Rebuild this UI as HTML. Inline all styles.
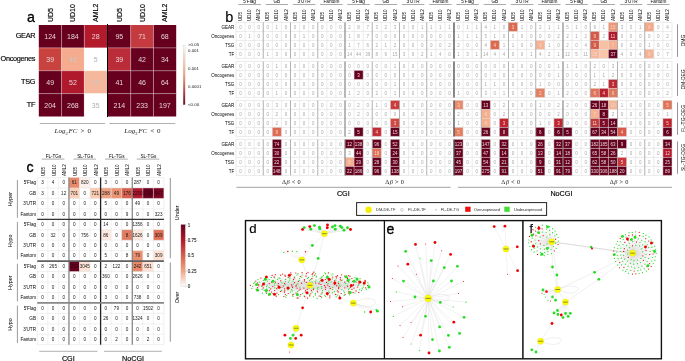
<!DOCTYPE html>
<html><head><meta charset="utf-8"><style>
html,body{margin:0;padding:0;background:#fff;}
svg{display:block;will-change:transform;}
</style></head><body>
<svg width="685" height="361" viewBox="0 0 685 361" font-family='"Liberation Sans", sans-serif'>
<rect width="685" height="361" fill="#fff"/>
<rect x="38.80" y="25.00" width="22.75" height="22.88" fill="#67001f"/>
<rect x="61.55" y="25.00" width="22.75" height="22.88" fill="#67001f"/>
<rect x="84.30" y="25.00" width="22.75" height="22.88" fill="#b31b2d"/>
<rect x="107.95" y="25.00" width="22.75" height="22.88" fill="#67001f"/>
<rect x="130.70" y="25.00" width="22.75" height="22.88" fill="#c43a3e"/>
<rect x="153.45" y="25.00" width="22.75" height="22.88" fill="#67001f"/>
<rect x="38.80" y="47.88" width="22.75" height="22.88" fill="#c8433f"/>
<rect x="61.55" y="47.88" width="22.75" height="22.88" fill="#f5ac8e"/>
<rect x="84.30" y="47.88" width="22.75" height="22.88" fill="#ffffff"/>
<rect x="107.95" y="47.88" width="22.75" height="22.88" fill="#ba2c37"/>
<rect x="130.70" y="47.88" width="22.75" height="22.88" fill="#67001f"/>
<rect x="153.45" y="47.88" width="22.75" height="22.88" fill="#67001f"/>
<rect x="38.80" y="70.75" width="22.75" height="22.88" fill="#67001f"/>
<rect x="61.55" y="70.75" width="22.75" height="22.88" fill="#b0192c"/>
<rect x="84.30" y="70.75" width="22.75" height="22.88" fill="#f6b89c"/>
<rect x="107.95" y="70.75" width="22.75" height="22.88" fill="#67001f"/>
<rect x="130.70" y="70.75" width="22.75" height="22.88" fill="#67001f"/>
<rect x="153.45" y="70.75" width="22.75" height="22.88" fill="#67001f"/>
<rect x="38.80" y="93.62" width="22.75" height="22.88" fill="#67001f"/>
<rect x="61.55" y="93.62" width="22.75" height="22.88" fill="#67001f"/>
<rect x="84.30" y="93.62" width="22.75" height="22.88" fill="#ffffff"/>
<rect x="107.95" y="93.62" width="22.75" height="22.88" fill="#67001f"/>
<rect x="130.70" y="93.62" width="22.75" height="22.88" fill="#67001f"/>
<rect x="153.45" y="93.62" width="22.75" height="22.88" fill="#67001f"/>
<text x="50.17" y="38.94" font-size="7.0" fill="#e6d2d6" text-anchor="middle">124</text>
<text x="72.92" y="38.94" font-size="7.0" fill="#e6d2d6" text-anchor="middle">184</text>
<text x="95.67" y="38.94" font-size="7.0" fill="#e6d2d6" text-anchor="middle">28</text>
<text x="119.33" y="38.94" font-size="7.0" fill="#e6d2d6" text-anchor="middle">95</text>
<text x="142.08" y="38.94" font-size="7.0" fill="#e6d2d6" text-anchor="middle">71</text>
<text x="164.83" y="38.94" font-size="7.0" fill="#e6d2d6" text-anchor="middle">68</text>
<text x="50.17" y="61.81" font-size="7.0" fill="#e6d2d6" text-anchor="middle">39</text>
<text x="72.92" y="61.81" font-size="7.0" fill="#c9c9c9" text-anchor="middle">42</text>
<text x="95.67" y="61.81" font-size="7.0" fill="#b0b0b0" text-anchor="middle">5</text>
<text x="119.33" y="61.81" font-size="7.0" fill="#e6d2d6" text-anchor="middle">39</text>
<text x="142.08" y="61.81" font-size="7.0" fill="#e6d2d6" text-anchor="middle">42</text>
<text x="164.83" y="61.81" font-size="7.0" fill="#e6d2d6" text-anchor="middle">34</text>
<text x="50.17" y="84.69" font-size="7.0" fill="#e6d2d6" text-anchor="middle">49</text>
<text x="72.92" y="84.69" font-size="7.0" fill="#e6d2d6" text-anchor="middle">52</text>
<text x="95.67" y="84.69" font-size="7.0" fill="#c9c9c9" text-anchor="middle">10</text>
<text x="119.33" y="84.69" font-size="7.0" fill="#e6d2d6" text-anchor="middle">41</text>
<text x="142.08" y="84.69" font-size="7.0" fill="#e6d2d6" text-anchor="middle">46</text>
<text x="164.83" y="84.69" font-size="7.0" fill="#e6d2d6" text-anchor="middle">64</text>
<text x="50.17" y="107.56" font-size="7.0" fill="#e6d2d6" text-anchor="middle">204</text>
<text x="72.92" y="107.56" font-size="7.0" fill="#e6d2d6" text-anchor="middle">268</text>
<text x="95.67" y="107.56" font-size="7.0" fill="#b0b0b0" text-anchor="middle">35</text>
<text x="119.33" y="107.56" font-size="7.0" fill="#e6d2d6" text-anchor="middle">214</text>
<text x="142.08" y="107.56" font-size="7.0" fill="#e6d2d6" text-anchor="middle">233</text>
<text x="164.83" y="107.56" font-size="7.0" fill="#e6d2d6" text-anchor="middle">197</text>
<line x1="61.55" y1="25.00" x2="61.55" y2="116.50" stroke="rgba(255,255,255,0.45)" stroke-width="0.7"/>
<line x1="84.30" y1="25.00" x2="84.30" y2="116.50" stroke="rgba(255,255,255,0.45)" stroke-width="0.7"/>
<line x1="130.70" y1="25.00" x2="130.70" y2="116.50" stroke="rgba(255,255,255,0.45)" stroke-width="0.7"/>
<line x1="153.45" y1="25.00" x2="153.45" y2="116.50" stroke="rgba(255,255,255,0.45)" stroke-width="0.7"/>
<line x1="38.80" y1="47.88" x2="176.20" y2="47.88" stroke="rgba(255,255,255,0.45)" stroke-width="0.7"/>
<line x1="38.80" y1="70.75" x2="176.20" y2="70.75" stroke="rgba(255,255,255,0.45)" stroke-width="0.7"/>
<line x1="38.80" y1="93.62" x2="176.20" y2="93.62" stroke="rgba(255,255,255,0.45)" stroke-width="0.7"/>
<line x1="107.50" y1="24.00" x2="107.50" y2="117.10" stroke="#000" stroke-width="1.0"/>
<text x="35.20" y="38.34" font-size="7.3" text-anchor="end" stroke="#000" stroke-width="0.15" letter-spacing="-0.3">GEAR</text>
<text x="35.20" y="61.21" font-size="7.3" text-anchor="end" stroke="#000" stroke-width="0.15" letter-spacing="-0.3">Oncogenes</text>
<text x="35.20" y="84.09" font-size="7.3" text-anchor="end" stroke="#000" stroke-width="0.15" letter-spacing="-0.3">TSG</text>
<text x="35.20" y="106.96" font-size="7.3" text-anchor="end" stroke="#000" stroke-width="0.15" letter-spacing="-0.3">TF</text>
<text x="52.67" y="22.00" font-size="7" transform="rotate(-90 52.67 22.00)" stroke="#000" stroke-width="0.15">UD5</text>
<text x="75.42" y="22.00" font-size="7" transform="rotate(-90 75.42 22.00)" stroke="#000" stroke-width="0.15">UD10</text>
<text x="98.17" y="22.00" font-size="7" transform="rotate(-90 98.17 22.00)" stroke="#000" stroke-width="0.15">AML2</text>
<text x="121.83" y="22.00" font-size="7" transform="rotate(-90 121.83 22.00)" stroke="#000" stroke-width="0.15">UD5</text>
<text x="144.58" y="22.00" font-size="7" transform="rotate(-90 144.58 22.00)" stroke="#000" stroke-width="0.15">UD10</text>
<text x="167.33" y="22.00" font-size="7" transform="rotate(-90 167.33 22.00)" stroke="#000" stroke-width="0.15">AML2</text>
<text x="27.00" y="21.70" font-size="14.2" stroke="#000" stroke-width="0.3">a</text>
<defs><linearGradient id="ga" x1="0" y1="0" x2="0" y2="1"><stop offset="0" stop-color="#ffffff"/><stop offset="0.08" stop-color="#fbefe8"/><stop offset="0.3" stop-color="#f5c9b0"/><stop offset="0.5" stop-color="#eba585"/><stop offset="0.7" stop-color="#cc5a55"/><stop offset="0.85" stop-color="#a02838"/><stop offset="1" stop-color="#67001f"/></linearGradient><linearGradient id="gc" x1="0" y1="0" x2="0" y2="1"><stop offset="0" stop-color="#67001f"/><stop offset="0.25" stop-color="#b2182b"/><stop offset="0.5" stop-color="#d6604d"/><stop offset="0.75" stop-color="#f4a582"/><stop offset="1" stop-color="#ffffff"/></linearGradient><radialGradient id="gell" cx="0.5" cy="0.5" r="0.5"><stop offset="0" stop-color="#999999" stop-opacity="1"/><stop offset="0.5" stop-color="#bbbbbb" stop-opacity="0.75"/><stop offset="1" stop-color="#e0e0e0" stop-opacity="0"/></radialGradient></defs>
<rect x="183.10" y="45.20" width="2.00" height="59.60" fill="url(#ga)" stroke="#bbbbbb" stroke-width="0.3"/>
<text x="188.00" y="46.00" font-size="4.4" fill="#222">&gt;0.05</text>
<text x="188.00" y="52.00" font-size="4.4" fill="#222">0.001</text>
<text x="188.00" y="70.30" font-size="4.4" fill="#222">0.001</text>
<text x="188.00" y="88.00" font-size="4.4" fill="#222">0.0001</text>
<text x="188.00" y="105.50" font-size="4.4" fill="#222">&lt;0.00</text>
<line x1="39.80" y1="123.50" x2="105.20" y2="123.50" stroke="#b0b0b0" stroke-width="1"/>
<line x1="109.40" y1="123.50" x2="175.30" y2="123.50" stroke="#b0b0b0" stroke-width="1"/>
<text y="133.2" font-size="7.0" fill="#222" font-family='"Liberation Serif", serif'><tspan x="54.6" font-style="italic">Log</tspan><tspan font-size="4.6" dy="1.5">2</tspan><tspan x="68.5" dy="-1.5" font-style="italic">FC</tspan><tspan x="80.6">&gt;</tspan><tspan x="87.4">0</tspan></text>
<text y="133.2" font-size="7.0" fill="#222" font-family='"Liberation Serif", serif'><tspan x="124.3" font-style="italic">Log</tspan><tspan font-size="4.6" dy="1.5">2</tspan><tspan x="138.2" dy="-1.5" font-style="italic">FC</tspan><tspan x="150.3">&lt;</tspan><tspan x="157.1">0</tspan></text>
<rect x="508.49" y="22.40" width="9.08" height="9.00" fill="#dd6a50"/>
<rect x="608.40" y="22.40" width="9.08" height="9.00" fill="#ef9677"/>
<rect x="644.74" y="22.40" width="9.08" height="9.00" fill="#f4a98a"/>
<rect x="590.24" y="31.40" width="9.08" height="9.00" fill="#d45a48"/>
<rect x="608.40" y="31.40" width="9.08" height="9.00" fill="#b2182b"/>
<rect x="490.32" y="40.40" width="9.08" height="9.00" fill="#dd6a50"/>
<rect x="535.74" y="40.40" width="9.08" height="9.00" fill="#f5b393"/>
<rect x="590.24" y="40.40" width="9.08" height="9.00" fill="#d45a48"/>
<rect x="599.32" y="40.40" width="9.08" height="9.00" fill="#f9c0a2"/>
<rect x="608.40" y="40.40" width="9.08" height="9.00" fill="#f6b090"/>
<rect x="590.24" y="49.40" width="9.08" height="9.00" fill="#f8b89a"/>
<rect x="599.32" y="49.40" width="9.08" height="9.00" fill="#fbc6aa"/>
<rect x="608.40" y="49.40" width="9.08" height="9.00" fill="#67001f"/>
<rect x="644.74" y="49.40" width="9.08" height="9.00" fill="#f6b495"/>
<line x1="236.00" y1="22.40" x2="671.98" y2="22.40" stroke="#d6d6d6" stroke-width="0.5"/>
<line x1="236.00" y1="31.40" x2="671.98" y2="31.40" stroke="#d6d6d6" stroke-width="0.5"/>
<line x1="236.00" y1="40.40" x2="671.98" y2="40.40" stroke="#d6d6d6" stroke-width="0.5"/>
<line x1="236.00" y1="49.40" x2="671.98" y2="49.40" stroke="#d6d6d6" stroke-width="0.5"/>
<line x1="236.00" y1="58.40" x2="671.98" y2="58.40" stroke="#d6d6d6" stroke-width="0.5"/>
<line x1="236.00" y1="22.40" x2="236.00" y2="58.40" stroke="#d6d6d6" stroke-width="0.5"/>
<line x1="245.08" y1="22.40" x2="245.08" y2="58.40" stroke="#d6d6d6" stroke-width="0.5"/>
<line x1="254.17" y1="22.40" x2="254.17" y2="58.40" stroke="#d6d6d6" stroke-width="0.5"/>
<line x1="263.25" y1="22.40" x2="263.25" y2="58.40" stroke="#a8a8a8" stroke-width="0.9"/>
<line x1="272.33" y1="22.40" x2="272.33" y2="58.40" stroke="#d6d6d6" stroke-width="0.5"/>
<line x1="281.42" y1="22.40" x2="281.42" y2="58.40" stroke="#d6d6d6" stroke-width="0.5"/>
<line x1="290.50" y1="22.40" x2="290.50" y2="58.40" stroke="#a8a8a8" stroke-width="0.9"/>
<line x1="299.58" y1="22.40" x2="299.58" y2="58.40" stroke="#d6d6d6" stroke-width="0.5"/>
<line x1="308.66" y1="22.40" x2="308.66" y2="58.40" stroke="#d6d6d6" stroke-width="0.5"/>
<line x1="317.75" y1="22.40" x2="317.75" y2="58.40" stroke="#a8a8a8" stroke-width="0.9"/>
<line x1="326.83" y1="22.40" x2="326.83" y2="58.40" stroke="#d6d6d6" stroke-width="0.5"/>
<line x1="335.91" y1="22.40" x2="335.91" y2="58.40" stroke="#d6d6d6" stroke-width="0.5"/>
<line x1="345.00" y1="22.40" x2="345.00" y2="58.40" stroke="#888888" stroke-width="1.2"/>
<line x1="354.08" y1="22.40" x2="354.08" y2="58.40" stroke="#d6d6d6" stroke-width="0.5"/>
<line x1="363.16" y1="22.40" x2="363.16" y2="58.40" stroke="#d6d6d6" stroke-width="0.5"/>
<line x1="372.25" y1="22.40" x2="372.25" y2="58.40" stroke="#a8a8a8" stroke-width="0.9"/>
<line x1="381.33" y1="22.40" x2="381.33" y2="58.40" stroke="#d6d6d6" stroke-width="0.5"/>
<line x1="390.41" y1="22.40" x2="390.41" y2="58.40" stroke="#d6d6d6" stroke-width="0.5"/>
<line x1="399.49" y1="22.40" x2="399.49" y2="58.40" stroke="#a8a8a8" stroke-width="0.9"/>
<line x1="408.58" y1="22.40" x2="408.58" y2="58.40" stroke="#d6d6d6" stroke-width="0.5"/>
<line x1="417.66" y1="22.40" x2="417.66" y2="58.40" stroke="#d6d6d6" stroke-width="0.5"/>
<line x1="426.74" y1="22.40" x2="426.74" y2="58.40" stroke="#a8a8a8" stroke-width="0.9"/>
<line x1="435.83" y1="22.40" x2="435.83" y2="58.40" stroke="#d6d6d6" stroke-width="0.5"/>
<line x1="444.91" y1="22.40" x2="444.91" y2="58.40" stroke="#d6d6d6" stroke-width="0.5"/>
<line x1="453.99" y1="22.40" x2="453.99" y2="58.40" stroke="#555555" stroke-width="1.4"/>
<line x1="463.08" y1="22.40" x2="463.08" y2="58.40" stroke="#d6d6d6" stroke-width="0.5"/>
<line x1="472.16" y1="22.40" x2="472.16" y2="58.40" stroke="#d6d6d6" stroke-width="0.5"/>
<line x1="481.24" y1="22.40" x2="481.24" y2="58.40" stroke="#a8a8a8" stroke-width="0.9"/>
<line x1="490.32" y1="22.40" x2="490.32" y2="58.40" stroke="#d6d6d6" stroke-width="0.5"/>
<line x1="499.41" y1="22.40" x2="499.41" y2="58.40" stroke="#d6d6d6" stroke-width="0.5"/>
<line x1="508.49" y1="22.40" x2="508.49" y2="58.40" stroke="#a8a8a8" stroke-width="0.9"/>
<line x1="517.57" y1="22.40" x2="517.57" y2="58.40" stroke="#d6d6d6" stroke-width="0.5"/>
<line x1="526.66" y1="22.40" x2="526.66" y2="58.40" stroke="#d6d6d6" stroke-width="0.5"/>
<line x1="535.74" y1="22.40" x2="535.74" y2="58.40" stroke="#a8a8a8" stroke-width="0.9"/>
<line x1="544.82" y1="22.40" x2="544.82" y2="58.40" stroke="#d6d6d6" stroke-width="0.5"/>
<line x1="553.90" y1="22.40" x2="553.90" y2="58.40" stroke="#d6d6d6" stroke-width="0.5"/>
<line x1="562.99" y1="22.40" x2="562.99" y2="58.40" stroke="#888888" stroke-width="1.2"/>
<line x1="572.07" y1="22.40" x2="572.07" y2="58.40" stroke="#d6d6d6" stroke-width="0.5"/>
<line x1="581.15" y1="22.40" x2="581.15" y2="58.40" stroke="#d6d6d6" stroke-width="0.5"/>
<line x1="590.24" y1="22.40" x2="590.24" y2="58.40" stroke="#a8a8a8" stroke-width="0.9"/>
<line x1="599.32" y1="22.40" x2="599.32" y2="58.40" stroke="#d6d6d6" stroke-width="0.5"/>
<line x1="608.40" y1="22.40" x2="608.40" y2="58.40" stroke="#d6d6d6" stroke-width="0.5"/>
<line x1="617.49" y1="22.40" x2="617.49" y2="58.40" stroke="#a8a8a8" stroke-width="0.9"/>
<line x1="626.57" y1="22.40" x2="626.57" y2="58.40" stroke="#d6d6d6" stroke-width="0.5"/>
<line x1="635.65" y1="22.40" x2="635.65" y2="58.40" stroke="#d6d6d6" stroke-width="0.5"/>
<line x1="644.74" y1="22.40" x2="644.74" y2="58.40" stroke="#a8a8a8" stroke-width="0.9"/>
<line x1="653.82" y1="22.40" x2="653.82" y2="58.40" stroke="#d6d6d6" stroke-width="0.5"/>
<line x1="662.90" y1="22.40" x2="662.90" y2="58.40" stroke="#d6d6d6" stroke-width="0.5"/>
<line x1="671.98" y1="22.40" x2="671.98" y2="58.40" stroke="#d6d6d6" stroke-width="0.5"/>
<text x="240.54" y="28.50" font-size="4.5" fill="#a8a8a8" text-anchor="middle">0</text>
<text x="249.62" y="28.50" font-size="4.5" fill="#a8a8a8" text-anchor="middle">0</text>
<text x="258.71" y="28.50" font-size="4.5" fill="#a8a8a8" text-anchor="middle">0</text>
<text x="267.79" y="28.50" font-size="4.5" fill="#a8a8a8" text-anchor="middle">0</text>
<text x="276.87" y="28.50" font-size="4.5" fill="#a8a8a8" text-anchor="middle">1</text>
<text x="285.96" y="28.50" font-size="4.5" fill="#a8a8a8" text-anchor="middle">0</text>
<text x="295.04" y="28.50" font-size="4.5" fill="#a8a8a8" text-anchor="middle">0</text>
<text x="304.12" y="28.50" font-size="4.5" fill="#a8a8a8" text-anchor="middle">0</text>
<text x="313.21" y="28.50" font-size="4.5" fill="#a8a8a8" text-anchor="middle">0</text>
<text x="322.29" y="28.50" font-size="4.5" fill="#a8a8a8" text-anchor="middle">0</text>
<text x="331.37" y="28.50" font-size="4.5" fill="#a8a8a8" text-anchor="middle">0</text>
<text x="340.45" y="28.50" font-size="4.5" fill="#a8a8a8" text-anchor="middle">0</text>
<text x="349.54" y="28.50" font-size="4.5" fill="#a8a8a8" text-anchor="middle">2</text>
<text x="358.62" y="28.50" font-size="4.5" fill="#a8a8a8" text-anchor="middle">8</text>
<text x="367.70" y="28.50" font-size="4.5" fill="#a8a8a8" text-anchor="middle">7</text>
<text x="376.79" y="28.50" font-size="4.5" fill="#a8a8a8" text-anchor="middle">3</text>
<text x="385.87" y="28.50" font-size="4.5" fill="#a8a8a8" text-anchor="middle">2</text>
<text x="394.95" y="28.50" font-size="4.5" fill="#a8a8a8" text-anchor="middle">3</text>
<text x="404.04" y="28.50" font-size="4.5" fill="#a8a8a8" text-anchor="middle">0</text>
<text x="413.12" y="28.50" font-size="4.5" fill="#a8a8a8" text-anchor="middle">0</text>
<text x="422.20" y="28.50" font-size="4.5" fill="#a8a8a8" text-anchor="middle">1</text>
<text x="431.28" y="28.50" font-size="4.5" fill="#a8a8a8" text-anchor="middle">1</text>
<text x="440.37" y="28.50" font-size="4.5" fill="#a8a8a8" text-anchor="middle">1</text>
<text x="449.45" y="28.50" font-size="4.5" fill="#a8a8a8" text-anchor="middle">1</text>
<text x="458.53" y="28.50" font-size="4.5" fill="#a8a8a8" text-anchor="middle">0</text>
<text x="467.62" y="28.50" font-size="4.5" fill="#a8a8a8" text-anchor="middle">1</text>
<text x="476.70" y="28.50" font-size="4.5" fill="#a8a8a8" text-anchor="middle">1</text>
<text x="485.78" y="28.50" font-size="4.5" fill="#a8a8a8" text-anchor="middle">4</text>
<text x="494.87" y="28.50" font-size="4.5" fill="#a8a8a8" text-anchor="middle">1</text>
<text x="503.95" y="28.50" font-size="4.5" fill="#a8a8a8" text-anchor="middle">0</text>
<text x="513.03" y="28.50" font-size="4.5" fill="#f0d8cc" text-anchor="middle">3</text>
<text x="522.11" y="28.50" font-size="4.5" fill="#a8a8a8" text-anchor="middle">1</text>
<text x="531.20" y="28.50" font-size="4.5" fill="#a8a8a8" text-anchor="middle">0</text>
<text x="540.28" y="28.50" font-size="4.5" fill="#a8a8a8" text-anchor="middle">2</text>
<text x="549.36" y="28.50" font-size="4.5" fill="#a8a8a8" text-anchor="middle">1</text>
<text x="558.45" y="28.50" font-size="4.5" fill="#a8a8a8" text-anchor="middle">1</text>
<text x="567.53" y="28.50" font-size="4.5" fill="#a8a8a8" text-anchor="middle">5</text>
<text x="576.61" y="28.50" font-size="4.5" fill="#a8a8a8" text-anchor="middle">1</text>
<text x="585.70" y="28.50" font-size="4.5" fill="#a8a8a8" text-anchor="middle">0</text>
<text x="594.78" y="28.50" font-size="4.5" fill="#a8a8a8" text-anchor="middle">9</text>
<text x="603.86" y="28.50" font-size="4.5" fill="#a8a8a8" text-anchor="middle">1</text>
<text x="612.94" y="28.50" font-size="4.5" fill="#f0d8cc" text-anchor="middle">15</text>
<text x="622.03" y="28.50" font-size="4.5" fill="#a8a8a8" text-anchor="middle">3</text>
<text x="631.11" y="28.50" font-size="4.5" fill="#a8a8a8" text-anchor="middle">0</text>
<text x="640.19" y="28.50" font-size="4.5" fill="#a8a8a8" text-anchor="middle">1</text>
<text x="649.28" y="28.50" font-size="4.5" fill="#f0d8cc" text-anchor="middle">4</text>
<text x="658.36" y="28.50" font-size="4.5" fill="#a8a8a8" text-anchor="middle">0</text>
<text x="667.44" y="28.50" font-size="4.5" fill="#a8a8a8" text-anchor="middle">4</text>
<text x="240.54" y="37.50" font-size="4.5" fill="#a8a8a8" text-anchor="middle">0</text>
<text x="249.62" y="37.50" font-size="4.5" fill="#a8a8a8" text-anchor="middle">1</text>
<text x="258.71" y="37.50" font-size="4.5" fill="#a8a8a8" text-anchor="middle">0</text>
<text x="267.79" y="37.50" font-size="4.5" fill="#a8a8a8" text-anchor="middle">0</text>
<text x="276.87" y="37.50" font-size="4.5" fill="#a8a8a8" text-anchor="middle">0</text>
<text x="285.96" y="37.50" font-size="4.5" fill="#a8a8a8" text-anchor="middle">0</text>
<text x="295.04" y="37.50" font-size="4.5" fill="#a8a8a8" text-anchor="middle">0</text>
<text x="304.12" y="37.50" font-size="4.5" fill="#a8a8a8" text-anchor="middle">1</text>
<text x="313.21" y="37.50" font-size="4.5" fill="#a8a8a8" text-anchor="middle">0</text>
<text x="322.29" y="37.50" font-size="4.5" fill="#a8a8a8" text-anchor="middle">0</text>
<text x="331.37" y="37.50" font-size="4.5" fill="#a8a8a8" text-anchor="middle">0</text>
<text x="340.45" y="37.50" font-size="4.5" fill="#a8a8a8" text-anchor="middle">0</text>
<text x="349.54" y="37.50" font-size="4.5" fill="#a8a8a8" text-anchor="middle">1</text>
<text x="358.62" y="37.50" font-size="4.5" fill="#a8a8a8" text-anchor="middle">8</text>
<text x="367.70" y="37.50" font-size="4.5" fill="#a8a8a8" text-anchor="middle">7</text>
<text x="376.79" y="37.50" font-size="4.5" fill="#a8a8a8" text-anchor="middle">0</text>
<text x="385.87" y="37.50" font-size="4.5" fill="#a8a8a8" text-anchor="middle">0</text>
<text x="394.95" y="37.50" font-size="4.5" fill="#a8a8a8" text-anchor="middle">0</text>
<text x="404.04" y="37.50" font-size="4.5" fill="#a8a8a8" text-anchor="middle">0</text>
<text x="413.12" y="37.50" font-size="4.5" fill="#a8a8a8" text-anchor="middle">0</text>
<text x="422.20" y="37.50" font-size="4.5" fill="#a8a8a8" text-anchor="middle">0</text>
<text x="431.28" y="37.50" font-size="4.5" fill="#a8a8a8" text-anchor="middle">0</text>
<text x="440.37" y="37.50" font-size="4.5" fill="#a8a8a8" text-anchor="middle">0</text>
<text x="449.45" y="37.50" font-size="4.5" fill="#a8a8a8" text-anchor="middle">0</text>
<text x="458.53" y="37.50" font-size="4.5" fill="#a8a8a8" text-anchor="middle">1</text>
<text x="467.62" y="37.50" font-size="4.5" fill="#a8a8a8" text-anchor="middle">1</text>
<text x="476.70" y="37.50" font-size="4.5" fill="#a8a8a8" text-anchor="middle">1</text>
<text x="485.78" y="37.50" font-size="4.5" fill="#a8a8a8" text-anchor="middle">5</text>
<text x="494.87" y="37.50" font-size="4.5" fill="#a8a8a8" text-anchor="middle">1</text>
<text x="503.95" y="37.50" font-size="4.5" fill="#a8a8a8" text-anchor="middle">0</text>
<text x="513.03" y="37.50" font-size="4.5" fill="#a8a8a8" text-anchor="middle">0</text>
<text x="522.11" y="37.50" font-size="4.5" fill="#a8a8a8" text-anchor="middle">0</text>
<text x="531.20" y="37.50" font-size="4.5" fill="#a8a8a8" text-anchor="middle">0</text>
<text x="540.28" y="37.50" font-size="4.5" fill="#a8a8a8" text-anchor="middle">0</text>
<text x="549.36" y="37.50" font-size="4.5" fill="#a8a8a8" text-anchor="middle">0</text>
<text x="558.45" y="37.50" font-size="4.5" fill="#a8a8a8" text-anchor="middle">2</text>
<text x="567.53" y="37.50" font-size="4.5" fill="#a8a8a8" text-anchor="middle">2</text>
<text x="576.61" y="37.50" font-size="4.5" fill="#a8a8a8" text-anchor="middle">1</text>
<text x="585.70" y="37.50" font-size="4.5" fill="#a8a8a8" text-anchor="middle">2</text>
<text x="594.78" y="37.50" font-size="4.5" fill="#f0d8cc" text-anchor="middle">9</text>
<text x="603.86" y="37.50" font-size="4.5" fill="#a8a8a8" text-anchor="middle">2</text>
<text x="612.94" y="37.50" font-size="4.5" fill="#e8d8da" text-anchor="middle">11</text>
<text x="622.03" y="37.50" font-size="4.5" fill="#a8a8a8" text-anchor="middle">0</text>
<text x="631.11" y="37.50" font-size="4.5" fill="#a8a8a8" text-anchor="middle">0</text>
<text x="640.19" y="37.50" font-size="4.5" fill="#a8a8a8" text-anchor="middle">0</text>
<text x="649.28" y="37.50" font-size="4.5" fill="#a8a8a8" text-anchor="middle">0</text>
<text x="658.36" y="37.50" font-size="4.5" fill="#a8a8a8" text-anchor="middle">0</text>
<text x="667.44" y="37.50" font-size="4.5" fill="#a8a8a8" text-anchor="middle">2</text>
<text x="240.54" y="46.50" font-size="4.5" fill="#a8a8a8" text-anchor="middle">0</text>
<text x="249.62" y="46.50" font-size="4.5" fill="#a8a8a8" text-anchor="middle">0</text>
<text x="258.71" y="46.50" font-size="4.5" fill="#a8a8a8" text-anchor="middle">0</text>
<text x="267.79" y="46.50" font-size="4.5" fill="#a8a8a8" text-anchor="middle">0</text>
<text x="276.87" y="46.50" font-size="4.5" fill="#a8a8a8" text-anchor="middle">0</text>
<text x="285.96" y="46.50" font-size="4.5" fill="#a8a8a8" text-anchor="middle">0</text>
<text x="295.04" y="46.50" font-size="4.5" fill="#a8a8a8" text-anchor="middle">0</text>
<text x="304.12" y="46.50" font-size="4.5" fill="#a8a8a8" text-anchor="middle">0</text>
<text x="313.21" y="46.50" font-size="4.5" fill="#a8a8a8" text-anchor="middle">0</text>
<text x="322.29" y="46.50" font-size="4.5" fill="#a8a8a8" text-anchor="middle">0</text>
<text x="331.37" y="46.50" font-size="4.5" fill="#a8a8a8" text-anchor="middle">0</text>
<text x="340.45" y="46.50" font-size="4.5" fill="#a8a8a8" text-anchor="middle">0</text>
<text x="349.54" y="46.50" font-size="4.5" fill="#a8a8a8" text-anchor="middle">1</text>
<text x="358.62" y="46.50" font-size="4.5" fill="#a8a8a8" text-anchor="middle">7</text>
<text x="367.70" y="46.50" font-size="4.5" fill="#a8a8a8" text-anchor="middle">6</text>
<text x="376.79" y="46.50" font-size="4.5" fill="#a8a8a8" text-anchor="middle">2</text>
<text x="385.87" y="46.50" font-size="4.5" fill="#a8a8a8" text-anchor="middle">1</text>
<text x="394.95" y="46.50" font-size="4.5" fill="#a8a8a8" text-anchor="middle">2</text>
<text x="404.04" y="46.50" font-size="4.5" fill="#a8a8a8" text-anchor="middle">0</text>
<text x="413.12" y="46.50" font-size="4.5" fill="#a8a8a8" text-anchor="middle">0</text>
<text x="422.20" y="46.50" font-size="4.5" fill="#a8a8a8" text-anchor="middle">0</text>
<text x="431.28" y="46.50" font-size="4.5" fill="#a8a8a8" text-anchor="middle">0</text>
<text x="440.37" y="46.50" font-size="4.5" fill="#a8a8a8" text-anchor="middle">0</text>
<text x="449.45" y="46.50" font-size="4.5" fill="#a8a8a8" text-anchor="middle">2</text>
<text x="458.53" y="46.50" font-size="4.5" fill="#a8a8a8" text-anchor="middle">2</text>
<text x="467.62" y="46.50" font-size="4.5" fill="#a8a8a8" text-anchor="middle">0</text>
<text x="476.70" y="46.50" font-size="4.5" fill="#a8a8a8" text-anchor="middle">0</text>
<text x="485.78" y="46.50" font-size="4.5" fill="#a8a8a8" text-anchor="middle">4</text>
<text x="494.87" y="46.50" font-size="4.5" fill="#f0d8cc" text-anchor="middle">4</text>
<text x="503.95" y="46.50" font-size="4.5" fill="#a8a8a8" text-anchor="middle">1</text>
<text x="513.03" y="46.50" font-size="4.5" fill="#a8a8a8" text-anchor="middle">1</text>
<text x="522.11" y="46.50" font-size="4.5" fill="#a8a8a8" text-anchor="middle">0</text>
<text x="531.20" y="46.50" font-size="4.5" fill="#a8a8a8" text-anchor="middle">0</text>
<text x="540.28" y="46.50" font-size="4.5" fill="#f0d8cc" text-anchor="middle">3</text>
<text x="549.36" y="46.50" font-size="4.5" fill="#a8a8a8" text-anchor="middle">1</text>
<text x="558.45" y="46.50" font-size="4.5" fill="#a8a8a8" text-anchor="middle">0</text>
<text x="567.53" y="46.50" font-size="4.5" fill="#a8a8a8" text-anchor="middle">2</text>
<text x="576.61" y="46.50" font-size="4.5" fill="#a8a8a8" text-anchor="middle">0</text>
<text x="585.70" y="46.50" font-size="4.5" fill="#a8a8a8" text-anchor="middle">4</text>
<text x="594.78" y="46.50" font-size="4.5" fill="#f0d8cc" text-anchor="middle">9</text>
<text x="603.86" y="46.50" font-size="4.5" fill="#e9c6b8" text-anchor="middle">3</text>
<text x="612.94" y="46.50" font-size="4.5" fill="#f0d8cc" text-anchor="middle">7</text>
<text x="622.03" y="46.50" font-size="4.5" fill="#a8a8a8" text-anchor="middle">0</text>
<text x="631.11" y="46.50" font-size="4.5" fill="#a8a8a8" text-anchor="middle">0</text>
<text x="640.19" y="46.50" font-size="4.5" fill="#a8a8a8" text-anchor="middle">0</text>
<text x="649.28" y="46.50" font-size="4.5" fill="#a8a8a8" text-anchor="middle">1</text>
<text x="658.36" y="46.50" font-size="4.5" fill="#a8a8a8" text-anchor="middle">0</text>
<text x="667.44" y="46.50" font-size="4.5" fill="#a8a8a8" text-anchor="middle">0</text>
<text x="240.54" y="55.50" font-size="4.5" fill="#a8a8a8" text-anchor="middle">0</text>
<text x="249.62" y="55.50" font-size="4.5" fill="#a8a8a8" text-anchor="middle">0</text>
<text x="258.71" y="55.50" font-size="4.5" fill="#a8a8a8" text-anchor="middle">0</text>
<text x="267.79" y="55.50" font-size="4.5" fill="#a8a8a8" text-anchor="middle">1</text>
<text x="276.87" y="55.50" font-size="4.5" fill="#a8a8a8" text-anchor="middle">3</text>
<text x="285.96" y="55.50" font-size="4.5" fill="#a8a8a8" text-anchor="middle">0</text>
<text x="295.04" y="55.50" font-size="4.5" fill="#a8a8a8" text-anchor="middle">0</text>
<text x="304.12" y="55.50" font-size="4.5" fill="#a8a8a8" text-anchor="middle">0</text>
<text x="313.21" y="55.50" font-size="4.5" fill="#a8a8a8" text-anchor="middle">0</text>
<text x="322.29" y="55.50" font-size="4.5" fill="#a8a8a8" text-anchor="middle">0</text>
<text x="331.37" y="55.50" font-size="4.5" fill="#a8a8a8" text-anchor="middle">0</text>
<text x="340.45" y="55.50" font-size="4.5" fill="#a8a8a8" text-anchor="middle">0</text>
<text x="349.54" y="55.50" font-size="4.5" fill="#a8a8a8" text-anchor="middle">14</text>
<text x="358.62" y="55.50" font-size="4.5" fill="#a8a8a8" text-anchor="middle">44</text>
<text x="367.70" y="55.50" font-size="4.5" fill="#a8a8a8" text-anchor="middle">39</text>
<text x="376.79" y="55.50" font-size="4.5" fill="#a8a8a8" text-anchor="middle">8</text>
<text x="385.87" y="55.50" font-size="4.5" fill="#a8a8a8" text-anchor="middle">9</text>
<text x="394.95" y="55.50" font-size="4.5" fill="#a8a8a8" text-anchor="middle">15</text>
<text x="404.04" y="55.50" font-size="4.5" fill="#a8a8a8" text-anchor="middle">3</text>
<text x="413.12" y="55.50" font-size="4.5" fill="#a8a8a8" text-anchor="middle">0</text>
<text x="422.20" y="55.50" font-size="4.5" fill="#a8a8a8" text-anchor="middle">2</text>
<text x="431.28" y="55.50" font-size="4.5" fill="#a8a8a8" text-anchor="middle">1</text>
<text x="440.37" y="55.50" font-size="4.5" fill="#a8a8a8" text-anchor="middle">4</text>
<text x="449.45" y="55.50" font-size="4.5" fill="#a8a8a8" text-anchor="middle">0</text>
<text x="458.53" y="55.50" font-size="4.5" fill="#a8a8a8" text-anchor="middle">1</text>
<text x="467.62" y="55.50" font-size="4.5" fill="#a8a8a8" text-anchor="middle">3</text>
<text x="476.70" y="55.50" font-size="4.5" fill="#a8a8a8" text-anchor="middle">1</text>
<text x="485.78" y="55.50" font-size="4.5" fill="#a8a8a8" text-anchor="middle">14</text>
<text x="494.87" y="55.50" font-size="4.5" fill="#a8a8a8" text-anchor="middle">4</text>
<text x="503.95" y="55.50" font-size="4.5" fill="#a8a8a8" text-anchor="middle">4</text>
<text x="513.03" y="55.50" font-size="4.5" fill="#a8a8a8" text-anchor="middle">0</text>
<text x="522.11" y="55.50" font-size="4.5" fill="#a8a8a8" text-anchor="middle">0</text>
<text x="531.20" y="55.50" font-size="4.5" fill="#a8a8a8" text-anchor="middle">1</text>
<text x="540.28" y="55.50" font-size="4.5" fill="#a8a8a8" text-anchor="middle">4</text>
<text x="549.36" y="55.50" font-size="4.5" fill="#a8a8a8" text-anchor="middle">2</text>
<text x="558.45" y="55.50" font-size="4.5" fill="#a8a8a8" text-anchor="middle">1</text>
<text x="567.53" y="55.50" font-size="4.5" fill="#a8a8a8" text-anchor="middle">12</text>
<text x="576.61" y="55.50" font-size="4.5" fill="#a8a8a8" text-anchor="middle">5</text>
<text x="585.70" y="55.50" font-size="4.5" fill="#a8a8a8" text-anchor="middle">11</text>
<text x="594.78" y="55.50" font-size="4.5" fill="#f0d8cc" text-anchor="middle">25</text>
<text x="603.86" y="55.50" font-size="4.5" fill="#e9c6b8" text-anchor="middle">8</text>
<text x="612.94" y="55.50" font-size="4.5" fill="#e8d8da" text-anchor="middle">37</text>
<text x="622.03" y="55.50" font-size="4.5" fill="#a8a8a8" text-anchor="middle">4</text>
<text x="631.11" y="55.50" font-size="4.5" fill="#a8a8a8" text-anchor="middle">0</text>
<text x="640.19" y="55.50" font-size="4.5" fill="#a8a8a8" text-anchor="middle">4</text>
<text x="649.28" y="55.50" font-size="4.5" fill="#f0d8cc" text-anchor="middle">6</text>
<text x="658.36" y="55.50" font-size="4.5" fill="#a8a8a8" text-anchor="middle">0</text>
<text x="667.44" y="55.50" font-size="4.5" fill="#a8a8a8" text-anchor="middle">7</text>
<text x="234.20" y="28.50" font-size="4.5" text-anchor="end">GEAR</text>
<text x="234.20" y="37.50" font-size="4.5" text-anchor="end">Oncogenes</text>
<text x="234.20" y="46.50" font-size="4.5" text-anchor="end">TSG</text>
<text x="234.20" y="55.50" font-size="4.5" text-anchor="end">TF</text>
<rect x="354.08" y="70.40" width="9.08" height="9.00" fill="#67001f"/>
<rect x="608.40" y="79.40" width="9.08" height="9.00" fill="#bb2a33"/>
<rect x="535.74" y="88.40" width="9.08" height="9.00" fill="#e58062"/>
<rect x="590.24" y="88.40" width="9.08" height="9.00" fill="#df7459"/>
<rect x="599.32" y="88.40" width="9.08" height="9.00" fill="#b8202f"/>
<rect x="608.40" y="88.40" width="9.08" height="9.00" fill="#e07a5e"/>
<line x1="236.00" y1="61.40" x2="671.98" y2="61.40" stroke="#d6d6d6" stroke-width="0.5"/>
<line x1="236.00" y1="70.40" x2="671.98" y2="70.40" stroke="#d6d6d6" stroke-width="0.5"/>
<line x1="236.00" y1="79.40" x2="671.98" y2="79.40" stroke="#d6d6d6" stroke-width="0.5"/>
<line x1="236.00" y1="88.40" x2="671.98" y2="88.40" stroke="#d6d6d6" stroke-width="0.5"/>
<line x1="236.00" y1="97.40" x2="671.98" y2="97.40" stroke="#d6d6d6" stroke-width="0.5"/>
<line x1="236.00" y1="61.40" x2="236.00" y2="97.40" stroke="#d6d6d6" stroke-width="0.5"/>
<line x1="245.08" y1="61.40" x2="245.08" y2="97.40" stroke="#d6d6d6" stroke-width="0.5"/>
<line x1="254.17" y1="61.40" x2="254.17" y2="97.40" stroke="#d6d6d6" stroke-width="0.5"/>
<line x1="263.25" y1="61.40" x2="263.25" y2="97.40" stroke="#a8a8a8" stroke-width="0.9"/>
<line x1="272.33" y1="61.40" x2="272.33" y2="97.40" stroke="#d6d6d6" stroke-width="0.5"/>
<line x1="281.42" y1="61.40" x2="281.42" y2="97.40" stroke="#d6d6d6" stroke-width="0.5"/>
<line x1="290.50" y1="61.40" x2="290.50" y2="97.40" stroke="#a8a8a8" stroke-width="0.9"/>
<line x1="299.58" y1="61.40" x2="299.58" y2="97.40" stroke="#d6d6d6" stroke-width="0.5"/>
<line x1="308.66" y1="61.40" x2="308.66" y2="97.40" stroke="#d6d6d6" stroke-width="0.5"/>
<line x1="317.75" y1="61.40" x2="317.75" y2="97.40" stroke="#a8a8a8" stroke-width="0.9"/>
<line x1="326.83" y1="61.40" x2="326.83" y2="97.40" stroke="#d6d6d6" stroke-width="0.5"/>
<line x1="335.91" y1="61.40" x2="335.91" y2="97.40" stroke="#d6d6d6" stroke-width="0.5"/>
<line x1="345.00" y1="61.40" x2="345.00" y2="97.40" stroke="#888888" stroke-width="1.2"/>
<line x1="354.08" y1="61.40" x2="354.08" y2="97.40" stroke="#d6d6d6" stroke-width="0.5"/>
<line x1="363.16" y1="61.40" x2="363.16" y2="97.40" stroke="#d6d6d6" stroke-width="0.5"/>
<line x1="372.25" y1="61.40" x2="372.25" y2="97.40" stroke="#a8a8a8" stroke-width="0.9"/>
<line x1="381.33" y1="61.40" x2="381.33" y2="97.40" stroke="#d6d6d6" stroke-width="0.5"/>
<line x1="390.41" y1="61.40" x2="390.41" y2="97.40" stroke="#d6d6d6" stroke-width="0.5"/>
<line x1="399.49" y1="61.40" x2="399.49" y2="97.40" stroke="#a8a8a8" stroke-width="0.9"/>
<line x1="408.58" y1="61.40" x2="408.58" y2="97.40" stroke="#d6d6d6" stroke-width="0.5"/>
<line x1="417.66" y1="61.40" x2="417.66" y2="97.40" stroke="#d6d6d6" stroke-width="0.5"/>
<line x1="426.74" y1="61.40" x2="426.74" y2="97.40" stroke="#a8a8a8" stroke-width="0.9"/>
<line x1="435.83" y1="61.40" x2="435.83" y2="97.40" stroke="#d6d6d6" stroke-width="0.5"/>
<line x1="444.91" y1="61.40" x2="444.91" y2="97.40" stroke="#d6d6d6" stroke-width="0.5"/>
<line x1="453.99" y1="61.40" x2="453.99" y2="97.40" stroke="#555555" stroke-width="1.4"/>
<line x1="463.08" y1="61.40" x2="463.08" y2="97.40" stroke="#d6d6d6" stroke-width="0.5"/>
<line x1="472.16" y1="61.40" x2="472.16" y2="97.40" stroke="#d6d6d6" stroke-width="0.5"/>
<line x1="481.24" y1="61.40" x2="481.24" y2="97.40" stroke="#a8a8a8" stroke-width="0.9"/>
<line x1="490.32" y1="61.40" x2="490.32" y2="97.40" stroke="#d6d6d6" stroke-width="0.5"/>
<line x1="499.41" y1="61.40" x2="499.41" y2="97.40" stroke="#d6d6d6" stroke-width="0.5"/>
<line x1="508.49" y1="61.40" x2="508.49" y2="97.40" stroke="#a8a8a8" stroke-width="0.9"/>
<line x1="517.57" y1="61.40" x2="517.57" y2="97.40" stroke="#d6d6d6" stroke-width="0.5"/>
<line x1="526.66" y1="61.40" x2="526.66" y2="97.40" stroke="#d6d6d6" stroke-width="0.5"/>
<line x1="535.74" y1="61.40" x2="535.74" y2="97.40" stroke="#a8a8a8" stroke-width="0.9"/>
<line x1="544.82" y1="61.40" x2="544.82" y2="97.40" stroke="#d6d6d6" stroke-width="0.5"/>
<line x1="553.90" y1="61.40" x2="553.90" y2="97.40" stroke="#d6d6d6" stroke-width="0.5"/>
<line x1="562.99" y1="61.40" x2="562.99" y2="97.40" stroke="#888888" stroke-width="1.2"/>
<line x1="572.07" y1="61.40" x2="572.07" y2="97.40" stroke="#d6d6d6" stroke-width="0.5"/>
<line x1="581.15" y1="61.40" x2="581.15" y2="97.40" stroke="#d6d6d6" stroke-width="0.5"/>
<line x1="590.24" y1="61.40" x2="590.24" y2="97.40" stroke="#a8a8a8" stroke-width="0.9"/>
<line x1="599.32" y1="61.40" x2="599.32" y2="97.40" stroke="#d6d6d6" stroke-width="0.5"/>
<line x1="608.40" y1="61.40" x2="608.40" y2="97.40" stroke="#d6d6d6" stroke-width="0.5"/>
<line x1="617.49" y1="61.40" x2="617.49" y2="97.40" stroke="#a8a8a8" stroke-width="0.9"/>
<line x1="626.57" y1="61.40" x2="626.57" y2="97.40" stroke="#d6d6d6" stroke-width="0.5"/>
<line x1="635.65" y1="61.40" x2="635.65" y2="97.40" stroke="#d6d6d6" stroke-width="0.5"/>
<line x1="644.74" y1="61.40" x2="644.74" y2="97.40" stroke="#a8a8a8" stroke-width="0.9"/>
<line x1="653.82" y1="61.40" x2="653.82" y2="97.40" stroke="#d6d6d6" stroke-width="0.5"/>
<line x1="662.90" y1="61.40" x2="662.90" y2="97.40" stroke="#d6d6d6" stroke-width="0.5"/>
<line x1="671.98" y1="61.40" x2="671.98" y2="97.40" stroke="#d6d6d6" stroke-width="0.5"/>
<text x="240.54" y="67.50" font-size="4.5" fill="#a8a8a8" text-anchor="middle">0</text>
<text x="249.62" y="67.50" font-size="4.5" fill="#a8a8a8" text-anchor="middle">0</text>
<text x="258.71" y="67.50" font-size="4.5" fill="#a8a8a8" text-anchor="middle">0</text>
<text x="267.79" y="67.50" font-size="4.5" fill="#a8a8a8" text-anchor="middle">0</text>
<text x="276.87" y="67.50" font-size="4.5" fill="#a8a8a8" text-anchor="middle">1</text>
<text x="285.96" y="67.50" font-size="4.5" fill="#a8a8a8" text-anchor="middle">0</text>
<text x="295.04" y="67.50" font-size="4.5" fill="#a8a8a8" text-anchor="middle">0</text>
<text x="304.12" y="67.50" font-size="4.5" fill="#a8a8a8" text-anchor="middle">0</text>
<text x="313.21" y="67.50" font-size="4.5" fill="#a8a8a8" text-anchor="middle">0</text>
<text x="322.29" y="67.50" font-size="4.5" fill="#a8a8a8" text-anchor="middle">0</text>
<text x="331.37" y="67.50" font-size="4.5" fill="#a8a8a8" text-anchor="middle">0</text>
<text x="340.45" y="67.50" font-size="4.5" fill="#a8a8a8" text-anchor="middle">0</text>
<text x="349.54" y="67.50" font-size="4.5" fill="#a8a8a8" text-anchor="middle">0</text>
<text x="358.62" y="67.50" font-size="4.5" fill="#a8a8a8" text-anchor="middle">0</text>
<text x="367.70" y="67.50" font-size="4.5" fill="#a8a8a8" text-anchor="middle">0</text>
<text x="376.79" y="67.50" font-size="4.5" fill="#a8a8a8" text-anchor="middle">0</text>
<text x="385.87" y="67.50" font-size="4.5" fill="#a8a8a8" text-anchor="middle">0</text>
<text x="394.95" y="67.50" font-size="4.5" fill="#a8a8a8" text-anchor="middle">1</text>
<text x="404.04" y="67.50" font-size="4.5" fill="#a8a8a8" text-anchor="middle">0</text>
<text x="413.12" y="67.50" font-size="4.5" fill="#a8a8a8" text-anchor="middle">0</text>
<text x="422.20" y="67.50" font-size="4.5" fill="#a8a8a8" text-anchor="middle">0</text>
<text x="431.28" y="67.50" font-size="4.5" fill="#a8a8a8" text-anchor="middle">0</text>
<text x="440.37" y="67.50" font-size="4.5" fill="#a8a8a8" text-anchor="middle">0</text>
<text x="449.45" y="67.50" font-size="4.5" fill="#a8a8a8" text-anchor="middle">0</text>
<text x="458.53" y="67.50" font-size="4.5" fill="#a8a8a8" text-anchor="middle">0</text>
<text x="467.62" y="67.50" font-size="4.5" fill="#a8a8a8" text-anchor="middle">0</text>
<text x="476.70" y="67.50" font-size="4.5" fill="#a8a8a8" text-anchor="middle">0</text>
<text x="485.78" y="67.50" font-size="4.5" fill="#a8a8a8" text-anchor="middle">0</text>
<text x="494.87" y="67.50" font-size="4.5" fill="#a8a8a8" text-anchor="middle">0</text>
<text x="503.95" y="67.50" font-size="4.5" fill="#a8a8a8" text-anchor="middle">0</text>
<text x="513.03" y="67.50" font-size="4.5" fill="#a8a8a8" text-anchor="middle">0</text>
<text x="522.11" y="67.50" font-size="4.5" fill="#a8a8a8" text-anchor="middle">0</text>
<text x="531.20" y="67.50" font-size="4.5" fill="#a8a8a8" text-anchor="middle">0</text>
<text x="540.28" y="67.50" font-size="4.5" fill="#a8a8a8" text-anchor="middle">0</text>
<text x="549.36" y="67.50" font-size="4.5" fill="#a8a8a8" text-anchor="middle">0</text>
<text x="558.45" y="67.50" font-size="4.5" fill="#a8a8a8" text-anchor="middle">1</text>
<text x="567.53" y="67.50" font-size="4.5" fill="#a8a8a8" text-anchor="middle">1</text>
<text x="576.61" y="67.50" font-size="4.5" fill="#a8a8a8" text-anchor="middle">1</text>
<text x="585.70" y="67.50" font-size="4.5" fill="#a8a8a8" text-anchor="middle">0</text>
<text x="594.78" y="67.50" font-size="4.5" fill="#a8a8a8" text-anchor="middle">2</text>
<text x="603.86" y="67.50" font-size="4.5" fill="#a8a8a8" text-anchor="middle">0</text>
<text x="612.94" y="67.50" font-size="4.5" fill="#a8a8a8" text-anchor="middle">3</text>
<text x="622.03" y="67.50" font-size="4.5" fill="#a8a8a8" text-anchor="middle">1</text>
<text x="631.11" y="67.50" font-size="4.5" fill="#a8a8a8" text-anchor="middle">0</text>
<text x="640.19" y="67.50" font-size="4.5" fill="#a8a8a8" text-anchor="middle">0</text>
<text x="649.28" y="67.50" font-size="4.5" fill="#a8a8a8" text-anchor="middle">0</text>
<text x="658.36" y="67.50" font-size="4.5" fill="#a8a8a8" text-anchor="middle">0</text>
<text x="667.44" y="67.50" font-size="4.5" fill="#a8a8a8" text-anchor="middle">1</text>
<text x="240.54" y="76.50" font-size="4.5" fill="#a8a8a8" text-anchor="middle">0</text>
<text x="249.62" y="76.50" font-size="4.5" fill="#a8a8a8" text-anchor="middle">0</text>
<text x="258.71" y="76.50" font-size="4.5" fill="#a8a8a8" text-anchor="middle">0</text>
<text x="267.79" y="76.50" font-size="4.5" fill="#a8a8a8" text-anchor="middle">0</text>
<text x="276.87" y="76.50" font-size="4.5" fill="#a8a8a8" text-anchor="middle">0</text>
<text x="285.96" y="76.50" font-size="4.5" fill="#a8a8a8" text-anchor="middle">0</text>
<text x="295.04" y="76.50" font-size="4.5" fill="#a8a8a8" text-anchor="middle">0</text>
<text x="304.12" y="76.50" font-size="4.5" fill="#a8a8a8" text-anchor="middle">0</text>
<text x="313.21" y="76.50" font-size="4.5" fill="#a8a8a8" text-anchor="middle">0</text>
<text x="322.29" y="76.50" font-size="4.5" fill="#a8a8a8" text-anchor="middle">0</text>
<text x="331.37" y="76.50" font-size="4.5" fill="#a8a8a8" text-anchor="middle">0</text>
<text x="340.45" y="76.50" font-size="4.5" fill="#a8a8a8" text-anchor="middle">0</text>
<text x="349.54" y="76.50" font-size="4.5" fill="#a8a8a8" text-anchor="middle">0</text>
<text x="358.62" y="76.50" font-size="4.5" fill="#e8d8da" text-anchor="middle">3</text>
<text x="367.70" y="76.50" font-size="4.5" fill="#a8a8a8" text-anchor="middle">0</text>
<text x="376.79" y="76.50" font-size="4.5" fill="#a8a8a8" text-anchor="middle">0</text>
<text x="385.87" y="76.50" font-size="4.5" fill="#a8a8a8" text-anchor="middle">0</text>
<text x="394.95" y="76.50" font-size="4.5" fill="#a8a8a8" text-anchor="middle">0</text>
<text x="404.04" y="76.50" font-size="4.5" fill="#a8a8a8" text-anchor="middle">0</text>
<text x="413.12" y="76.50" font-size="4.5" fill="#a8a8a8" text-anchor="middle">0</text>
<text x="422.20" y="76.50" font-size="4.5" fill="#a8a8a8" text-anchor="middle">0</text>
<text x="431.28" y="76.50" font-size="4.5" fill="#a8a8a8" text-anchor="middle">0</text>
<text x="440.37" y="76.50" font-size="4.5" fill="#a8a8a8" text-anchor="middle">0</text>
<text x="449.45" y="76.50" font-size="4.5" fill="#a8a8a8" text-anchor="middle">0</text>
<text x="458.53" y="76.50" font-size="4.5" fill="#a8a8a8" text-anchor="middle">0</text>
<text x="467.62" y="76.50" font-size="4.5" fill="#a8a8a8" text-anchor="middle">0</text>
<text x="476.70" y="76.50" font-size="4.5" fill="#a8a8a8" text-anchor="middle">0</text>
<text x="485.78" y="76.50" font-size="4.5" fill="#a8a8a8" text-anchor="middle">0</text>
<text x="494.87" y="76.50" font-size="4.5" fill="#a8a8a8" text-anchor="middle">0</text>
<text x="503.95" y="76.50" font-size="4.5" fill="#a8a8a8" text-anchor="middle">0</text>
<text x="513.03" y="76.50" font-size="4.5" fill="#a8a8a8" text-anchor="middle">0</text>
<text x="522.11" y="76.50" font-size="4.5" fill="#a8a8a8" text-anchor="middle">0</text>
<text x="531.20" y="76.50" font-size="4.5" fill="#a8a8a8" text-anchor="middle">0</text>
<text x="540.28" y="76.50" font-size="4.5" fill="#a8a8a8" text-anchor="middle">0</text>
<text x="549.36" y="76.50" font-size="4.5" fill="#a8a8a8" text-anchor="middle">0</text>
<text x="558.45" y="76.50" font-size="4.5" fill="#a8a8a8" text-anchor="middle">1</text>
<text x="567.53" y="76.50" font-size="4.5" fill="#a8a8a8" text-anchor="middle">0</text>
<text x="576.61" y="76.50" font-size="4.5" fill="#a8a8a8" text-anchor="middle">0</text>
<text x="585.70" y="76.50" font-size="4.5" fill="#a8a8a8" text-anchor="middle">0</text>
<text x="594.78" y="76.50" font-size="4.5" fill="#a8a8a8" text-anchor="middle">1</text>
<text x="603.86" y="76.50" font-size="4.5" fill="#a8a8a8" text-anchor="middle">1</text>
<text x="612.94" y="76.50" font-size="4.5" fill="#a8a8a8" text-anchor="middle">2</text>
<text x="622.03" y="76.50" font-size="4.5" fill="#a8a8a8" text-anchor="middle">0</text>
<text x="631.11" y="76.50" font-size="4.5" fill="#a8a8a8" text-anchor="middle">0</text>
<text x="640.19" y="76.50" font-size="4.5" fill="#a8a8a8" text-anchor="middle">0</text>
<text x="649.28" y="76.50" font-size="4.5" fill="#a8a8a8" text-anchor="middle">0</text>
<text x="658.36" y="76.50" font-size="4.5" fill="#a8a8a8" text-anchor="middle">0</text>
<text x="667.44" y="76.50" font-size="4.5" fill="#a8a8a8" text-anchor="middle">0</text>
<text x="240.54" y="85.50" font-size="4.5" fill="#a8a8a8" text-anchor="middle">0</text>
<text x="249.62" y="85.50" font-size="4.5" fill="#a8a8a8" text-anchor="middle">0</text>
<text x="258.71" y="85.50" font-size="4.5" fill="#a8a8a8" text-anchor="middle">0</text>
<text x="267.79" y="85.50" font-size="4.5" fill="#a8a8a8" text-anchor="middle">0</text>
<text x="276.87" y="85.50" font-size="4.5" fill="#a8a8a8" text-anchor="middle">0</text>
<text x="285.96" y="85.50" font-size="4.5" fill="#a8a8a8" text-anchor="middle">0</text>
<text x="295.04" y="85.50" font-size="4.5" fill="#a8a8a8" text-anchor="middle">0</text>
<text x="304.12" y="85.50" font-size="4.5" fill="#a8a8a8" text-anchor="middle">0</text>
<text x="313.21" y="85.50" font-size="4.5" fill="#a8a8a8" text-anchor="middle">0</text>
<text x="322.29" y="85.50" font-size="4.5" fill="#a8a8a8" text-anchor="middle">0</text>
<text x="331.37" y="85.50" font-size="4.5" fill="#a8a8a8" text-anchor="middle">0</text>
<text x="340.45" y="85.50" font-size="4.5" fill="#a8a8a8" text-anchor="middle">0</text>
<text x="349.54" y="85.50" font-size="4.5" fill="#a8a8a8" text-anchor="middle">0</text>
<text x="358.62" y="85.50" font-size="4.5" fill="#a8a8a8" text-anchor="middle">0</text>
<text x="367.70" y="85.50" font-size="4.5" fill="#a8a8a8" text-anchor="middle">0</text>
<text x="376.79" y="85.50" font-size="4.5" fill="#a8a8a8" text-anchor="middle">0</text>
<text x="385.87" y="85.50" font-size="4.5" fill="#a8a8a8" text-anchor="middle">0</text>
<text x="394.95" y="85.50" font-size="4.5" fill="#a8a8a8" text-anchor="middle">1</text>
<text x="404.04" y="85.50" font-size="4.5" fill="#a8a8a8" text-anchor="middle">0</text>
<text x="413.12" y="85.50" font-size="4.5" fill="#a8a8a8" text-anchor="middle">0</text>
<text x="422.20" y="85.50" font-size="4.5" fill="#a8a8a8" text-anchor="middle">0</text>
<text x="431.28" y="85.50" font-size="4.5" fill="#a8a8a8" text-anchor="middle">0</text>
<text x="440.37" y="85.50" font-size="4.5" fill="#a8a8a8" text-anchor="middle">0</text>
<text x="449.45" y="85.50" font-size="4.5" fill="#a8a8a8" text-anchor="middle">0</text>
<text x="458.53" y="85.50" font-size="4.5" fill="#a8a8a8" text-anchor="middle">0</text>
<text x="467.62" y="85.50" font-size="4.5" fill="#a8a8a8" text-anchor="middle">0</text>
<text x="476.70" y="85.50" font-size="4.5" fill="#a8a8a8" text-anchor="middle">0</text>
<text x="485.78" y="85.50" font-size="4.5" fill="#a8a8a8" text-anchor="middle">1</text>
<text x="494.87" y="85.50" font-size="4.5" fill="#a8a8a8" text-anchor="middle">1</text>
<text x="503.95" y="85.50" font-size="4.5" fill="#a8a8a8" text-anchor="middle">0</text>
<text x="513.03" y="85.50" font-size="4.5" fill="#a8a8a8" text-anchor="middle">0</text>
<text x="522.11" y="85.50" font-size="4.5" fill="#a8a8a8" text-anchor="middle">0</text>
<text x="531.20" y="85.50" font-size="4.5" fill="#a8a8a8" text-anchor="middle">0</text>
<text x="540.28" y="85.50" font-size="4.5" fill="#a8a8a8" text-anchor="middle">1</text>
<text x="549.36" y="85.50" font-size="4.5" fill="#a8a8a8" text-anchor="middle">0</text>
<text x="558.45" y="85.50" font-size="4.5" fill="#a8a8a8" text-anchor="middle">0</text>
<text x="567.53" y="85.50" font-size="4.5" fill="#a8a8a8" text-anchor="middle">0</text>
<text x="576.61" y="85.50" font-size="4.5" fill="#a8a8a8" text-anchor="middle">0</text>
<text x="585.70" y="85.50" font-size="4.5" fill="#a8a8a8" text-anchor="middle">0</text>
<text x="594.78" y="85.50" font-size="4.5" fill="#a8a8a8" text-anchor="middle">2</text>
<text x="603.86" y="85.50" font-size="4.5" fill="#a8a8a8" text-anchor="middle">1</text>
<text x="612.94" y="85.50" font-size="4.5" fill="#e8d8da" text-anchor="middle">3</text>
<text x="622.03" y="85.50" font-size="4.5" fill="#a8a8a8" text-anchor="middle">0</text>
<text x="631.11" y="85.50" font-size="4.5" fill="#a8a8a8" text-anchor="middle">0</text>
<text x="640.19" y="85.50" font-size="4.5" fill="#a8a8a8" text-anchor="middle">0</text>
<text x="649.28" y="85.50" font-size="4.5" fill="#a8a8a8" text-anchor="middle">0</text>
<text x="658.36" y="85.50" font-size="4.5" fill="#a8a8a8" text-anchor="middle">0</text>
<text x="667.44" y="85.50" font-size="4.5" fill="#a8a8a8" text-anchor="middle">0</text>
<text x="240.54" y="94.50" font-size="4.5" fill="#a8a8a8" text-anchor="middle">0</text>
<text x="249.62" y="94.50" font-size="4.5" fill="#a8a8a8" text-anchor="middle">0</text>
<text x="258.71" y="94.50" font-size="4.5" fill="#a8a8a8" text-anchor="middle">0</text>
<text x="267.79" y="94.50" font-size="4.5" fill="#a8a8a8" text-anchor="middle">0</text>
<text x="276.87" y="94.50" font-size="4.5" fill="#a8a8a8" text-anchor="middle">1</text>
<text x="285.96" y="94.50" font-size="4.5" fill="#a8a8a8" text-anchor="middle">0</text>
<text x="295.04" y="94.50" font-size="4.5" fill="#a8a8a8" text-anchor="middle">0</text>
<text x="304.12" y="94.50" font-size="4.5" fill="#a8a8a8" text-anchor="middle">0</text>
<text x="313.21" y="94.50" font-size="4.5" fill="#a8a8a8" text-anchor="middle">0</text>
<text x="322.29" y="94.50" font-size="4.5" fill="#a8a8a8" text-anchor="middle">0</text>
<text x="331.37" y="94.50" font-size="4.5" fill="#a8a8a8" text-anchor="middle">0</text>
<text x="340.45" y="94.50" font-size="4.5" fill="#a8a8a8" text-anchor="middle">0</text>
<text x="349.54" y="94.50" font-size="4.5" fill="#a8a8a8" text-anchor="middle">1</text>
<text x="358.62" y="94.50" font-size="4.5" fill="#a8a8a8" text-anchor="middle">2</text>
<text x="367.70" y="94.50" font-size="4.5" fill="#a8a8a8" text-anchor="middle">0</text>
<text x="376.79" y="94.50" font-size="4.5" fill="#a8a8a8" text-anchor="middle">2</text>
<text x="385.87" y="94.50" font-size="4.5" fill="#a8a8a8" text-anchor="middle">0</text>
<text x="394.95" y="94.50" font-size="4.5" fill="#a8a8a8" text-anchor="middle">1</text>
<text x="404.04" y="94.50" font-size="4.5" fill="#a8a8a8" text-anchor="middle">0</text>
<text x="413.12" y="94.50" font-size="4.5" fill="#a8a8a8" text-anchor="middle">0</text>
<text x="422.20" y="94.50" font-size="4.5" fill="#a8a8a8" text-anchor="middle">0</text>
<text x="431.28" y="94.50" font-size="4.5" fill="#a8a8a8" text-anchor="middle">0</text>
<text x="440.37" y="94.50" font-size="4.5" fill="#a8a8a8" text-anchor="middle">0</text>
<text x="449.45" y="94.50" font-size="4.5" fill="#a8a8a8" text-anchor="middle">0</text>
<text x="458.53" y="94.50" font-size="4.5" fill="#a8a8a8" text-anchor="middle">1</text>
<text x="467.62" y="94.50" font-size="4.5" fill="#a8a8a8" text-anchor="middle">0</text>
<text x="476.70" y="94.50" font-size="4.5" fill="#a8a8a8" text-anchor="middle">0</text>
<text x="485.78" y="94.50" font-size="4.5" fill="#a8a8a8" text-anchor="middle">3</text>
<text x="494.87" y="94.50" font-size="4.5" fill="#a8a8a8" text-anchor="middle">0</text>
<text x="503.95" y="94.50" font-size="4.5" fill="#a8a8a8" text-anchor="middle">1</text>
<text x="513.03" y="94.50" font-size="4.5" fill="#a8a8a8" text-anchor="middle">0</text>
<text x="522.11" y="94.50" font-size="4.5" fill="#a8a8a8" text-anchor="middle">0</text>
<text x="531.20" y="94.50" font-size="4.5" fill="#a8a8a8" text-anchor="middle">0</text>
<text x="540.28" y="94.50" font-size="4.5" fill="#f0d8cc" text-anchor="middle">2</text>
<text x="549.36" y="94.50" font-size="4.5" fill="#a8a8a8" text-anchor="middle">0</text>
<text x="558.45" y="94.50" font-size="4.5" fill="#a8a8a8" text-anchor="middle">1</text>
<text x="567.53" y="94.50" font-size="4.5" fill="#a8a8a8" text-anchor="middle">2</text>
<text x="576.61" y="94.50" font-size="4.5" fill="#a8a8a8" text-anchor="middle">0</text>
<text x="585.70" y="94.50" font-size="4.5" fill="#a8a8a8" text-anchor="middle">0</text>
<text x="594.78" y="94.50" font-size="4.5" fill="#f0d8cc" text-anchor="middle">6</text>
<text x="603.86" y="94.50" font-size="4.5" fill="#e8d8da" text-anchor="middle">4</text>
<text x="612.94" y="94.50" font-size="4.5" fill="#f0d8cc" text-anchor="middle">6</text>
<text x="622.03" y="94.50" font-size="4.5" fill="#a8a8a8" text-anchor="middle">1</text>
<text x="631.11" y="94.50" font-size="4.5" fill="#a8a8a8" text-anchor="middle">0</text>
<text x="640.19" y="94.50" font-size="4.5" fill="#a8a8a8" text-anchor="middle">0</text>
<text x="649.28" y="94.50" font-size="4.5" fill="#a8a8a8" text-anchor="middle">0</text>
<text x="658.36" y="94.50" font-size="4.5" fill="#a8a8a8" text-anchor="middle">0</text>
<text x="667.44" y="94.50" font-size="4.5" fill="#a8a8a8" text-anchor="middle">2</text>
<text x="234.20" y="67.50" font-size="4.5" text-anchor="end">GEAR</text>
<text x="234.20" y="76.50" font-size="4.5" text-anchor="end">Oncogenes</text>
<text x="234.20" y="85.50" font-size="4.5" text-anchor="end">TSG</text>
<text x="234.20" y="94.50" font-size="4.5" text-anchor="end">TF</text>
<rect x="390.41" y="100.40" width="9.08" height="9.00" fill="#cc3a3a"/>
<rect x="453.99" y="100.40" width="9.08" height="9.00" fill="#e88a6c"/>
<rect x="481.24" y="100.40" width="9.08" height="9.00" fill="#67001f"/>
<rect x="590.24" y="100.40" width="9.08" height="9.00" fill="#67001f"/>
<rect x="599.32" y="100.40" width="9.08" height="9.00" fill="#67001f"/>
<rect x="608.40" y="100.40" width="9.08" height="9.00" fill="#f6b597"/>
<rect x="662.90" y="100.40" width="9.08" height="9.00" fill="#df7358"/>
<rect x="481.24" y="109.40" width="9.08" height="9.00" fill="#f5ae8e"/>
<rect x="590.24" y="109.40" width="9.08" height="9.00" fill="#f5b190"/>
<rect x="599.32" y="109.40" width="9.08" height="9.00" fill="#67001f"/>
<rect x="390.41" y="118.40" width="9.08" height="9.00" fill="#d24840"/>
<rect x="481.24" y="118.40" width="9.08" height="9.00" fill="#f5ae8e"/>
<rect x="499.41" y="118.40" width="9.08" height="9.00" fill="#c0242f"/>
<rect x="553.90" y="118.40" width="9.08" height="9.00" fill="#c0242f"/>
<rect x="590.24" y="118.40" width="9.08" height="9.00" fill="#c53a3a"/>
<rect x="599.32" y="118.40" width="9.08" height="9.00" fill="#7c0a26"/>
<rect x="608.40" y="118.40" width="9.08" height="9.00" fill="#67001f"/>
<rect x="662.90" y="118.40" width="9.08" height="9.00" fill="#c0242f"/>
<rect x="272.33" y="127.40" width="9.08" height="9.00" fill="#de6a52"/>
<rect x="354.08" y="127.40" width="9.08" height="9.00" fill="#67001f"/>
<rect x="372.25" y="127.40" width="9.08" height="9.00" fill="#c52a35"/>
<rect x="390.41" y="127.40" width="9.08" height="9.00" fill="#67001f"/>
<rect x="453.99" y="127.40" width="9.08" height="9.00" fill="#e47e60"/>
<rect x="481.24" y="127.40" width="9.08" height="9.00" fill="#67001f"/>
<rect x="499.41" y="127.40" width="9.08" height="9.00" fill="#7a0a25"/>
<rect x="535.74" y="127.40" width="9.08" height="9.00" fill="#67001f"/>
<rect x="553.90" y="127.40" width="9.08" height="9.00" fill="#67001f"/>
<rect x="562.99" y="127.40" width="9.08" height="9.00" fill="#67001f"/>
<rect x="590.24" y="127.40" width="9.08" height="9.00" fill="#67001f"/>
<rect x="599.32" y="127.40" width="9.08" height="9.00" fill="#67001f"/>
<rect x="608.40" y="127.40" width="9.08" height="9.00" fill="#67001f"/>
<rect x="617.49" y="127.40" width="9.08" height="9.00" fill="#d9594a"/>
<rect x="662.90" y="127.40" width="9.08" height="9.00" fill="#67001f"/>
<line x1="236.00" y1="100.40" x2="671.98" y2="100.40" stroke="#d6d6d6" stroke-width="0.5"/>
<line x1="236.00" y1="109.40" x2="671.98" y2="109.40" stroke="#d6d6d6" stroke-width="0.5"/>
<line x1="236.00" y1="118.40" x2="671.98" y2="118.40" stroke="#d6d6d6" stroke-width="0.5"/>
<line x1="236.00" y1="127.40" x2="671.98" y2="127.40" stroke="#d6d6d6" stroke-width="0.5"/>
<line x1="236.00" y1="136.40" x2="671.98" y2="136.40" stroke="#d6d6d6" stroke-width="0.5"/>
<line x1="236.00" y1="100.40" x2="236.00" y2="136.40" stroke="#d6d6d6" stroke-width="0.5"/>
<line x1="245.08" y1="100.40" x2="245.08" y2="136.40" stroke="#d6d6d6" stroke-width="0.5"/>
<line x1="254.17" y1="100.40" x2="254.17" y2="136.40" stroke="#d6d6d6" stroke-width="0.5"/>
<line x1="263.25" y1="100.40" x2="263.25" y2="136.40" stroke="#a8a8a8" stroke-width="0.9"/>
<line x1="272.33" y1="100.40" x2="272.33" y2="136.40" stroke="#d6d6d6" stroke-width="0.5"/>
<line x1="281.42" y1="100.40" x2="281.42" y2="136.40" stroke="#d6d6d6" stroke-width="0.5"/>
<line x1="290.50" y1="100.40" x2="290.50" y2="136.40" stroke="#a8a8a8" stroke-width="0.9"/>
<line x1="299.58" y1="100.40" x2="299.58" y2="136.40" stroke="#d6d6d6" stroke-width="0.5"/>
<line x1="308.66" y1="100.40" x2="308.66" y2="136.40" stroke="#d6d6d6" stroke-width="0.5"/>
<line x1="317.75" y1="100.40" x2="317.75" y2="136.40" stroke="#a8a8a8" stroke-width="0.9"/>
<line x1="326.83" y1="100.40" x2="326.83" y2="136.40" stroke="#d6d6d6" stroke-width="0.5"/>
<line x1="335.91" y1="100.40" x2="335.91" y2="136.40" stroke="#d6d6d6" stroke-width="0.5"/>
<line x1="345.00" y1="100.40" x2="345.00" y2="136.40" stroke="#888888" stroke-width="1.2"/>
<line x1="354.08" y1="100.40" x2="354.08" y2="136.40" stroke="#d6d6d6" stroke-width="0.5"/>
<line x1="363.16" y1="100.40" x2="363.16" y2="136.40" stroke="#d6d6d6" stroke-width="0.5"/>
<line x1="372.25" y1="100.40" x2="372.25" y2="136.40" stroke="#a8a8a8" stroke-width="0.9"/>
<line x1="381.33" y1="100.40" x2="381.33" y2="136.40" stroke="#d6d6d6" stroke-width="0.5"/>
<line x1="390.41" y1="100.40" x2="390.41" y2="136.40" stroke="#d6d6d6" stroke-width="0.5"/>
<line x1="399.49" y1="100.40" x2="399.49" y2="136.40" stroke="#a8a8a8" stroke-width="0.9"/>
<line x1="408.58" y1="100.40" x2="408.58" y2="136.40" stroke="#d6d6d6" stroke-width="0.5"/>
<line x1="417.66" y1="100.40" x2="417.66" y2="136.40" stroke="#d6d6d6" stroke-width="0.5"/>
<line x1="426.74" y1="100.40" x2="426.74" y2="136.40" stroke="#a8a8a8" stroke-width="0.9"/>
<line x1="435.83" y1="100.40" x2="435.83" y2="136.40" stroke="#d6d6d6" stroke-width="0.5"/>
<line x1="444.91" y1="100.40" x2="444.91" y2="136.40" stroke="#d6d6d6" stroke-width="0.5"/>
<line x1="453.99" y1="100.40" x2="453.99" y2="136.40" stroke="#555555" stroke-width="1.4"/>
<line x1="463.08" y1="100.40" x2="463.08" y2="136.40" stroke="#d6d6d6" stroke-width="0.5"/>
<line x1="472.16" y1="100.40" x2="472.16" y2="136.40" stroke="#d6d6d6" stroke-width="0.5"/>
<line x1="481.24" y1="100.40" x2="481.24" y2="136.40" stroke="#a8a8a8" stroke-width="0.9"/>
<line x1="490.32" y1="100.40" x2="490.32" y2="136.40" stroke="#d6d6d6" stroke-width="0.5"/>
<line x1="499.41" y1="100.40" x2="499.41" y2="136.40" stroke="#d6d6d6" stroke-width="0.5"/>
<line x1="508.49" y1="100.40" x2="508.49" y2="136.40" stroke="#a8a8a8" stroke-width="0.9"/>
<line x1="517.57" y1="100.40" x2="517.57" y2="136.40" stroke="#d6d6d6" stroke-width="0.5"/>
<line x1="526.66" y1="100.40" x2="526.66" y2="136.40" stroke="#d6d6d6" stroke-width="0.5"/>
<line x1="535.74" y1="100.40" x2="535.74" y2="136.40" stroke="#a8a8a8" stroke-width="0.9"/>
<line x1="544.82" y1="100.40" x2="544.82" y2="136.40" stroke="#d6d6d6" stroke-width="0.5"/>
<line x1="553.90" y1="100.40" x2="553.90" y2="136.40" stroke="#d6d6d6" stroke-width="0.5"/>
<line x1="562.99" y1="100.40" x2="562.99" y2="136.40" stroke="#888888" stroke-width="1.2"/>
<line x1="572.07" y1="100.40" x2="572.07" y2="136.40" stroke="#d6d6d6" stroke-width="0.5"/>
<line x1="581.15" y1="100.40" x2="581.15" y2="136.40" stroke="#d6d6d6" stroke-width="0.5"/>
<line x1="590.24" y1="100.40" x2="590.24" y2="136.40" stroke="#a8a8a8" stroke-width="0.9"/>
<line x1="599.32" y1="100.40" x2="599.32" y2="136.40" stroke="#d6d6d6" stroke-width="0.5"/>
<line x1="608.40" y1="100.40" x2="608.40" y2="136.40" stroke="#d6d6d6" stroke-width="0.5"/>
<line x1="617.49" y1="100.40" x2="617.49" y2="136.40" stroke="#a8a8a8" stroke-width="0.9"/>
<line x1="626.57" y1="100.40" x2="626.57" y2="136.40" stroke="#d6d6d6" stroke-width="0.5"/>
<line x1="635.65" y1="100.40" x2="635.65" y2="136.40" stroke="#d6d6d6" stroke-width="0.5"/>
<line x1="644.74" y1="100.40" x2="644.74" y2="136.40" stroke="#a8a8a8" stroke-width="0.9"/>
<line x1="653.82" y1="100.40" x2="653.82" y2="136.40" stroke="#d6d6d6" stroke-width="0.5"/>
<line x1="662.90" y1="100.40" x2="662.90" y2="136.40" stroke="#d6d6d6" stroke-width="0.5"/>
<line x1="671.98" y1="100.40" x2="671.98" y2="136.40" stroke="#d6d6d6" stroke-width="0.5"/>
<text x="240.54" y="106.50" font-size="4.5" fill="#a8a8a8" text-anchor="middle">0</text>
<text x="249.62" y="106.50" font-size="4.5" fill="#a8a8a8" text-anchor="middle">0</text>
<text x="258.71" y="106.50" font-size="4.5" fill="#a8a8a8" text-anchor="middle">0</text>
<text x="267.79" y="106.50" font-size="4.5" fill="#a8a8a8" text-anchor="middle">0</text>
<text x="276.87" y="106.50" font-size="4.5" fill="#a8a8a8" text-anchor="middle">3</text>
<text x="285.96" y="106.50" font-size="4.5" fill="#a8a8a8" text-anchor="middle">0</text>
<text x="295.04" y="106.50" font-size="4.5" fill="#a8a8a8" text-anchor="middle">0</text>
<text x="304.12" y="106.50" font-size="4.5" fill="#a8a8a8" text-anchor="middle">0</text>
<text x="313.21" y="106.50" font-size="4.5" fill="#a8a8a8" text-anchor="middle">0</text>
<text x="322.29" y="106.50" font-size="4.5" fill="#a8a8a8" text-anchor="middle">0</text>
<text x="331.37" y="106.50" font-size="4.5" fill="#a8a8a8" text-anchor="middle">0</text>
<text x="340.45" y="106.50" font-size="4.5" fill="#a8a8a8" text-anchor="middle">0</text>
<text x="349.54" y="106.50" font-size="4.5" fill="#a8a8a8" text-anchor="middle">0</text>
<text x="358.62" y="106.50" font-size="4.5" fill="#a8a8a8" text-anchor="middle">2</text>
<text x="367.70" y="106.50" font-size="4.5" fill="#a8a8a8" text-anchor="middle">0</text>
<text x="376.79" y="106.50" font-size="4.5" fill="#a8a8a8" text-anchor="middle">1</text>
<text x="385.87" y="106.50" font-size="4.5" fill="#a8a8a8" text-anchor="middle">0</text>
<text x="394.95" y="106.50" font-size="4.5" fill="#e8d8da" text-anchor="middle">4</text>
<text x="404.04" y="106.50" font-size="4.5" fill="#a8a8a8" text-anchor="middle">0</text>
<text x="413.12" y="106.50" font-size="4.5" fill="#a8a8a8" text-anchor="middle">0</text>
<text x="422.20" y="106.50" font-size="4.5" fill="#a8a8a8" text-anchor="middle">0</text>
<text x="431.28" y="106.50" font-size="4.5" fill="#a8a8a8" text-anchor="middle">0</text>
<text x="440.37" y="106.50" font-size="4.5" fill="#a8a8a8" text-anchor="middle">0</text>
<text x="449.45" y="106.50" font-size="4.5" fill="#a8a8a8" text-anchor="middle">0</text>
<text x="458.53" y="106.50" font-size="4.5" fill="#f0d8cc" text-anchor="middle">3</text>
<text x="467.62" y="106.50" font-size="4.5" fill="#a8a8a8" text-anchor="middle">0</text>
<text x="476.70" y="106.50" font-size="4.5" fill="#a8a8a8" text-anchor="middle">0</text>
<text x="485.78" y="106.50" font-size="4.5" fill="#e8d8da" text-anchor="middle">13</text>
<text x="494.87" y="106.50" font-size="4.5" fill="#a8a8a8" text-anchor="middle">0</text>
<text x="503.95" y="106.50" font-size="4.5" fill="#a8a8a8" text-anchor="middle">2</text>
<text x="513.03" y="106.50" font-size="4.5" fill="#a8a8a8" text-anchor="middle">0</text>
<text x="522.11" y="106.50" font-size="4.5" fill="#a8a8a8" text-anchor="middle">0</text>
<text x="531.20" y="106.50" font-size="4.5" fill="#a8a8a8" text-anchor="middle">0</text>
<text x="540.28" y="106.50" font-size="4.5" fill="#a8a8a8" text-anchor="middle">1</text>
<text x="549.36" y="106.50" font-size="4.5" fill="#a8a8a8" text-anchor="middle">0</text>
<text x="558.45" y="106.50" font-size="4.5" fill="#a8a8a8" text-anchor="middle">2</text>
<text x="567.53" y="106.50" font-size="4.5" fill="#a8a8a8" text-anchor="middle">2</text>
<text x="576.61" y="106.50" font-size="4.5" fill="#a8a8a8" text-anchor="middle">0</text>
<text x="585.70" y="106.50" font-size="4.5" fill="#a8a8a8" text-anchor="middle">0</text>
<text x="594.78" y="106.50" font-size="4.5" fill="#e8d8da" text-anchor="middle">26</text>
<text x="603.86" y="106.50" font-size="4.5" fill="#e8d8da" text-anchor="middle">18</text>
<text x="612.94" y="106.50" font-size="4.5" fill="#f0d8cc" text-anchor="middle">10</text>
<text x="622.03" y="106.50" font-size="4.5" fill="#a8a8a8" text-anchor="middle">1</text>
<text x="631.11" y="106.50" font-size="4.5" fill="#a8a8a8" text-anchor="middle">0</text>
<text x="640.19" y="106.50" font-size="4.5" fill="#a8a8a8" text-anchor="middle">0</text>
<text x="649.28" y="106.50" font-size="4.5" fill="#a8a8a8" text-anchor="middle">0</text>
<text x="658.36" y="106.50" font-size="4.5" fill="#a8a8a8" text-anchor="middle">0</text>
<text x="667.44" y="106.50" font-size="4.5" fill="#f0d8cc" text-anchor="middle">5</text>
<text x="240.54" y="115.50" font-size="4.5" fill="#a8a8a8" text-anchor="middle">0</text>
<text x="249.62" y="115.50" font-size="4.5" fill="#a8a8a8" text-anchor="middle">0</text>
<text x="258.71" y="115.50" font-size="4.5" fill="#a8a8a8" text-anchor="middle">0</text>
<text x="267.79" y="115.50" font-size="4.5" fill="#a8a8a8" text-anchor="middle">0</text>
<text x="276.87" y="115.50" font-size="4.5" fill="#a8a8a8" text-anchor="middle">2</text>
<text x="285.96" y="115.50" font-size="4.5" fill="#a8a8a8" text-anchor="middle">0</text>
<text x="295.04" y="115.50" font-size="4.5" fill="#a8a8a8" text-anchor="middle">0</text>
<text x="304.12" y="115.50" font-size="4.5" fill="#a8a8a8" text-anchor="middle">0</text>
<text x="313.21" y="115.50" font-size="4.5" fill="#a8a8a8" text-anchor="middle">0</text>
<text x="322.29" y="115.50" font-size="4.5" fill="#a8a8a8" text-anchor="middle">0</text>
<text x="331.37" y="115.50" font-size="4.5" fill="#a8a8a8" text-anchor="middle">0</text>
<text x="340.45" y="115.50" font-size="4.5" fill="#a8a8a8" text-anchor="middle">0</text>
<text x="349.54" y="115.50" font-size="4.5" fill="#a8a8a8" text-anchor="middle">0</text>
<text x="358.62" y="115.50" font-size="4.5" fill="#a8a8a8" text-anchor="middle">2</text>
<text x="367.70" y="115.50" font-size="4.5" fill="#a8a8a8" text-anchor="middle">0</text>
<text x="376.79" y="115.50" font-size="4.5" fill="#a8a8a8" text-anchor="middle">0</text>
<text x="385.87" y="115.50" font-size="4.5" fill="#a8a8a8" text-anchor="middle">0</text>
<text x="394.95" y="115.50" font-size="4.5" fill="#a8a8a8" text-anchor="middle">0</text>
<text x="404.04" y="115.50" font-size="4.5" fill="#a8a8a8" text-anchor="middle">0</text>
<text x="413.12" y="115.50" font-size="4.5" fill="#a8a8a8" text-anchor="middle">0</text>
<text x="422.20" y="115.50" font-size="4.5" fill="#a8a8a8" text-anchor="middle">0</text>
<text x="431.28" y="115.50" font-size="4.5" fill="#a8a8a8" text-anchor="middle">0</text>
<text x="440.37" y="115.50" font-size="4.5" fill="#a8a8a8" text-anchor="middle">0</text>
<text x="449.45" y="115.50" font-size="4.5" fill="#a8a8a8" text-anchor="middle">0</text>
<text x="458.53" y="115.50" font-size="4.5" fill="#a8a8a8" text-anchor="middle">2</text>
<text x="467.62" y="115.50" font-size="4.5" fill="#a8a8a8" text-anchor="middle">0</text>
<text x="476.70" y="115.50" font-size="4.5" fill="#a8a8a8" text-anchor="middle">0</text>
<text x="485.78" y="115.50" font-size="4.5" fill="#f0d8cc" text-anchor="middle">4</text>
<text x="494.87" y="115.50" font-size="4.5" fill="#a8a8a8" text-anchor="middle">0</text>
<text x="503.95" y="115.50" font-size="4.5" fill="#a8a8a8" text-anchor="middle">2</text>
<text x="513.03" y="115.50" font-size="4.5" fill="#a8a8a8" text-anchor="middle">0</text>
<text x="522.11" y="115.50" font-size="4.5" fill="#a8a8a8" text-anchor="middle">0</text>
<text x="531.20" y="115.50" font-size="4.5" fill="#a8a8a8" text-anchor="middle">0</text>
<text x="540.28" y="115.50" font-size="4.5" fill="#a8a8a8" text-anchor="middle">0</text>
<text x="549.36" y="115.50" font-size="4.5" fill="#a8a8a8" text-anchor="middle">0</text>
<text x="558.45" y="115.50" font-size="4.5" fill="#a8a8a8" text-anchor="middle">2</text>
<text x="567.53" y="115.50" font-size="4.5" fill="#a8a8a8" text-anchor="middle">0</text>
<text x="576.61" y="115.50" font-size="4.5" fill="#a8a8a8" text-anchor="middle">0</text>
<text x="585.70" y="115.50" font-size="4.5" fill="#a8a8a8" text-anchor="middle">0</text>
<text x="594.78" y="115.50" font-size="4.5" fill="#f0d8cc" text-anchor="middle">7</text>
<text x="603.86" y="115.50" font-size="4.5" fill="#e8d8da" text-anchor="middle">8</text>
<text x="612.94" y="115.50" font-size="4.5" fill="#a8a8a8" text-anchor="middle">2</text>
<text x="622.03" y="115.50" font-size="4.5" fill="#a8a8a8" text-anchor="middle">0</text>
<text x="631.11" y="115.50" font-size="4.5" fill="#a8a8a8" text-anchor="middle">0</text>
<text x="640.19" y="115.50" font-size="4.5" fill="#a8a8a8" text-anchor="middle">0</text>
<text x="649.28" y="115.50" font-size="4.5" fill="#a8a8a8" text-anchor="middle">0</text>
<text x="658.36" y="115.50" font-size="4.5" fill="#a8a8a8" text-anchor="middle">0</text>
<text x="667.44" y="115.50" font-size="4.5" fill="#a8a8a8" text-anchor="middle">1</text>
<text x="240.54" y="124.50" font-size="4.5" fill="#a8a8a8" text-anchor="middle">0</text>
<text x="249.62" y="124.50" font-size="4.5" fill="#a8a8a8" text-anchor="middle">0</text>
<text x="258.71" y="124.50" font-size="4.5" fill="#a8a8a8" text-anchor="middle">0</text>
<text x="267.79" y="124.50" font-size="4.5" fill="#a8a8a8" text-anchor="middle">0</text>
<text x="276.87" y="124.50" font-size="4.5" fill="#a8a8a8" text-anchor="middle">2</text>
<text x="285.96" y="124.50" font-size="4.5" fill="#a8a8a8" text-anchor="middle">0</text>
<text x="295.04" y="124.50" font-size="4.5" fill="#a8a8a8" text-anchor="middle">0</text>
<text x="304.12" y="124.50" font-size="4.5" fill="#a8a8a8" text-anchor="middle">0</text>
<text x="313.21" y="124.50" font-size="4.5" fill="#a8a8a8" text-anchor="middle">0</text>
<text x="322.29" y="124.50" font-size="4.5" fill="#a8a8a8" text-anchor="middle">0</text>
<text x="331.37" y="124.50" font-size="4.5" fill="#a8a8a8" text-anchor="middle">0</text>
<text x="340.45" y="124.50" font-size="4.5" fill="#a8a8a8" text-anchor="middle">0</text>
<text x="349.54" y="124.50" font-size="4.5" fill="#a8a8a8" text-anchor="middle">0</text>
<text x="358.62" y="124.50" font-size="4.5" fill="#a8a8a8" text-anchor="middle">0</text>
<text x="367.70" y="124.50" font-size="4.5" fill="#a8a8a8" text-anchor="middle">0</text>
<text x="376.79" y="124.50" font-size="4.5" fill="#a8a8a8" text-anchor="middle">0</text>
<text x="385.87" y="124.50" font-size="4.5" fill="#a8a8a8" text-anchor="middle">0</text>
<text x="394.95" y="124.50" font-size="4.5" fill="#e8d8da" text-anchor="middle">3</text>
<text x="404.04" y="124.50" font-size="4.5" fill="#a8a8a8" text-anchor="middle">0</text>
<text x="413.12" y="124.50" font-size="4.5" fill="#a8a8a8" text-anchor="middle">0</text>
<text x="422.20" y="124.50" font-size="4.5" fill="#a8a8a8" text-anchor="middle">0</text>
<text x="431.28" y="124.50" font-size="4.5" fill="#a8a8a8" text-anchor="middle">0</text>
<text x="440.37" y="124.50" font-size="4.5" fill="#a8a8a8" text-anchor="middle">0</text>
<text x="449.45" y="124.50" font-size="4.5" fill="#a8a8a8" text-anchor="middle">0</text>
<text x="458.53" y="124.50" font-size="4.5" fill="#a8a8a8" text-anchor="middle">1</text>
<text x="467.62" y="124.50" font-size="4.5" fill="#a8a8a8" text-anchor="middle">0</text>
<text x="476.70" y="124.50" font-size="4.5" fill="#a8a8a8" text-anchor="middle">0</text>
<text x="485.78" y="124.50" font-size="4.5" fill="#f0d8cc" text-anchor="middle">4</text>
<text x="494.87" y="124.50" font-size="4.5" fill="#a8a8a8" text-anchor="middle">0</text>
<text x="503.95" y="124.50" font-size="4.5" fill="#e8d8da" text-anchor="middle">3</text>
<text x="513.03" y="124.50" font-size="4.5" fill="#a8a8a8" text-anchor="middle">0</text>
<text x="522.11" y="124.50" font-size="4.5" fill="#a8a8a8" text-anchor="middle">0</text>
<text x="531.20" y="124.50" font-size="4.5" fill="#a8a8a8" text-anchor="middle">0</text>
<text x="540.28" y="124.50" font-size="4.5" fill="#a8a8a8" text-anchor="middle">1</text>
<text x="549.36" y="124.50" font-size="4.5" fill="#a8a8a8" text-anchor="middle">0</text>
<text x="558.45" y="124.50" font-size="4.5" fill="#e8d8da" text-anchor="middle">3</text>
<text x="567.53" y="124.50" font-size="4.5" fill="#a8a8a8" text-anchor="middle">0</text>
<text x="576.61" y="124.50" font-size="4.5" fill="#a8a8a8" text-anchor="middle">0</text>
<text x="585.70" y="124.50" font-size="4.5" fill="#a8a8a8" text-anchor="middle">0</text>
<text x="594.78" y="124.50" font-size="4.5" fill="#e8d8da" text-anchor="middle">11</text>
<text x="603.86" y="124.50" font-size="4.5" fill="#e8d8da" text-anchor="middle">5</text>
<text x="612.94" y="124.50" font-size="4.5" fill="#e8d8da" text-anchor="middle">14</text>
<text x="622.03" y="124.50" font-size="4.5" fill="#a8a8a8" text-anchor="middle">0</text>
<text x="631.11" y="124.50" font-size="4.5" fill="#a8a8a8" text-anchor="middle">0</text>
<text x="640.19" y="124.50" font-size="4.5" fill="#a8a8a8" text-anchor="middle">0</text>
<text x="649.28" y="124.50" font-size="4.5" fill="#a8a8a8" text-anchor="middle">0</text>
<text x="658.36" y="124.50" font-size="4.5" fill="#a8a8a8" text-anchor="middle">0</text>
<text x="667.44" y="124.50" font-size="4.5" fill="#e8d8da" text-anchor="middle">5</text>
<text x="240.54" y="133.50" font-size="4.5" fill="#a8a8a8" text-anchor="middle">0</text>
<text x="249.62" y="133.50" font-size="4.5" fill="#a8a8a8" text-anchor="middle">0</text>
<text x="258.71" y="133.50" font-size="4.5" fill="#a8a8a8" text-anchor="middle">0</text>
<text x="267.79" y="133.50" font-size="4.5" fill="#a8a8a8" text-anchor="middle">0</text>
<text x="276.87" y="133.50" font-size="4.5" fill="#f0d8cc" text-anchor="middle">8</text>
<text x="285.96" y="133.50" font-size="4.5" fill="#a8a8a8" text-anchor="middle">0</text>
<text x="295.04" y="133.50" font-size="4.5" fill="#a8a8a8" text-anchor="middle">0</text>
<text x="304.12" y="133.50" font-size="4.5" fill="#a8a8a8" text-anchor="middle">0</text>
<text x="313.21" y="133.50" font-size="4.5" fill="#a8a8a8" text-anchor="middle">0</text>
<text x="322.29" y="133.50" font-size="4.5" fill="#a8a8a8" text-anchor="middle">0</text>
<text x="331.37" y="133.50" font-size="4.5" fill="#a8a8a8" text-anchor="middle">0</text>
<text x="340.45" y="133.50" font-size="4.5" fill="#a8a8a8" text-anchor="middle">0</text>
<text x="349.54" y="133.50" font-size="4.5" fill="#a8a8a8" text-anchor="middle">2</text>
<text x="358.62" y="133.50" font-size="4.5" fill="#e8d8da" text-anchor="middle">5</text>
<text x="367.70" y="133.50" font-size="4.5" fill="#a8a8a8" text-anchor="middle">0</text>
<text x="376.79" y="133.50" font-size="4.5" fill="#e8d8da" text-anchor="middle">4</text>
<text x="385.87" y="133.50" font-size="4.5" fill="#a8a8a8" text-anchor="middle">0</text>
<text x="394.95" y="133.50" font-size="4.5" fill="#e8d8da" text-anchor="middle">15</text>
<text x="404.04" y="133.50" font-size="4.5" fill="#a8a8a8" text-anchor="middle">0</text>
<text x="413.12" y="133.50" font-size="4.5" fill="#a8a8a8" text-anchor="middle">0</text>
<text x="422.20" y="133.50" font-size="4.5" fill="#a8a8a8" text-anchor="middle">0</text>
<text x="431.28" y="133.50" font-size="4.5" fill="#a8a8a8" text-anchor="middle">0</text>
<text x="440.37" y="133.50" font-size="4.5" fill="#a8a8a8" text-anchor="middle">0</text>
<text x="449.45" y="133.50" font-size="4.5" fill="#a8a8a8" text-anchor="middle">0</text>
<text x="458.53" y="133.50" font-size="4.5" fill="#f0d8cc" text-anchor="middle">5</text>
<text x="467.62" y="133.50" font-size="4.5" fill="#a8a8a8" text-anchor="middle">0</text>
<text x="476.70" y="133.50" font-size="4.5" fill="#a8a8a8" text-anchor="middle">0</text>
<text x="485.78" y="133.50" font-size="4.5" fill="#e8d8da" text-anchor="middle">26</text>
<text x="494.87" y="133.50" font-size="4.5" fill="#a8a8a8" text-anchor="middle">0</text>
<text x="503.95" y="133.50" font-size="4.5" fill="#e8d8da" text-anchor="middle">8</text>
<text x="513.03" y="133.50" font-size="4.5" fill="#a8a8a8" text-anchor="middle">0</text>
<text x="522.11" y="133.50" font-size="4.5" fill="#a8a8a8" text-anchor="middle">0</text>
<text x="531.20" y="133.50" font-size="4.5" fill="#a8a8a8" text-anchor="middle">0</text>
<text x="540.28" y="133.50" font-size="4.5" fill="#e8d8da" text-anchor="middle">6</text>
<text x="549.36" y="133.50" font-size="4.5" fill="#a8a8a8" text-anchor="middle">0</text>
<text x="558.45" y="133.50" font-size="4.5" fill="#e8d8da" text-anchor="middle">6</text>
<text x="567.53" y="133.50" font-size="4.5" fill="#e8d8da" text-anchor="middle">5</text>
<text x="576.61" y="133.50" font-size="4.5" fill="#a8a8a8" text-anchor="middle">0</text>
<text x="585.70" y="133.50" font-size="4.5" fill="#a8a8a8" text-anchor="middle">0</text>
<text x="594.78" y="133.50" font-size="4.5" fill="#e8d8da" text-anchor="middle">67</text>
<text x="603.86" y="133.50" font-size="4.5" fill="#e8d8da" text-anchor="middle">34</text>
<text x="612.94" y="133.50" font-size="4.5" fill="#e8d8da" text-anchor="middle">54</text>
<text x="622.03" y="133.50" font-size="4.5" fill="#f0d8cc" text-anchor="middle">4</text>
<text x="631.11" y="133.50" font-size="4.5" fill="#a8a8a8" text-anchor="middle">0</text>
<text x="640.19" y="133.50" font-size="4.5" fill="#a8a8a8" text-anchor="middle">0</text>
<text x="649.28" y="133.50" font-size="4.5" fill="#a8a8a8" text-anchor="middle">0</text>
<text x="658.36" y="133.50" font-size="4.5" fill="#a8a8a8" text-anchor="middle">0</text>
<text x="667.44" y="133.50" font-size="4.5" fill="#e8d8da" text-anchor="middle">6</text>
<text x="234.20" y="106.50" font-size="4.5" text-anchor="end">GEAR</text>
<text x="234.20" y="115.50" font-size="4.5" text-anchor="end">Oncogenes</text>
<text x="234.20" y="124.50" font-size="4.5" text-anchor="end">TSG</text>
<text x="234.20" y="133.50" font-size="4.5" text-anchor="end">TF</text>
<rect x="272.33" y="139.40" width="9.08" height="9.00" fill="#67001f"/>
<rect x="345.00" y="139.40" width="9.08" height="9.00" fill="#67001f"/>
<rect x="354.08" y="139.40" width="9.08" height="9.00" fill="#67001f"/>
<rect x="372.25" y="139.40" width="9.08" height="9.00" fill="#67001f"/>
<rect x="390.41" y="139.40" width="9.08" height="9.00" fill="#67001f"/>
<rect x="453.99" y="139.40" width="9.08" height="9.00" fill="#67001f"/>
<rect x="481.24" y="139.40" width="9.08" height="9.00" fill="#67001f"/>
<rect x="499.41" y="139.40" width="9.08" height="9.00" fill="#67001f"/>
<rect x="535.74" y="139.40" width="9.08" height="9.00" fill="#67001f"/>
<rect x="553.90" y="139.40" width="9.08" height="9.00" fill="#67001f"/>
<rect x="562.99" y="139.40" width="9.08" height="9.00" fill="#67001f"/>
<rect x="590.24" y="139.40" width="9.08" height="9.00" fill="#67001f"/>
<rect x="599.32" y="139.40" width="9.08" height="9.00" fill="#67001f"/>
<rect x="608.40" y="139.40" width="9.08" height="9.00" fill="#67001f"/>
<rect x="617.49" y="139.40" width="9.08" height="9.00" fill="#67001f"/>
<rect x="662.90" y="139.40" width="9.08" height="9.00" fill="#67001f"/>
<rect x="272.33" y="148.40" width="9.08" height="9.00" fill="#67001f"/>
<rect x="354.08" y="148.40" width="9.08" height="9.00" fill="#67001f"/>
<rect x="372.25" y="148.40" width="9.08" height="9.00" fill="#e07055"/>
<rect x="390.41" y="148.40" width="9.08" height="9.00" fill="#67001f"/>
<rect x="453.99" y="148.40" width="9.08" height="9.00" fill="#67001f"/>
<rect x="481.24" y="148.40" width="9.08" height="9.00" fill="#67001f"/>
<rect x="499.41" y="148.40" width="9.08" height="9.00" fill="#67001f"/>
<rect x="535.74" y="148.40" width="9.08" height="9.00" fill="#67001f"/>
<rect x="553.90" y="148.40" width="9.08" height="9.00" fill="#67001f"/>
<rect x="562.99" y="148.40" width="9.08" height="9.00" fill="#67001f"/>
<rect x="590.24" y="148.40" width="9.08" height="9.00" fill="#67001f"/>
<rect x="599.32" y="148.40" width="9.08" height="9.00" fill="#67001f"/>
<rect x="608.40" y="148.40" width="9.08" height="9.00" fill="#67001f"/>
<rect x="662.90" y="148.40" width="9.08" height="9.00" fill="#b5192c"/>
<rect x="272.33" y="157.40" width="9.08" height="9.00" fill="#67001f"/>
<rect x="345.00" y="157.40" width="9.08" height="9.00" fill="#f5ae8e"/>
<rect x="354.08" y="157.40" width="9.08" height="9.00" fill="#67001f"/>
<rect x="372.25" y="157.40" width="9.08" height="9.00" fill="#67001f"/>
<rect x="390.41" y="157.40" width="9.08" height="9.00" fill="#67001f"/>
<rect x="453.99" y="157.40" width="9.08" height="9.00" fill="#67001f"/>
<rect x="481.24" y="157.40" width="9.08" height="9.00" fill="#67001f"/>
<rect x="499.41" y="157.40" width="9.08" height="9.00" fill="#67001f"/>
<rect x="535.74" y="157.40" width="9.08" height="9.00" fill="#67001f"/>
<rect x="553.90" y="157.40" width="9.08" height="9.00" fill="#67001f"/>
<rect x="562.99" y="157.40" width="9.08" height="9.00" fill="#67001f"/>
<rect x="590.24" y="157.40" width="9.08" height="9.00" fill="#67001f"/>
<rect x="599.32" y="157.40" width="9.08" height="9.00" fill="#67001f"/>
<rect x="608.40" y="157.40" width="9.08" height="9.00" fill="#67001f"/>
<rect x="617.49" y="157.40" width="9.08" height="9.00" fill="#c8363a"/>
<rect x="662.90" y="157.40" width="9.08" height="9.00" fill="#67001f"/>
<rect x="272.33" y="166.40" width="9.08" height="9.00" fill="#67001f"/>
<rect x="345.00" y="166.40" width="9.08" height="9.00" fill="#67001f"/>
<rect x="354.08" y="166.40" width="9.08" height="9.00" fill="#67001f"/>
<rect x="372.25" y="166.40" width="9.08" height="9.00" fill="#67001f"/>
<rect x="390.41" y="166.40" width="9.08" height="9.00" fill="#67001f"/>
<rect x="453.99" y="166.40" width="9.08" height="9.00" fill="#67001f"/>
<rect x="481.24" y="166.40" width="9.08" height="9.00" fill="#67001f"/>
<rect x="499.41" y="166.40" width="9.08" height="9.00" fill="#67001f"/>
<rect x="535.74" y="166.40" width="9.08" height="9.00" fill="#67001f"/>
<rect x="553.90" y="166.40" width="9.08" height="9.00" fill="#67001f"/>
<rect x="562.99" y="166.40" width="9.08" height="9.00" fill="#67001f"/>
<rect x="590.24" y="166.40" width="9.08" height="9.00" fill="#67001f"/>
<rect x="599.32" y="166.40" width="9.08" height="9.00" fill="#67001f"/>
<rect x="608.40" y="166.40" width="9.08" height="9.00" fill="#67001f"/>
<rect x="617.49" y="166.40" width="9.08" height="9.00" fill="#67001f"/>
<rect x="662.90" y="166.40" width="9.08" height="9.00" fill="#67001f"/>
<line x1="236.00" y1="139.40" x2="671.98" y2="139.40" stroke="#d6d6d6" stroke-width="0.5"/>
<line x1="236.00" y1="148.40" x2="671.98" y2="148.40" stroke="#d6d6d6" stroke-width="0.5"/>
<line x1="236.00" y1="157.40" x2="671.98" y2="157.40" stroke="#d6d6d6" stroke-width="0.5"/>
<line x1="236.00" y1="166.40" x2="671.98" y2="166.40" stroke="#d6d6d6" stroke-width="0.5"/>
<line x1="236.00" y1="175.40" x2="671.98" y2="175.40" stroke="#d6d6d6" stroke-width="0.5"/>
<line x1="236.00" y1="139.40" x2="236.00" y2="175.40" stroke="#d6d6d6" stroke-width="0.5"/>
<line x1="245.08" y1="139.40" x2="245.08" y2="175.40" stroke="#d6d6d6" stroke-width="0.5"/>
<line x1="254.17" y1="139.40" x2="254.17" y2="175.40" stroke="#d6d6d6" stroke-width="0.5"/>
<line x1="263.25" y1="139.40" x2="263.25" y2="175.40" stroke="#a8a8a8" stroke-width="0.9"/>
<line x1="272.33" y1="139.40" x2="272.33" y2="175.40" stroke="#d6d6d6" stroke-width="0.5"/>
<line x1="281.42" y1="139.40" x2="281.42" y2="175.40" stroke="#d6d6d6" stroke-width="0.5"/>
<line x1="290.50" y1="139.40" x2="290.50" y2="175.40" stroke="#a8a8a8" stroke-width="0.9"/>
<line x1="299.58" y1="139.40" x2="299.58" y2="175.40" stroke="#d6d6d6" stroke-width="0.5"/>
<line x1="308.66" y1="139.40" x2="308.66" y2="175.40" stroke="#d6d6d6" stroke-width="0.5"/>
<line x1="317.75" y1="139.40" x2="317.75" y2="175.40" stroke="#a8a8a8" stroke-width="0.9"/>
<line x1="326.83" y1="139.40" x2="326.83" y2="175.40" stroke="#d6d6d6" stroke-width="0.5"/>
<line x1="335.91" y1="139.40" x2="335.91" y2="175.40" stroke="#d6d6d6" stroke-width="0.5"/>
<line x1="345.00" y1="139.40" x2="345.00" y2="175.40" stroke="#888888" stroke-width="1.2"/>
<line x1="354.08" y1="139.40" x2="354.08" y2="175.40" stroke="#d6d6d6" stroke-width="0.5"/>
<line x1="363.16" y1="139.40" x2="363.16" y2="175.40" stroke="#d6d6d6" stroke-width="0.5"/>
<line x1="372.25" y1="139.40" x2="372.25" y2="175.40" stroke="#a8a8a8" stroke-width="0.9"/>
<line x1="381.33" y1="139.40" x2="381.33" y2="175.40" stroke="#d6d6d6" stroke-width="0.5"/>
<line x1="390.41" y1="139.40" x2="390.41" y2="175.40" stroke="#d6d6d6" stroke-width="0.5"/>
<line x1="399.49" y1="139.40" x2="399.49" y2="175.40" stroke="#a8a8a8" stroke-width="0.9"/>
<line x1="408.58" y1="139.40" x2="408.58" y2="175.40" stroke="#d6d6d6" stroke-width="0.5"/>
<line x1="417.66" y1="139.40" x2="417.66" y2="175.40" stroke="#d6d6d6" stroke-width="0.5"/>
<line x1="426.74" y1="139.40" x2="426.74" y2="175.40" stroke="#a8a8a8" stroke-width="0.9"/>
<line x1="435.83" y1="139.40" x2="435.83" y2="175.40" stroke="#d6d6d6" stroke-width="0.5"/>
<line x1="444.91" y1="139.40" x2="444.91" y2="175.40" stroke="#d6d6d6" stroke-width="0.5"/>
<line x1="453.99" y1="139.40" x2="453.99" y2="175.40" stroke="#555555" stroke-width="1.4"/>
<line x1="463.08" y1="139.40" x2="463.08" y2="175.40" stroke="#d6d6d6" stroke-width="0.5"/>
<line x1="472.16" y1="139.40" x2="472.16" y2="175.40" stroke="#d6d6d6" stroke-width="0.5"/>
<line x1="481.24" y1="139.40" x2="481.24" y2="175.40" stroke="#a8a8a8" stroke-width="0.9"/>
<line x1="490.32" y1="139.40" x2="490.32" y2="175.40" stroke="#d6d6d6" stroke-width="0.5"/>
<line x1="499.41" y1="139.40" x2="499.41" y2="175.40" stroke="#d6d6d6" stroke-width="0.5"/>
<line x1="508.49" y1="139.40" x2="508.49" y2="175.40" stroke="#a8a8a8" stroke-width="0.9"/>
<line x1="517.57" y1="139.40" x2="517.57" y2="175.40" stroke="#d6d6d6" stroke-width="0.5"/>
<line x1="526.66" y1="139.40" x2="526.66" y2="175.40" stroke="#d6d6d6" stroke-width="0.5"/>
<line x1="535.74" y1="139.40" x2="535.74" y2="175.40" stroke="#a8a8a8" stroke-width="0.9"/>
<line x1="544.82" y1="139.40" x2="544.82" y2="175.40" stroke="#d6d6d6" stroke-width="0.5"/>
<line x1="553.90" y1="139.40" x2="553.90" y2="175.40" stroke="#d6d6d6" stroke-width="0.5"/>
<line x1="562.99" y1="139.40" x2="562.99" y2="175.40" stroke="#888888" stroke-width="1.2"/>
<line x1="572.07" y1="139.40" x2="572.07" y2="175.40" stroke="#d6d6d6" stroke-width="0.5"/>
<line x1="581.15" y1="139.40" x2="581.15" y2="175.40" stroke="#d6d6d6" stroke-width="0.5"/>
<line x1="590.24" y1="139.40" x2="590.24" y2="175.40" stroke="#a8a8a8" stroke-width="0.9"/>
<line x1="599.32" y1="139.40" x2="599.32" y2="175.40" stroke="#d6d6d6" stroke-width="0.5"/>
<line x1="608.40" y1="139.40" x2="608.40" y2="175.40" stroke="#d6d6d6" stroke-width="0.5"/>
<line x1="617.49" y1="139.40" x2="617.49" y2="175.40" stroke="#a8a8a8" stroke-width="0.9"/>
<line x1="626.57" y1="139.40" x2="626.57" y2="175.40" stroke="#d6d6d6" stroke-width="0.5"/>
<line x1="635.65" y1="139.40" x2="635.65" y2="175.40" stroke="#d6d6d6" stroke-width="0.5"/>
<line x1="644.74" y1="139.40" x2="644.74" y2="175.40" stroke="#a8a8a8" stroke-width="0.9"/>
<line x1="653.82" y1="139.40" x2="653.82" y2="175.40" stroke="#d6d6d6" stroke-width="0.5"/>
<line x1="662.90" y1="139.40" x2="662.90" y2="175.40" stroke="#d6d6d6" stroke-width="0.5"/>
<line x1="671.98" y1="139.40" x2="671.98" y2="175.40" stroke="#d6d6d6" stroke-width="0.5"/>
<text x="240.54" y="145.50" font-size="4.5" fill="#a8a8a8" text-anchor="middle">0</text>
<text x="249.62" y="145.50" font-size="4.5" fill="#a8a8a8" text-anchor="middle">0</text>
<text x="258.71" y="145.50" font-size="4.5" fill="#a8a8a8" text-anchor="middle">0</text>
<text x="267.79" y="145.50" font-size="4.5" fill="#a8a8a8" text-anchor="middle">0</text>
<text x="276.87" y="145.50" font-size="4.5" fill="#e8d8da" text-anchor="middle">74</text>
<text x="285.96" y="145.50" font-size="4.5" fill="#a8a8a8" text-anchor="middle">0</text>
<text x="295.04" y="145.50" font-size="4.5" fill="#a8a8a8" text-anchor="middle">0</text>
<text x="304.12" y="145.50" font-size="4.5" fill="#a8a8a8" text-anchor="middle">0</text>
<text x="313.21" y="145.50" font-size="4.5" fill="#a8a8a8" text-anchor="middle">0</text>
<text x="322.29" y="145.50" font-size="4.5" fill="#a8a8a8" text-anchor="middle">0</text>
<text x="331.37" y="145.50" font-size="4.5" fill="#a8a8a8" text-anchor="middle">0</text>
<text x="340.45" y="145.50" font-size="4.5" fill="#a8a8a8" text-anchor="middle">0</text>
<text x="349.54" y="145.50" font-size="4.5" fill="#e8d8da" text-anchor="middle">12</text>
<text x="358.62" y="145.50" font-size="4.5" fill="#e8d8da" text-anchor="middle">138</text>
<text x="367.70" y="145.50" font-size="4.5" fill="#a8a8a8" text-anchor="middle">0</text>
<text x="376.79" y="145.50" font-size="4.5" fill="#e8d8da" text-anchor="middle">96</text>
<text x="385.87" y="145.50" font-size="4.5" fill="#a8a8a8" text-anchor="middle">0</text>
<text x="394.95" y="145.50" font-size="4.5" fill="#e8d8da" text-anchor="middle">52</text>
<text x="404.04" y="145.50" font-size="4.5" fill="#a8a8a8" text-anchor="middle">0</text>
<text x="413.12" y="145.50" font-size="4.5" fill="#a8a8a8" text-anchor="middle">0</text>
<text x="422.20" y="145.50" font-size="4.5" fill="#a8a8a8" text-anchor="middle">0</text>
<text x="431.28" y="145.50" font-size="4.5" fill="#a8a8a8" text-anchor="middle">0</text>
<text x="440.37" y="145.50" font-size="4.5" fill="#a8a8a8" text-anchor="middle">0</text>
<text x="449.45" y="145.50" font-size="4.5" fill="#a8a8a8" text-anchor="middle">0</text>
<text x="458.53" y="145.50" font-size="4.5" fill="#e8d8da" text-anchor="middle">123</text>
<text x="467.62" y="145.50" font-size="4.5" fill="#a8a8a8" text-anchor="middle">0</text>
<text x="476.70" y="145.50" font-size="4.5" fill="#a8a8a8" text-anchor="middle">0</text>
<text x="485.78" y="145.50" font-size="4.5" fill="#e8d8da" text-anchor="middle">147</text>
<text x="494.87" y="145.50" font-size="4.5" fill="#a8a8a8" text-anchor="middle">0</text>
<text x="503.95" y="145.50" font-size="4.5" fill="#e8d8da" text-anchor="middle">32</text>
<text x="513.03" y="145.50" font-size="4.5" fill="#a8a8a8" text-anchor="middle">0</text>
<text x="522.11" y="145.50" font-size="4.5" fill="#a8a8a8" text-anchor="middle">0</text>
<text x="531.20" y="145.50" font-size="4.5" fill="#a8a8a8" text-anchor="middle">0</text>
<text x="540.28" y="145.50" font-size="4.5" fill="#e8d8da" text-anchor="middle">26</text>
<text x="549.36" y="145.50" font-size="4.5" fill="#a8a8a8" text-anchor="middle">0</text>
<text x="558.45" y="145.50" font-size="4.5" fill="#e8d8da" text-anchor="middle">32</text>
<text x="567.53" y="145.50" font-size="4.5" fill="#e8d8da" text-anchor="middle">37</text>
<text x="576.61" y="145.50" font-size="4.5" fill="#a8a8a8" text-anchor="middle">0</text>
<text x="585.70" y="145.50" font-size="4.5" fill="#a8a8a8" text-anchor="middle">0</text>
<text x="594.78" y="145.50" font-size="4.5" fill="#e8d8da" text-anchor="middle">182</text>
<text x="603.86" y="145.50" font-size="4.5" fill="#e8d8da" text-anchor="middle">185</text>
<text x="612.94" y="145.50" font-size="4.5" fill="#e8d8da" text-anchor="middle">63</text>
<text x="622.03" y="145.50" font-size="4.5" fill="#e8d8da" text-anchor="middle">9</text>
<text x="631.11" y="145.50" font-size="4.5" fill="#a8a8a8" text-anchor="middle">0</text>
<text x="640.19" y="145.50" font-size="4.5" fill="#a8a8a8" text-anchor="middle">0</text>
<text x="649.28" y="145.50" font-size="4.5" fill="#a8a8a8" text-anchor="middle">0</text>
<text x="658.36" y="145.50" font-size="4.5" fill="#a8a8a8" text-anchor="middle">0</text>
<text x="667.44" y="145.50" font-size="4.5" fill="#e8d8da" text-anchor="middle">34</text>
<text x="240.54" y="154.50" font-size="4.5" fill="#a8a8a8" text-anchor="middle">0</text>
<text x="249.62" y="154.50" font-size="4.5" fill="#a8a8a8" text-anchor="middle">0</text>
<text x="258.71" y="154.50" font-size="4.5" fill="#a8a8a8" text-anchor="middle">0</text>
<text x="267.79" y="154.50" font-size="4.5" fill="#a8a8a8" text-anchor="middle">0</text>
<text x="276.87" y="154.50" font-size="4.5" fill="#e8d8da" text-anchor="middle">30</text>
<text x="285.96" y="154.50" font-size="4.5" fill="#a8a8a8" text-anchor="middle">0</text>
<text x="295.04" y="154.50" font-size="4.5" fill="#a8a8a8" text-anchor="middle">0</text>
<text x="304.12" y="154.50" font-size="4.5" fill="#a8a8a8" text-anchor="middle">0</text>
<text x="313.21" y="154.50" font-size="4.5" fill="#a8a8a8" text-anchor="middle">0</text>
<text x="322.29" y="154.50" font-size="4.5" fill="#a8a8a8" text-anchor="middle">0</text>
<text x="331.37" y="154.50" font-size="4.5" fill="#a8a8a8" text-anchor="middle">0</text>
<text x="340.45" y="154.50" font-size="4.5" fill="#a8a8a8" text-anchor="middle">0</text>
<text x="349.54" y="154.50" font-size="4.5" fill="#a8a8a8" text-anchor="middle">3</text>
<text x="358.62" y="154.50" font-size="4.5" fill="#e8d8da" text-anchor="middle">44</text>
<text x="367.70" y="154.50" font-size="4.5" fill="#a8a8a8" text-anchor="middle">0</text>
<text x="376.79" y="154.50" font-size="4.5" fill="#f0d8cc" text-anchor="middle">18</text>
<text x="385.87" y="154.50" font-size="4.5" fill="#a8a8a8" text-anchor="middle">0</text>
<text x="394.95" y="154.50" font-size="4.5" fill="#e8d8da" text-anchor="middle">24</text>
<text x="404.04" y="154.50" font-size="4.5" fill="#a8a8a8" text-anchor="middle">0</text>
<text x="413.12" y="154.50" font-size="4.5" fill="#a8a8a8" text-anchor="middle">0</text>
<text x="422.20" y="154.50" font-size="4.5" fill="#a8a8a8" text-anchor="middle">0</text>
<text x="431.28" y="154.50" font-size="4.5" fill="#a8a8a8" text-anchor="middle">0</text>
<text x="440.37" y="154.50" font-size="4.5" fill="#a8a8a8" text-anchor="middle">0</text>
<text x="449.45" y="154.50" font-size="4.5" fill="#a8a8a8" text-anchor="middle">0</text>
<text x="458.53" y="154.50" font-size="4.5" fill="#e8d8da" text-anchor="middle">37</text>
<text x="467.62" y="154.50" font-size="4.5" fill="#a8a8a8" text-anchor="middle">0</text>
<text x="476.70" y="154.50" font-size="4.5" fill="#a8a8a8" text-anchor="middle">0</text>
<text x="485.78" y="154.50" font-size="4.5" fill="#e8d8da" text-anchor="middle">47</text>
<text x="494.87" y="154.50" font-size="4.5" fill="#a8a8a8" text-anchor="middle">0</text>
<text x="503.95" y="154.50" font-size="4.5" fill="#e8d8da" text-anchor="middle">14</text>
<text x="513.03" y="154.50" font-size="4.5" fill="#a8a8a8" text-anchor="middle">0</text>
<text x="522.11" y="154.50" font-size="4.5" fill="#a8a8a8" text-anchor="middle">0</text>
<text x="531.20" y="154.50" font-size="4.5" fill="#a8a8a8" text-anchor="middle">0</text>
<text x="540.28" y="154.50" font-size="4.5" fill="#e8d8da" text-anchor="middle">13</text>
<text x="549.36" y="154.50" font-size="4.5" fill="#a8a8a8" text-anchor="middle">0</text>
<text x="558.45" y="154.50" font-size="4.5" fill="#e8d8da" text-anchor="middle">14</text>
<text x="567.53" y="154.50" font-size="4.5" fill="#e8d8da" text-anchor="middle">18</text>
<text x="576.61" y="154.50" font-size="4.5" fill="#a8a8a8" text-anchor="middle">0</text>
<text x="585.70" y="154.50" font-size="4.5" fill="#a8a8a8" text-anchor="middle">0</text>
<text x="594.78" y="154.50" font-size="4.5" fill="#e8d8da" text-anchor="middle">65</text>
<text x="603.86" y="154.50" font-size="4.5" fill="#e8d8da" text-anchor="middle">58</text>
<text x="612.94" y="154.50" font-size="4.5" fill="#e8d8da" text-anchor="middle">26</text>
<text x="622.03" y="154.50" font-size="4.5" fill="#a8a8a8" text-anchor="middle">2</text>
<text x="631.11" y="154.50" font-size="4.5" fill="#a8a8a8" text-anchor="middle">0</text>
<text x="640.19" y="154.50" font-size="4.5" fill="#a8a8a8" text-anchor="middle">0</text>
<text x="649.28" y="154.50" font-size="4.5" fill="#a8a8a8" text-anchor="middle">0</text>
<text x="658.36" y="154.50" font-size="4.5" fill="#a8a8a8" text-anchor="middle">0</text>
<text x="667.44" y="154.50" font-size="4.5" fill="#e8d8da" text-anchor="middle">12</text>
<text x="240.54" y="163.50" font-size="4.5" fill="#a8a8a8" text-anchor="middle">0</text>
<text x="249.62" y="163.50" font-size="4.5" fill="#a8a8a8" text-anchor="middle">0</text>
<text x="258.71" y="163.50" font-size="4.5" fill="#a8a8a8" text-anchor="middle">0</text>
<text x="267.79" y="163.50" font-size="4.5" fill="#a8a8a8" text-anchor="middle">0</text>
<text x="276.87" y="163.50" font-size="4.5" fill="#e8d8da" text-anchor="middle">22</text>
<text x="285.96" y="163.50" font-size="4.5" fill="#a8a8a8" text-anchor="middle">0</text>
<text x="295.04" y="163.50" font-size="4.5" fill="#a8a8a8" text-anchor="middle">0</text>
<text x="304.12" y="163.50" font-size="4.5" fill="#a8a8a8" text-anchor="middle">0</text>
<text x="313.21" y="163.50" font-size="4.5" fill="#a8a8a8" text-anchor="middle">0</text>
<text x="322.29" y="163.50" font-size="4.5" fill="#a8a8a8" text-anchor="middle">0</text>
<text x="331.37" y="163.50" font-size="4.5" fill="#a8a8a8" text-anchor="middle">0</text>
<text x="340.45" y="163.50" font-size="4.5" fill="#a8a8a8" text-anchor="middle">0</text>
<text x="349.54" y="163.50" font-size="4.5" fill="#f0d8cc" text-anchor="middle">8</text>
<text x="358.62" y="163.50" font-size="4.5" fill="#e8d8da" text-anchor="middle">29</text>
<text x="367.70" y="163.50" font-size="4.5" fill="#a8a8a8" text-anchor="middle">0</text>
<text x="376.79" y="163.50" font-size="4.5" fill="#e8d8da" text-anchor="middle">28</text>
<text x="385.87" y="163.50" font-size="4.5" fill="#a8a8a8" text-anchor="middle">0</text>
<text x="394.95" y="163.50" font-size="4.5" fill="#e8d8da" text-anchor="middle">30</text>
<text x="404.04" y="163.50" font-size="4.5" fill="#a8a8a8" text-anchor="middle">0</text>
<text x="413.12" y="163.50" font-size="4.5" fill="#a8a8a8" text-anchor="middle">0</text>
<text x="422.20" y="163.50" font-size="4.5" fill="#a8a8a8" text-anchor="middle">0</text>
<text x="431.28" y="163.50" font-size="4.5" fill="#a8a8a8" text-anchor="middle">0</text>
<text x="440.37" y="163.50" font-size="4.5" fill="#a8a8a8" text-anchor="middle">0</text>
<text x="449.45" y="163.50" font-size="4.5" fill="#a8a8a8" text-anchor="middle">0</text>
<text x="458.53" y="163.50" font-size="4.5" fill="#e8d8da" text-anchor="middle">45</text>
<text x="467.62" y="163.50" font-size="4.5" fill="#a8a8a8" text-anchor="middle">0</text>
<text x="476.70" y="163.50" font-size="4.5" fill="#a8a8a8" text-anchor="middle">0</text>
<text x="485.78" y="163.50" font-size="4.5" fill="#e8d8da" text-anchor="middle">54</text>
<text x="494.87" y="163.50" font-size="4.5" fill="#a8a8a8" text-anchor="middle">0</text>
<text x="503.95" y="163.50" font-size="4.5" fill="#e8d8da" text-anchor="middle">21</text>
<text x="513.03" y="163.50" font-size="4.5" fill="#a8a8a8" text-anchor="middle">0</text>
<text x="522.11" y="163.50" font-size="4.5" fill="#a8a8a8" text-anchor="middle">0</text>
<text x="531.20" y="163.50" font-size="4.5" fill="#a8a8a8" text-anchor="middle">0</text>
<text x="540.28" y="163.50" font-size="4.5" fill="#e8d8da" text-anchor="middle">9</text>
<text x="549.36" y="163.50" font-size="4.5" fill="#a8a8a8" text-anchor="middle">0</text>
<text x="558.45" y="163.50" font-size="4.5" fill="#e8d8da" text-anchor="middle">31</text>
<text x="567.53" y="163.50" font-size="4.5" fill="#e8d8da" text-anchor="middle">12</text>
<text x="576.61" y="163.50" font-size="4.5" fill="#a8a8a8" text-anchor="middle">0</text>
<text x="585.70" y="163.50" font-size="4.5" fill="#a8a8a8" text-anchor="middle">0</text>
<text x="594.78" y="163.50" font-size="4.5" fill="#e8d8da" text-anchor="middle">62</text>
<text x="603.86" y="163.50" font-size="4.5" fill="#e8d8da" text-anchor="middle">58</text>
<text x="612.94" y="163.50" font-size="4.5" fill="#e8d8da" text-anchor="middle">50</text>
<text x="622.03" y="163.50" font-size="4.5" fill="#e8d8da" text-anchor="middle">5</text>
<text x="631.11" y="163.50" font-size="4.5" fill="#a8a8a8" text-anchor="middle">0</text>
<text x="640.19" y="163.50" font-size="4.5" fill="#a8a8a8" text-anchor="middle">0</text>
<text x="649.28" y="163.50" font-size="4.5" fill="#a8a8a8" text-anchor="middle">0</text>
<text x="658.36" y="163.50" font-size="4.5" fill="#a8a8a8" text-anchor="middle">0</text>
<text x="667.44" y="163.50" font-size="4.5" fill="#e8d8da" text-anchor="middle">25</text>
<text x="240.54" y="172.50" font-size="4.5" fill="#a8a8a8" text-anchor="middle">0</text>
<text x="249.62" y="172.50" font-size="4.5" fill="#a8a8a8" text-anchor="middle">0</text>
<text x="258.71" y="172.50" font-size="4.5" fill="#a8a8a8" text-anchor="middle">0</text>
<text x="267.79" y="172.50" font-size="4.5" fill="#a8a8a8" text-anchor="middle">0</text>
<text x="276.87" y="172.50" font-size="4.5" fill="#e8d8da" text-anchor="middle">148</text>
<text x="285.96" y="172.50" font-size="4.5" fill="#a8a8a8" text-anchor="middle">0</text>
<text x="295.04" y="172.50" font-size="4.5" fill="#a8a8a8" text-anchor="middle">0</text>
<text x="304.12" y="172.50" font-size="4.5" fill="#a8a8a8" text-anchor="middle">0</text>
<text x="313.21" y="172.50" font-size="4.5" fill="#a8a8a8" text-anchor="middle">0</text>
<text x="322.29" y="172.50" font-size="4.5" fill="#a8a8a8" text-anchor="middle">0</text>
<text x="331.37" y="172.50" font-size="4.5" fill="#a8a8a8" text-anchor="middle">0</text>
<text x="340.45" y="172.50" font-size="4.5" fill="#a8a8a8" text-anchor="middle">0</text>
<text x="349.54" y="172.50" font-size="4.5" fill="#e8d8da" text-anchor="middle">22</text>
<text x="358.62" y="172.50" font-size="4.5" fill="#e8d8da" text-anchor="middle">186</text>
<text x="367.70" y="172.50" font-size="4.5" fill="#a8a8a8" text-anchor="middle">0</text>
<text x="376.79" y="172.50" font-size="4.5" fill="#e8d8da" text-anchor="middle">96</text>
<text x="385.87" y="172.50" font-size="4.5" fill="#a8a8a8" text-anchor="middle">0</text>
<text x="394.95" y="172.50" font-size="4.5" fill="#e8d8da" text-anchor="middle">138</text>
<text x="404.04" y="172.50" font-size="4.5" fill="#a8a8a8" text-anchor="middle">0</text>
<text x="413.12" y="172.50" font-size="4.5" fill="#a8a8a8" text-anchor="middle">0</text>
<text x="422.20" y="172.50" font-size="4.5" fill="#a8a8a8" text-anchor="middle">0</text>
<text x="431.28" y="172.50" font-size="4.5" fill="#a8a8a8" text-anchor="middle">0</text>
<text x="440.37" y="172.50" font-size="4.5" fill="#a8a8a8" text-anchor="middle">0</text>
<text x="449.45" y="172.50" font-size="4.5" fill="#a8a8a8" text-anchor="middle">0</text>
<text x="458.53" y="172.50" font-size="4.5" fill="#e8d8da" text-anchor="middle">197</text>
<text x="467.62" y="172.50" font-size="4.5" fill="#a8a8a8" text-anchor="middle">0</text>
<text x="476.70" y="172.50" font-size="4.5" fill="#a8a8a8" text-anchor="middle">0</text>
<text x="485.78" y="172.50" font-size="4.5" fill="#e8d8da" text-anchor="middle">275</text>
<text x="494.87" y="172.50" font-size="4.5" fill="#a8a8a8" text-anchor="middle">0</text>
<text x="503.95" y="172.50" font-size="4.5" fill="#e8d8da" text-anchor="middle">91</text>
<text x="513.03" y="172.50" font-size="4.5" fill="#a8a8a8" text-anchor="middle">0</text>
<text x="522.11" y="172.50" font-size="4.5" fill="#a8a8a8" text-anchor="middle">0</text>
<text x="531.20" y="172.50" font-size="4.5" fill="#a8a8a8" text-anchor="middle">0</text>
<text x="540.28" y="172.50" font-size="4.5" fill="#e8d8da" text-anchor="middle">51</text>
<text x="549.36" y="172.50" font-size="4.5" fill="#a8a8a8" text-anchor="middle">0</text>
<text x="558.45" y="172.50" font-size="4.5" fill="#e8d8da" text-anchor="middle">91</text>
<text x="567.53" y="172.50" font-size="4.5" fill="#e8d8da" text-anchor="middle">79</text>
<text x="576.61" y="172.50" font-size="4.5" fill="#a8a8a8" text-anchor="middle">0</text>
<text x="585.70" y="172.50" font-size="4.5" fill="#a8a8a8" text-anchor="middle">0</text>
<text x="594.78" y="172.50" font-size="4.5" fill="#e8d8da" text-anchor="middle">330</text>
<text x="603.86" y="172.50" font-size="4.5" fill="#e8d8da" text-anchor="middle">306</text>
<text x="612.94" y="172.50" font-size="4.5" fill="#e8d8da" text-anchor="middle">188</text>
<text x="622.03" y="172.50" font-size="4.5" fill="#e8d8da" text-anchor="middle">20</text>
<text x="631.11" y="172.50" font-size="4.5" fill="#a8a8a8" text-anchor="middle">0</text>
<text x="640.19" y="172.50" font-size="4.5" fill="#a8a8a8" text-anchor="middle">0</text>
<text x="649.28" y="172.50" font-size="4.5" fill="#a8a8a8" text-anchor="middle">0</text>
<text x="658.36" y="172.50" font-size="4.5" fill="#a8a8a8" text-anchor="middle">0</text>
<text x="667.44" y="172.50" font-size="4.5" fill="#e8d8da" text-anchor="middle">89</text>
<text x="234.20" y="145.50" font-size="4.5" text-anchor="end">GEAR</text>
<text x="234.20" y="154.50" font-size="4.5" text-anchor="end">Oncogenes</text>
<text x="234.20" y="163.50" font-size="4.5" text-anchor="end">TSG</text>
<text x="234.20" y="172.50" font-size="4.5" text-anchor="end">TF</text>
<text x="242.14" y="21.00" font-size="4.5" transform="rotate(-90 242.14 21.00)">UD5</text>
<text x="251.22" y="21.00" font-size="4.5" transform="rotate(-90 251.22 21.00)">UD10</text>
<text x="260.31" y="21.00" font-size="4.5" transform="rotate(-90 260.31 21.00)">AML2</text>
<text x="269.39" y="21.00" font-size="4.5" transform="rotate(-90 269.39 21.00)">UD5</text>
<text x="278.47" y="21.00" font-size="4.5" transform="rotate(-90 278.47 21.00)">UD10</text>
<text x="287.56" y="21.00" font-size="4.5" transform="rotate(-90 287.56 21.00)">AML2</text>
<text x="296.64" y="21.00" font-size="4.5" transform="rotate(-90 296.64 21.00)">UD5</text>
<text x="305.72" y="21.00" font-size="4.5" transform="rotate(-90 305.72 21.00)">UD10</text>
<text x="314.81" y="21.00" font-size="4.5" transform="rotate(-90 314.81 21.00)">AML2</text>
<text x="323.89" y="21.00" font-size="4.5" transform="rotate(-90 323.89 21.00)">UD5</text>
<text x="332.97" y="21.00" font-size="4.5" transform="rotate(-90 332.97 21.00)">UD10</text>
<text x="342.05" y="21.00" font-size="4.5" transform="rotate(-90 342.05 21.00)">AML2</text>
<text x="351.14" y="21.00" font-size="4.5" transform="rotate(-90 351.14 21.00)">UD5</text>
<text x="360.22" y="21.00" font-size="4.5" transform="rotate(-90 360.22 21.00)">UD10</text>
<text x="369.30" y="21.00" font-size="4.5" transform="rotate(-90 369.30 21.00)">AML2</text>
<text x="378.39" y="21.00" font-size="4.5" transform="rotate(-90 378.39 21.00)">UD5</text>
<text x="387.47" y="21.00" font-size="4.5" transform="rotate(-90 387.47 21.00)">UD10</text>
<text x="396.55" y="21.00" font-size="4.5" transform="rotate(-90 396.55 21.00)">AML2</text>
<text x="405.64" y="21.00" font-size="4.5" transform="rotate(-90 405.64 21.00)">UD5</text>
<text x="414.72" y="21.00" font-size="4.5" transform="rotate(-90 414.72 21.00)">UD10</text>
<text x="423.80" y="21.00" font-size="4.5" transform="rotate(-90 423.80 21.00)">AML2</text>
<text x="432.88" y="21.00" font-size="4.5" transform="rotate(-90 432.88 21.00)">UD5</text>
<text x="441.97" y="21.00" font-size="4.5" transform="rotate(-90 441.97 21.00)">UD10</text>
<text x="451.05" y="21.00" font-size="4.5" transform="rotate(-90 451.05 21.00)">AML2</text>
<text x="460.13" y="21.00" font-size="4.5" transform="rotate(-90 460.13 21.00)">UD5</text>
<text x="469.22" y="21.00" font-size="4.5" transform="rotate(-90 469.22 21.00)">UD10</text>
<text x="478.30" y="21.00" font-size="4.5" transform="rotate(-90 478.30 21.00)">AML2</text>
<text x="487.38" y="21.00" font-size="4.5" transform="rotate(-90 487.38 21.00)">UD5</text>
<text x="496.47" y="21.00" font-size="4.5" transform="rotate(-90 496.47 21.00)">UD10</text>
<text x="505.55" y="21.00" font-size="4.5" transform="rotate(-90 505.55 21.00)">AML2</text>
<text x="514.63" y="21.00" font-size="4.5" transform="rotate(-90 514.63 21.00)">UD5</text>
<text x="523.71" y="21.00" font-size="4.5" transform="rotate(-90 523.71 21.00)">UD10</text>
<text x="532.80" y="21.00" font-size="4.5" transform="rotate(-90 532.80 21.00)">AML2</text>
<text x="541.88" y="21.00" font-size="4.5" transform="rotate(-90 541.88 21.00)">UD5</text>
<text x="550.96" y="21.00" font-size="4.5" transform="rotate(-90 550.96 21.00)">UD10</text>
<text x="560.05" y="21.00" font-size="4.5" transform="rotate(-90 560.05 21.00)">AML2</text>
<text x="569.13" y="21.00" font-size="4.5" transform="rotate(-90 569.13 21.00)">UD5</text>
<text x="578.21" y="21.00" font-size="4.5" transform="rotate(-90 578.21 21.00)">UD10</text>
<text x="587.30" y="21.00" font-size="4.5" transform="rotate(-90 587.30 21.00)">AML2</text>
<text x="596.38" y="21.00" font-size="4.5" transform="rotate(-90 596.38 21.00)">UD5</text>
<text x="605.46" y="21.00" font-size="4.5" transform="rotate(-90 605.46 21.00)">UD10</text>
<text x="614.54" y="21.00" font-size="4.5" transform="rotate(-90 614.54 21.00)">AML2</text>
<text x="623.63" y="21.00" font-size="4.5" transform="rotate(-90 623.63 21.00)">UD5</text>
<text x="632.71" y="21.00" font-size="4.5" transform="rotate(-90 632.71 21.00)">UD10</text>
<text x="641.79" y="21.00" font-size="4.5" transform="rotate(-90 641.79 21.00)">AML2</text>
<text x="650.88" y="21.00" font-size="4.5" transform="rotate(-90 650.88 21.00)">UD5</text>
<text x="659.96" y="21.00" font-size="4.5" transform="rotate(-90 659.96 21.00)">UD10</text>
<text x="669.04" y="21.00" font-size="4.5" transform="rotate(-90 669.04 21.00)">AML2</text>
<text x="249.62" y="3.00" font-size="4.7" text-anchor="middle">5'Flag</text>
<line x1="238.40" y1="4.50" x2="260.85" y2="4.50" stroke="#a0a0a0" stroke-width="0.9"/>
<text x="276.87" y="3.00" font-size="4.7" text-anchor="middle">GB</text>
<line x1="265.65" y1="4.50" x2="288.10" y2="4.50" stroke="#a0a0a0" stroke-width="0.9"/>
<text x="304.12" y="3.00" font-size="4.7" text-anchor="middle">3'UTR</text>
<line x1="292.90" y1="4.50" x2="315.35" y2="4.50" stroke="#a0a0a0" stroke-width="0.9"/>
<text x="331.37" y="3.00" font-size="4.7" text-anchor="middle">Fantom</text>
<line x1="320.15" y1="4.50" x2="342.60" y2="4.50" stroke="#a0a0a0" stroke-width="0.9"/>
<text x="358.62" y="3.00" font-size="4.7" text-anchor="middle">5'Flag</text>
<line x1="347.40" y1="4.50" x2="369.85" y2="4.50" stroke="#a0a0a0" stroke-width="0.9"/>
<text x="385.87" y="3.00" font-size="4.7" text-anchor="middle">GB</text>
<line x1="374.64" y1="4.50" x2="397.09" y2="4.50" stroke="#a0a0a0" stroke-width="0.9"/>
<text x="413.12" y="3.00" font-size="4.7" text-anchor="middle">3'UTR</text>
<line x1="401.89" y1="4.50" x2="424.34" y2="4.50" stroke="#a0a0a0" stroke-width="0.9"/>
<text x="440.37" y="3.00" font-size="4.7" text-anchor="middle">Fantom</text>
<line x1="429.14" y1="4.50" x2="451.59" y2="4.50" stroke="#a0a0a0" stroke-width="0.9"/>
<text x="467.62" y="3.00" font-size="4.7" text-anchor="middle">5'Flag</text>
<line x1="456.39" y1="4.50" x2="478.84" y2="4.50" stroke="#a0a0a0" stroke-width="0.9"/>
<text x="494.87" y="3.00" font-size="4.7" text-anchor="middle">GB</text>
<line x1="483.64" y1="4.50" x2="506.09" y2="4.50" stroke="#a0a0a0" stroke-width="0.9"/>
<text x="522.11" y="3.00" font-size="4.7" text-anchor="middle">3'UTR</text>
<line x1="510.89" y1="4.50" x2="533.34" y2="4.50" stroke="#a0a0a0" stroke-width="0.9"/>
<text x="549.36" y="3.00" font-size="4.7" text-anchor="middle">Fantom</text>
<line x1="538.14" y1="4.50" x2="560.59" y2="4.50" stroke="#a0a0a0" stroke-width="0.9"/>
<text x="576.61" y="3.00" font-size="4.7" text-anchor="middle">5'Flag</text>
<line x1="565.39" y1="4.50" x2="587.84" y2="4.50" stroke="#a0a0a0" stroke-width="0.9"/>
<text x="603.86" y="3.00" font-size="4.7" text-anchor="middle">GB</text>
<line x1="592.64" y1="4.50" x2="615.09" y2="4.50" stroke="#a0a0a0" stroke-width="0.9"/>
<text x="631.11" y="3.00" font-size="4.7" text-anchor="middle">3'UTR</text>
<line x1="619.89" y1="4.50" x2="642.34" y2="4.50" stroke="#a0a0a0" stroke-width="0.9"/>
<text x="658.36" y="3.00" font-size="4.7" text-anchor="middle">Fantom</text>
<line x1="647.13" y1="4.50" x2="669.58" y2="4.50" stroke="#a0a0a0" stroke-width="0.9"/>
<text x="225.20" y="21.50" font-size="14.5" stroke="#000" stroke-width="0.15">b</text>
<line x1="677.50" y1="24.40" x2="677.50" y2="56.90" stroke="#888888" stroke-width="0.9"/>
<text x="684.60" y="40.40" font-size="5.0" text-anchor="middle" transform="rotate(-90 684.60 40.40)">DMG</text>
<line x1="677.50" y1="63.40" x2="677.50" y2="95.90" stroke="#888888" stroke-width="0.9"/>
<text x="684.60" y="79.40" font-size="5.0" text-anchor="middle" transform="rotate(-90 684.60 79.40)">DM-DEG</text>
<line x1="677.50" y1="102.40" x2="677.50" y2="134.90" stroke="#888888" stroke-width="0.9"/>
<text x="684.60" y="118.40" font-size="5.0" text-anchor="middle" transform="rotate(-90 684.60 118.40)">FL-TG-DEG</text>
<line x1="677.50" y1="141.40" x2="677.50" y2="173.90" stroke="#888888" stroke-width="0.9"/>
<text x="684.60" y="157.40" font-size="5.0" text-anchor="middle" transform="rotate(-90 684.60 157.40)">SL-TG-DEG</text>
<text y="184.1" font-size="6.3" fill="#222" font-family='"Liberation Serif", serif'><tspan x="281.9">&#916;</tspan><tspan x="286.5" font-style="italic">&#946;</tspan><tspan x="291.7">&lt;</tspan><tspan x="297.5">0</tspan></text>
<text y="184.1" font-size="6.3" fill="#222" font-family='"Liberation Serif", serif'><tspan x="385.2">&#916;</tspan><tspan x="389.8" font-style="italic">&#946;</tspan><tspan x="395.0">&gt;</tspan><tspan x="400.8">0</tspan></text>
<text y="184.1" font-size="6.3" fill="#222" font-family='"Liberation Serif", serif'><tspan x="501.3">&#916;</tspan><tspan x="505.9" font-style="italic">&#946;</tspan><tspan x="511.1">&lt;</tspan><tspan x="516.9">0</tspan></text>
<text y="184.1" font-size="6.3" fill="#222" font-family='"Liberation Serif", serif'><tspan x="609.7">&#916;</tspan><tspan x="614.3" font-style="italic">&#946;</tspan><tspan x="619.5">&gt;</tspan><tspan x="625.3">0</tspan></text>
<line x1="236.40" y1="187.30" x2="450.50" y2="187.30" stroke="#a0a0a0" stroke-width="1"/>
<line x1="458.00" y1="187.30" x2="672.00" y2="187.30" stroke="#a0a0a0" stroke-width="1"/>
<text x="343.30" y="196.20" font-size="7.2" text-anchor="middle" stroke="#000" stroke-width="0.15">CGI</text>
<text x="561.40" y="196.20" font-size="7.2" text-anchor="middle" stroke="#000" stroke-width="0.15">NoCGI</text>
<rect x="68.95" y="177.50" width="10.55" height="10.45" fill="#e8896a"/>
<rect x="79.50" y="177.50" width="10.55" height="10.45" fill="#fdf0ea"/>
<rect x="68.95" y="187.95" width="10.55" height="10.45" fill="#fbd0b8"/>
<rect x="90.05" y="187.95" width="10.55" height="10.45" fill="#fbcbb2"/>
<rect x="100.60" y="187.95" width="10.55" height="10.45" fill="#f0a182"/>
<rect x="111.15" y="187.95" width="10.55" height="10.45" fill="#eb9474"/>
<rect x="121.70" y="187.95" width="10.55" height="10.45" fill="#d85f4d"/>
<rect x="132.25" y="187.95" width="10.55" height="10.45" fill="#b01a2e"/>
<rect x="142.80" y="187.95" width="10.55" height="10.45" fill="#67001f"/>
<rect x="153.35" y="187.95" width="10.55" height="10.45" fill="#7a0522"/>
<rect x="100.60" y="229.75" width="10.55" height="10.45" fill="#fde9e0"/>
<rect x="121.70" y="229.75" width="10.55" height="10.45" fill="#e07b5f"/>
<rect x="132.25" y="229.75" width="10.55" height="10.45" fill="#fde6dc"/>
<rect x="153.35" y="229.75" width="10.55" height="10.45" fill="#df6f55"/>
<rect x="132.25" y="250.65" width="10.55" height="10.45" fill="#ec8e6e"/>
<rect x="153.35" y="250.65" width="10.55" height="10.45" fill="#fde2d4"/>
<rect x="68.95" y="261.10" width="10.55" height="10.45" fill="#67001f"/>
<rect x="79.50" y="261.10" width="10.55" height="10.45" fill="#fde3d6"/>
<rect x="132.25" y="261.10" width="10.55" height="10.45" fill="#e8896a"/>
<rect x="142.80" y="261.10" width="10.55" height="10.45" fill="#fde0d2"/>
<line x1="37.30" y1="177.50" x2="163.90" y2="177.50" stroke="#e2e2e2" stroke-width="0.5"/>
<line x1="37.30" y1="187.95" x2="163.90" y2="187.95" stroke="#e2e2e2" stroke-width="0.5"/>
<line x1="37.30" y1="198.40" x2="163.90" y2="198.40" stroke="#e2e2e2" stroke-width="0.5"/>
<line x1="37.30" y1="208.85" x2="163.90" y2="208.85" stroke="#e2e2e2" stroke-width="0.5"/>
<line x1="37.30" y1="219.30" x2="163.90" y2="219.30" stroke="#e2e2e2" stroke-width="0.5"/>
<line x1="37.30" y1="229.75" x2="163.90" y2="229.75" stroke="#e2e2e2" stroke-width="0.5"/>
<line x1="37.30" y1="240.20" x2="163.90" y2="240.20" stroke="#e2e2e2" stroke-width="0.5"/>
<line x1="37.30" y1="250.65" x2="163.90" y2="250.65" stroke="#e2e2e2" stroke-width="0.5"/>
<line x1="37.30" y1="261.10" x2="163.90" y2="261.10" stroke="#e2e2e2" stroke-width="0.5"/>
<line x1="37.30" y1="271.55" x2="163.90" y2="271.55" stroke="#e2e2e2" stroke-width="0.5"/>
<line x1="37.30" y1="282.00" x2="163.90" y2="282.00" stroke="#e2e2e2" stroke-width="0.5"/>
<line x1="37.30" y1="292.45" x2="163.90" y2="292.45" stroke="#e2e2e2" stroke-width="0.5"/>
<line x1="37.30" y1="302.90" x2="163.90" y2="302.90" stroke="#e2e2e2" stroke-width="0.5"/>
<line x1="37.30" y1="313.35" x2="163.90" y2="313.35" stroke="#e2e2e2" stroke-width="0.5"/>
<line x1="37.30" y1="323.80" x2="163.90" y2="323.80" stroke="#e2e2e2" stroke-width="0.5"/>
<line x1="37.30" y1="334.25" x2="163.90" y2="334.25" stroke="#e2e2e2" stroke-width="0.5"/>
<line x1="37.30" y1="344.70" x2="163.90" y2="344.70" stroke="#e2e2e2" stroke-width="0.5"/>
<line x1="37.30" y1="177.50" x2="37.30" y2="344.70" stroke="#e2e2e2" stroke-width="0.5"/>
<line x1="47.85" y1="177.50" x2="47.85" y2="344.70" stroke="#e2e2e2" stroke-width="0.5"/>
<line x1="58.40" y1="177.50" x2="58.40" y2="344.70" stroke="#e2e2e2" stroke-width="0.5"/>
<line x1="68.95" y1="177.50" x2="68.95" y2="344.70" stroke="#e2e2e2" stroke-width="0.5"/>
<line x1="79.50" y1="177.50" x2="79.50" y2="344.70" stroke="#e2e2e2" stroke-width="0.5"/>
<line x1="90.05" y1="177.50" x2="90.05" y2="344.70" stroke="#e2e2e2" stroke-width="0.5"/>
<line x1="100.60" y1="177.50" x2="100.60" y2="344.70" stroke="#e2e2e2" stroke-width="0.5"/>
<line x1="111.15" y1="177.50" x2="111.15" y2="344.70" stroke="#e2e2e2" stroke-width="0.5"/>
<line x1="121.70" y1="177.50" x2="121.70" y2="344.70" stroke="#e2e2e2" stroke-width="0.5"/>
<line x1="132.25" y1="177.50" x2="132.25" y2="344.70" stroke="#e2e2e2" stroke-width="0.5"/>
<line x1="142.80" y1="177.50" x2="142.80" y2="344.70" stroke="#e2e2e2" stroke-width="0.5"/>
<line x1="153.35" y1="177.50" x2="153.35" y2="344.70" stroke="#e2e2e2" stroke-width="0.5"/>
<line x1="163.90" y1="177.50" x2="163.90" y2="344.70" stroke="#e2e2e2" stroke-width="0.5"/>
<text x="42.57" y="184.32" font-size="4.6" fill="#1a1a1a" text-anchor="middle">3</text>
<text x="53.12" y="184.32" font-size="4.6" fill="#1a1a1a" text-anchor="middle">4</text>
<text x="63.67" y="184.32" font-size="4.6" fill="#1a1a1a" text-anchor="middle">0</text>
<text x="74.23" y="184.32" font-size="4.6" fill="#1a1a1a" text-anchor="middle">61</text>
<text x="84.78" y="184.32" font-size="4.6" fill="#1a1a1a" text-anchor="middle">820</text>
<text x="95.33" y="184.32" font-size="4.6" fill="#1a1a1a" text-anchor="middle">0</text>
<text x="105.88" y="184.32" font-size="4.6" fill="#1a1a1a" text-anchor="middle">3</text>
<text x="116.43" y="184.32" font-size="4.6" fill="#1a1a1a" text-anchor="middle">0</text>
<text x="126.98" y="184.32" font-size="4.6" fill="#1a1a1a" text-anchor="middle">0</text>
<text x="137.53" y="184.32" font-size="4.6" fill="#1a1a1a" text-anchor="middle">287</text>
<text x="148.08" y="184.32" font-size="4.6" fill="#1a1a1a" text-anchor="middle">0</text>
<text x="158.63" y="184.32" font-size="4.6" fill="#1a1a1a" text-anchor="middle">0</text>
<text x="42.57" y="194.77" font-size="4.6" fill="#1a1a1a" text-anchor="middle">3</text>
<text x="53.12" y="194.77" font-size="4.6" fill="#1a1a1a" text-anchor="middle">0</text>
<text x="63.67" y="194.77" font-size="4.6" fill="#1a1a1a" text-anchor="middle">12</text>
<text x="74.23" y="194.77" font-size="4.6" fill="#1a1a1a" text-anchor="middle">701</text>
<text x="84.78" y="194.77" font-size="4.6" fill="#1a1a1a" text-anchor="middle">0</text>
<text x="95.33" y="194.77" font-size="4.6" fill="#1a1a1a" text-anchor="middle">721</text>
<text x="105.88" y="194.77" font-size="4.6" fill="#1a1a1a" text-anchor="middle">288</text>
<text x="116.43" y="194.77" font-size="4.6" fill="#1a1a1a" text-anchor="middle">49</text>
<text x="126.98" y="194.77" font-size="4.6" fill="#1a1a1a" text-anchor="middle">176</text>
<text x="137.53" y="194.77" font-size="4.6" fill="#330010" text-anchor="middle">2250</text>
<text x="148.08" y="194.77" font-size="4.6" fill="#330010" text-anchor="middle">1790</text>
<text x="158.63" y="194.77" font-size="4.6" fill="#330010" text-anchor="middle">947</text>
<text x="42.57" y="205.22" font-size="4.6" fill="#1a1a1a" text-anchor="middle">0</text>
<text x="53.12" y="205.22" font-size="4.6" fill="#1a1a1a" text-anchor="middle">0</text>
<text x="63.67" y="205.22" font-size="4.6" fill="#1a1a1a" text-anchor="middle">0</text>
<text x="74.23" y="205.22" font-size="4.6" fill="#1a1a1a" text-anchor="middle">0</text>
<text x="84.78" y="205.22" font-size="4.6" fill="#1a1a1a" text-anchor="middle">0</text>
<text x="95.33" y="205.22" font-size="4.6" fill="#1a1a1a" text-anchor="middle">0</text>
<text x="105.88" y="205.22" font-size="4.6" fill="#1a1a1a" text-anchor="middle">5</text>
<text x="116.43" y="205.22" font-size="4.6" fill="#1a1a1a" text-anchor="middle">0</text>
<text x="126.98" y="205.22" font-size="4.6" fill="#1a1a1a" text-anchor="middle">0</text>
<text x="137.53" y="205.22" font-size="4.6" fill="#1a1a1a" text-anchor="middle">49</text>
<text x="148.08" y="205.22" font-size="4.6" fill="#1a1a1a" text-anchor="middle">0</text>
<text x="158.63" y="205.22" font-size="4.6" fill="#1a1a1a" text-anchor="middle">0</text>
<text x="42.57" y="215.67" font-size="4.6" fill="#1a1a1a" text-anchor="middle">0</text>
<text x="53.12" y="215.67" font-size="4.6" fill="#1a1a1a" text-anchor="middle">0</text>
<text x="63.67" y="215.67" font-size="4.6" fill="#1a1a1a" text-anchor="middle">0</text>
<text x="74.23" y="215.67" font-size="4.6" fill="#1a1a1a" text-anchor="middle">0</text>
<text x="84.78" y="215.67" font-size="4.6" fill="#1a1a1a" text-anchor="middle">0</text>
<text x="95.33" y="215.67" font-size="4.6" fill="#1a1a1a" text-anchor="middle">0</text>
<text x="105.88" y="215.67" font-size="4.6" fill="#1a1a1a" text-anchor="middle">0</text>
<text x="116.43" y="215.67" font-size="4.6" fill="#1a1a1a" text-anchor="middle">0</text>
<text x="126.98" y="215.67" font-size="4.6" fill="#1a1a1a" text-anchor="middle">9</text>
<text x="137.53" y="215.67" font-size="4.6" fill="#1a1a1a" text-anchor="middle">0</text>
<text x="148.08" y="215.67" font-size="4.6" fill="#1a1a1a" text-anchor="middle">0</text>
<text x="158.63" y="215.67" font-size="4.6" fill="#1a1a1a" text-anchor="middle">323</text>
<text x="42.57" y="226.12" font-size="4.6" fill="#1a1a1a" text-anchor="middle">0</text>
<text x="53.12" y="226.12" font-size="4.6" fill="#1a1a1a" text-anchor="middle">0</text>
<text x="63.67" y="226.12" font-size="4.6" fill="#1a1a1a" text-anchor="middle">0</text>
<text x="74.23" y="226.12" font-size="4.6" fill="#1a1a1a" text-anchor="middle">0</text>
<text x="84.78" y="226.12" font-size="4.6" fill="#1a1a1a" text-anchor="middle">0</text>
<text x="95.33" y="226.12" font-size="4.6" fill="#1a1a1a" text-anchor="middle">0</text>
<text x="105.88" y="226.12" font-size="4.6" fill="#1a1a1a" text-anchor="middle">14</text>
<text x="116.43" y="226.12" font-size="4.6" fill="#1a1a1a" text-anchor="middle">0</text>
<text x="126.98" y="226.12" font-size="4.6" fill="#1a1a1a" text-anchor="middle">0</text>
<text x="137.53" y="226.12" font-size="4.6" fill="#1a1a1a" text-anchor="middle">1356</text>
<text x="148.08" y="226.12" font-size="4.6" fill="#1a1a1a" text-anchor="middle">0</text>
<text x="158.63" y="226.12" font-size="4.6" fill="#1a1a1a" text-anchor="middle">0</text>
<text x="42.57" y="236.57" font-size="4.6" fill="#1a1a1a" text-anchor="middle">0</text>
<text x="53.12" y="236.57" font-size="4.6" fill="#1a1a1a" text-anchor="middle">32</text>
<text x="63.67" y="236.57" font-size="4.6" fill="#1a1a1a" text-anchor="middle">0</text>
<text x="74.23" y="236.57" font-size="4.6" fill="#1a1a1a" text-anchor="middle">0</text>
<text x="84.78" y="236.57" font-size="4.6" fill="#1a1a1a" text-anchor="middle">756</text>
<text x="95.33" y="236.57" font-size="4.6" fill="#1a1a1a" text-anchor="middle">0</text>
<text x="105.88" y="236.57" font-size="4.6" fill="#1a1a1a" text-anchor="middle">86</text>
<text x="116.43" y="236.57" font-size="4.6" fill="#1a1a1a" text-anchor="middle">0</text>
<text x="126.98" y="236.57" font-size="4.6" fill="#1a1a1a" text-anchor="middle">8</text>
<text x="137.53" y="236.57" font-size="4.6" fill="#1a1a1a" text-anchor="middle">1626</text>
<text x="148.08" y="236.57" font-size="4.6" fill="#1a1a1a" text-anchor="middle">0</text>
<text x="158.63" y="236.57" font-size="4.6" fill="#1a1a1a" text-anchor="middle">309</text>
<text x="42.57" y="247.02" font-size="4.6" fill="#1a1a1a" text-anchor="middle">0</text>
<text x="53.12" y="247.02" font-size="4.6" fill="#1a1a1a" text-anchor="middle">0</text>
<text x="63.67" y="247.02" font-size="4.6" fill="#1a1a1a" text-anchor="middle">0</text>
<text x="74.23" y="247.02" font-size="4.6" fill="#1a1a1a" text-anchor="middle">0</text>
<text x="84.78" y="247.02" font-size="4.6" fill="#1a1a1a" text-anchor="middle">0</text>
<text x="95.33" y="247.02" font-size="4.6" fill="#1a1a1a" text-anchor="middle">0</text>
<text x="105.88" y="247.02" font-size="4.6" fill="#1a1a1a" text-anchor="middle">0</text>
<text x="116.43" y="247.02" font-size="4.6" fill="#1a1a1a" text-anchor="middle">0</text>
<text x="126.98" y="247.02" font-size="4.6" fill="#1a1a1a" text-anchor="middle">0</text>
<text x="137.53" y="247.02" font-size="4.6" fill="#1a1a1a" text-anchor="middle">0</text>
<text x="148.08" y="247.02" font-size="4.6" fill="#1a1a1a" text-anchor="middle">0</text>
<text x="158.63" y="247.02" font-size="4.6" fill="#1a1a1a" text-anchor="middle">0</text>
<text x="42.57" y="257.47" font-size="4.6" fill="#1a1a1a" text-anchor="middle">0</text>
<text x="53.12" y="257.47" font-size="4.6" fill="#1a1a1a" text-anchor="middle">0</text>
<text x="63.67" y="257.47" font-size="4.6" fill="#1a1a1a" text-anchor="middle">0</text>
<text x="74.23" y="257.47" font-size="4.6" fill="#1a1a1a" text-anchor="middle">0</text>
<text x="84.78" y="257.47" font-size="4.6" fill="#1a1a1a" text-anchor="middle">0</text>
<text x="95.33" y="257.47" font-size="4.6" fill="#1a1a1a" text-anchor="middle">0</text>
<text x="105.88" y="257.47" font-size="4.6" fill="#1a1a1a" text-anchor="middle">5</text>
<text x="116.43" y="257.47" font-size="4.6" fill="#1a1a1a" text-anchor="middle">0</text>
<text x="126.98" y="257.47" font-size="4.6" fill="#1a1a1a" text-anchor="middle">8</text>
<text x="137.53" y="257.47" font-size="4.6" fill="#1a1a1a" text-anchor="middle">79</text>
<text x="148.08" y="257.47" font-size="4.6" fill="#1a1a1a" text-anchor="middle">0</text>
<text x="158.63" y="257.47" font-size="4.6" fill="#1a1a1a" text-anchor="middle">309</text>
<text x="42.57" y="267.93" font-size="4.6" fill="#1a1a1a" text-anchor="middle">8</text>
<text x="53.12" y="267.93" font-size="4.6" fill="#1a1a1a" text-anchor="middle">265</text>
<text x="63.67" y="267.93" font-size="4.6" fill="#1a1a1a" text-anchor="middle">0</text>
<text x="74.23" y="267.93" font-size="4.6" fill="#330010" text-anchor="middle">292</text>
<text x="84.78" y="267.93" font-size="4.6" fill="#1a1a1a" text-anchor="middle">3045</text>
<text x="95.33" y="267.93" font-size="4.6" fill="#1a1a1a" text-anchor="middle">0</text>
<text x="105.88" y="267.93" font-size="4.6" fill="#1a1a1a" text-anchor="middle">2</text>
<text x="116.43" y="267.93" font-size="4.6" fill="#1a1a1a" text-anchor="middle">122</text>
<text x="126.98" y="267.93" font-size="4.6" fill="#1a1a1a" text-anchor="middle">0</text>
<text x="137.53" y="267.93" font-size="4.6" fill="#1a1a1a" text-anchor="middle">242</text>
<text x="148.08" y="267.93" font-size="4.6" fill="#1a1a1a" text-anchor="middle">651</text>
<text x="158.63" y="267.93" font-size="4.6" fill="#1a1a1a" text-anchor="middle">0</text>
<text x="42.57" y="278.38" font-size="4.6" fill="#1a1a1a" text-anchor="middle">0</text>
<text x="53.12" y="278.38" font-size="4.6" fill="#1a1a1a" text-anchor="middle">0</text>
<text x="63.67" y="278.38" font-size="4.6" fill="#1a1a1a" text-anchor="middle">0</text>
<text x="74.23" y="278.38" font-size="4.6" fill="#1a1a1a" text-anchor="middle">0</text>
<text x="84.78" y="278.38" font-size="4.6" fill="#1a1a1a" text-anchor="middle">0</text>
<text x="95.33" y="278.38" font-size="4.6" fill="#1a1a1a" text-anchor="middle">0</text>
<text x="105.88" y="278.38" font-size="4.6" fill="#1a1a1a" text-anchor="middle">360</text>
<text x="116.43" y="278.38" font-size="4.6" fill="#1a1a1a" text-anchor="middle">0</text>
<text x="126.98" y="278.38" font-size="4.6" fill="#1a1a1a" text-anchor="middle">0</text>
<text x="137.53" y="278.38" font-size="4.6" fill="#1a1a1a" text-anchor="middle">2626</text>
<text x="148.08" y="278.38" font-size="4.6" fill="#1a1a1a" text-anchor="middle">0</text>
<text x="158.63" y="278.38" font-size="4.6" fill="#1a1a1a" text-anchor="middle">0</text>
<text x="42.57" y="288.83" font-size="4.6" fill="#1a1a1a" text-anchor="middle">0</text>
<text x="53.12" y="288.83" font-size="4.6" fill="#1a1a1a" text-anchor="middle">0</text>
<text x="63.67" y="288.83" font-size="4.6" fill="#1a1a1a" text-anchor="middle">0</text>
<text x="74.23" y="288.83" font-size="4.6" fill="#1a1a1a" text-anchor="middle">0</text>
<text x="84.78" y="288.83" font-size="4.6" fill="#1a1a1a" text-anchor="middle">0</text>
<text x="95.33" y="288.83" font-size="4.6" fill="#1a1a1a" text-anchor="middle">0</text>
<text x="105.88" y="288.83" font-size="4.6" fill="#1a1a1a" text-anchor="middle">0</text>
<text x="116.43" y="288.83" font-size="4.6" fill="#1a1a1a" text-anchor="middle">0</text>
<text x="126.98" y="288.83" font-size="4.6" fill="#1a1a1a" text-anchor="middle">0</text>
<text x="137.53" y="288.83" font-size="4.6" fill="#1a1a1a" text-anchor="middle">0</text>
<text x="148.08" y="288.83" font-size="4.6" fill="#1a1a1a" text-anchor="middle">0</text>
<text x="158.63" y="288.83" font-size="4.6" fill="#1a1a1a" text-anchor="middle">0</text>
<text x="42.57" y="299.28" font-size="4.6" fill="#1a1a1a" text-anchor="middle">0</text>
<text x="53.12" y="299.28" font-size="4.6" fill="#1a1a1a" text-anchor="middle">0</text>
<text x="63.67" y="299.28" font-size="4.6" fill="#1a1a1a" text-anchor="middle">0</text>
<text x="74.23" y="299.28" font-size="4.6" fill="#1a1a1a" text-anchor="middle">0</text>
<text x="84.78" y="299.28" font-size="4.6" fill="#1a1a1a" text-anchor="middle">0</text>
<text x="95.33" y="299.28" font-size="4.6" fill="#1a1a1a" text-anchor="middle">0</text>
<text x="105.88" y="299.28" font-size="4.6" fill="#1a1a1a" text-anchor="middle">3</text>
<text x="116.43" y="299.28" font-size="4.6" fill="#1a1a1a" text-anchor="middle">0</text>
<text x="126.98" y="299.28" font-size="4.6" fill="#1a1a1a" text-anchor="middle">0</text>
<text x="137.53" y="299.28" font-size="4.6" fill="#1a1a1a" text-anchor="middle">738</text>
<text x="148.08" y="299.28" font-size="4.6" fill="#1a1a1a" text-anchor="middle">0</text>
<text x="158.63" y="299.28" font-size="4.6" fill="#1a1a1a" text-anchor="middle">0</text>
<text x="42.57" y="309.73" font-size="4.6" fill="#1a1a1a" text-anchor="middle">0</text>
<text x="53.12" y="309.73" font-size="4.6" fill="#1a1a1a" text-anchor="middle">0</text>
<text x="63.67" y="309.73" font-size="4.6" fill="#1a1a1a" text-anchor="middle">0</text>
<text x="74.23" y="309.73" font-size="4.6" fill="#1a1a1a" text-anchor="middle">0</text>
<text x="84.78" y="309.73" font-size="4.6" fill="#1a1a1a" text-anchor="middle">0</text>
<text x="95.33" y="309.73" font-size="4.6" fill="#1a1a1a" text-anchor="middle">0</text>
<text x="105.88" y="309.73" font-size="4.6" fill="#1a1a1a" text-anchor="middle">0</text>
<text x="116.43" y="309.73" font-size="4.6" fill="#1a1a1a" text-anchor="middle">79</text>
<text x="126.98" y="309.73" font-size="4.6" fill="#1a1a1a" text-anchor="middle">0</text>
<text x="137.53" y="309.73" font-size="4.6" fill="#1a1a1a" text-anchor="middle">0</text>
<text x="148.08" y="309.73" font-size="4.6" fill="#1a1a1a" text-anchor="middle">1502</text>
<text x="158.63" y="309.73" font-size="4.6" fill="#1a1a1a" text-anchor="middle">0</text>
<text x="42.57" y="320.18" font-size="4.6" fill="#1a1a1a" text-anchor="middle">0</text>
<text x="53.12" y="320.18" font-size="4.6" fill="#1a1a1a" text-anchor="middle">0</text>
<text x="63.67" y="320.18" font-size="4.6" fill="#1a1a1a" text-anchor="middle">0</text>
<text x="74.23" y="320.18" font-size="4.6" fill="#1a1a1a" text-anchor="middle">0</text>
<text x="84.78" y="320.18" font-size="4.6" fill="#1a1a1a" text-anchor="middle">0</text>
<text x="95.33" y="320.18" font-size="4.6" fill="#1a1a1a" text-anchor="middle">0</text>
<text x="105.88" y="320.18" font-size="4.6" fill="#1a1a1a" text-anchor="middle">26</text>
<text x="116.43" y="320.18" font-size="4.6" fill="#1a1a1a" text-anchor="middle">0</text>
<text x="126.98" y="320.18" font-size="4.6" fill="#1a1a1a" text-anchor="middle">0</text>
<text x="137.53" y="320.18" font-size="4.6" fill="#1a1a1a" text-anchor="middle">1324</text>
<text x="148.08" y="320.18" font-size="4.6" fill="#1a1a1a" text-anchor="middle">0</text>
<text x="158.63" y="320.18" font-size="4.6" fill="#1a1a1a" text-anchor="middle">0</text>
<text x="42.57" y="330.62" font-size="4.6" fill="#1a1a1a" text-anchor="middle">0</text>
<text x="53.12" y="330.62" font-size="4.6" fill="#1a1a1a" text-anchor="middle">0</text>
<text x="63.67" y="330.62" font-size="4.6" fill="#1a1a1a" text-anchor="middle">0</text>
<text x="74.23" y="330.62" font-size="4.6" fill="#1a1a1a" text-anchor="middle">0</text>
<text x="84.78" y="330.62" font-size="4.6" fill="#1a1a1a" text-anchor="middle">0</text>
<text x="95.33" y="330.62" font-size="4.6" fill="#1a1a1a" text-anchor="middle">0</text>
<text x="105.88" y="330.62" font-size="4.6" fill="#1a1a1a" text-anchor="middle">0</text>
<text x="116.43" y="330.62" font-size="4.6" fill="#1a1a1a" text-anchor="middle">0</text>
<text x="126.98" y="330.62" font-size="4.6" fill="#1a1a1a" text-anchor="middle">0</text>
<text x="137.53" y="330.62" font-size="4.6" fill="#1a1a1a" text-anchor="middle">0</text>
<text x="148.08" y="330.62" font-size="4.6" fill="#1a1a1a" text-anchor="middle">0</text>
<text x="158.63" y="330.62" font-size="4.6" fill="#1a1a1a" text-anchor="middle">0</text>
<text x="42.57" y="341.08" font-size="4.6" fill="#1a1a1a" text-anchor="middle">0</text>
<text x="53.12" y="341.08" font-size="4.6" fill="#1a1a1a" text-anchor="middle">0</text>
<text x="63.67" y="341.08" font-size="4.6" fill="#1a1a1a" text-anchor="middle">0</text>
<text x="74.23" y="341.08" font-size="4.6" fill="#1a1a1a" text-anchor="middle">0</text>
<text x="84.78" y="341.08" font-size="4.6" fill="#1a1a1a" text-anchor="middle">0</text>
<text x="95.33" y="341.08" font-size="4.6" fill="#1a1a1a" text-anchor="middle">0</text>
<text x="105.88" y="341.08" font-size="4.6" fill="#1a1a1a" text-anchor="middle">0</text>
<text x="116.43" y="341.08" font-size="4.6" fill="#1a1a1a" text-anchor="middle">2</text>
<text x="126.98" y="341.08" font-size="4.6" fill="#1a1a1a" text-anchor="middle">0</text>
<text x="137.53" y="341.08" font-size="4.6" fill="#1a1a1a" text-anchor="middle">0</text>
<text x="148.08" y="341.08" font-size="4.6" fill="#1a1a1a" text-anchor="middle">2</text>
<text x="158.63" y="341.08" font-size="4.6" fill="#1a1a1a" text-anchor="middle">0</text>
<line x1="68.95" y1="177.50" x2="68.95" y2="344.70" stroke="#777777" stroke-width="1.1"/>
<line x1="132.25" y1="177.50" x2="132.25" y2="344.70" stroke="#777777" stroke-width="1.1"/>
<line x1="100.60" y1="177.50" x2="100.60" y2="344.70" stroke="#222222" stroke-width="1.3"/>
<line x1="37.30" y1="219.30" x2="163.90" y2="219.30" stroke="#333333" stroke-width="1.3"/>
<line x1="37.30" y1="261.10" x2="163.90" y2="261.10" stroke="#606060" stroke-width="1.6"/>
<line x1="37.30" y1="302.90" x2="163.90" y2="302.90" stroke="#888888" stroke-width="1.6"/>
<text x="36.00" y="184.32" font-size="4.6" text-anchor="end">5'Flag</text>
<text x="36.00" y="194.77" font-size="4.6" text-anchor="end">GB</text>
<text x="36.00" y="205.22" font-size="4.6" text-anchor="end">3'UTR</text>
<text x="36.00" y="215.67" font-size="4.6" text-anchor="end">Fantom</text>
<text x="36.00" y="226.12" font-size="4.6" text-anchor="end">5'Flag</text>
<text x="36.00" y="236.57" font-size="4.6" text-anchor="end">GB</text>
<text x="36.00" y="247.02" font-size="4.6" text-anchor="end">3'UTR</text>
<text x="36.00" y="257.47" font-size="4.6" text-anchor="end">Fantom</text>
<text x="36.00" y="267.93" font-size="4.6" text-anchor="end">5'Flag</text>
<text x="36.00" y="278.38" font-size="4.6" text-anchor="end">GB</text>
<text x="36.00" y="288.83" font-size="4.6" text-anchor="end">3'UTR</text>
<text x="36.00" y="299.28" font-size="4.6" text-anchor="end">Fantom</text>
<text x="36.00" y="309.73" font-size="4.6" text-anchor="end">5'Flag</text>
<text x="36.00" y="320.18" font-size="4.6" text-anchor="end">GB</text>
<text x="36.00" y="330.62" font-size="4.6" text-anchor="end">3'UTR</text>
<text x="36.00" y="341.08" font-size="4.6" text-anchor="end">Fantom</text>
<line x1="17.40" y1="180.10" x2="17.40" y2="217.70" stroke="#909090" stroke-width="0.9"/>
<text x="11.80" y="199.10" font-size="5.4" text-anchor="middle" transform="rotate(-90 11.80 199.10)">Hyper</text>
<line x1="17.40" y1="221.90" x2="17.40" y2="259.50" stroke="#909090" stroke-width="0.9"/>
<text x="11.80" y="240.90" font-size="5.4" text-anchor="middle" transform="rotate(-90 11.80 240.90)">Hypo</text>
<line x1="17.40" y1="263.70" x2="17.40" y2="301.30" stroke="#909090" stroke-width="0.9"/>
<text x="11.80" y="282.70" font-size="5.4" text-anchor="middle" transform="rotate(-90 11.80 282.70)">Hyper</text>
<line x1="17.40" y1="305.50" x2="17.40" y2="343.10" stroke="#909090" stroke-width="0.9"/>
<text x="11.80" y="324.50" font-size="5.4" text-anchor="middle" transform="rotate(-90 11.80 324.50)">Hypo</text>
<text x="44.97" y="176.00" font-size="4.5" transform="rotate(-90 44.97 176.00)">UD5</text>
<text x="55.52" y="176.00" font-size="4.5" transform="rotate(-90 55.52 176.00)">UD10</text>
<text x="66.08" y="176.00" font-size="4.5" transform="rotate(-90 66.08 176.00)">AML2</text>
<text x="76.63" y="176.00" font-size="4.5" transform="rotate(-90 76.63 176.00)">UD5</text>
<text x="87.18" y="176.00" font-size="4.5" transform="rotate(-90 87.18 176.00)">UD10</text>
<text x="97.73" y="176.00" font-size="4.5" transform="rotate(-90 97.73 176.00)">AML2</text>
<text x="108.28" y="176.00" font-size="4.5" transform="rotate(-90 108.28 176.00)">UD5</text>
<text x="118.83" y="176.00" font-size="4.5" transform="rotate(-90 118.83 176.00)">UD10</text>
<text x="129.38" y="176.00" font-size="4.5" transform="rotate(-90 129.38 176.00)">AML2</text>
<text x="139.93" y="176.00" font-size="4.5" transform="rotate(-90 139.93 176.00)">UD5</text>
<text x="150.48" y="176.00" font-size="4.5" transform="rotate(-90 150.48 176.00)">UD10</text>
<text x="161.03" y="176.00" font-size="4.5" transform="rotate(-90 161.03 176.00)">AML2</text>
<text x="53.42" y="157.50" font-size="4.6" text-anchor="middle">FL-TGs</text>
<line x1="41.80" y1="159.10" x2="64.45" y2="159.10" stroke="#a0a0a0" stroke-width="0.9"/>
<text x="85.08" y="157.50" font-size="4.6" text-anchor="middle">SL-TGs</text>
<line x1="73.45" y1="159.10" x2="96.10" y2="159.10" stroke="#a0a0a0" stroke-width="0.9"/>
<text x="116.72" y="157.50" font-size="4.6" text-anchor="middle">FL-TGs</text>
<line x1="105.10" y1="159.10" x2="127.75" y2="159.10" stroke="#a0a0a0" stroke-width="0.9"/>
<text x="148.38" y="157.50" font-size="4.6" text-anchor="middle">SL-TGs</text>
<line x1="136.75" y1="159.10" x2="159.40" y2="159.10" stroke="#a0a0a0" stroke-width="0.9"/>
<text x="26.60" y="171.50" font-size="14.2" stroke="#000" stroke-width="0.35">c</text>
<line x1="170.30" y1="178.00" x2="170.30" y2="258.20" stroke="#888888" stroke-width="0.9"/>
<line x1="170.30" y1="262.50" x2="170.30" y2="341.70" stroke="#888888" stroke-width="0.9"/>
<text x="179.30" y="212.80" font-size="5.4" text-anchor="middle" transform="rotate(-90 179.30 212.80)">Under</text>
<text x="179.30" y="297.50" font-size="5.4" text-anchor="middle" transform="rotate(-90 179.30 297.50)">Over</text>
<rect x="180.90" y="224.50" width="4.40" height="62.20" fill="url(#gc)" stroke="#c0c0c0" stroke-width="0.3"/>
<line x1="185.30" y1="225.00" x2="186.60" y2="225.00" stroke="#777" stroke-width="0.4"/>
<text x="187.80" y="226.50" font-size="4.5" fill="#222" stroke="#222" stroke-width="0.08">1</text>
<line x1="185.30" y1="240.50" x2="186.60" y2="240.50" stroke="#777" stroke-width="0.4"/>
<text x="187.80" y="242.00" font-size="4.5" fill="#222" stroke="#222" stroke-width="0.08">0.75</text>
<line x1="185.30" y1="255.90" x2="186.60" y2="255.90" stroke="#777" stroke-width="0.4"/>
<text x="187.80" y="257.40" font-size="4.5" fill="#222" stroke="#222" stroke-width="0.08">0.5</text>
<line x1="185.30" y1="271.30" x2="186.60" y2="271.30" stroke="#777" stroke-width="0.4"/>
<text x="187.80" y="272.80" font-size="4.5" fill="#222" stroke="#222" stroke-width="0.08">0.25</text>
<line x1="185.30" y1="286.70" x2="186.60" y2="286.70" stroke="#777" stroke-width="0.4"/>
<text x="187.80" y="288.20" font-size="4.5" fill="#222" stroke="#222" stroke-width="0.08">0</text>
<line x1="39.20" y1="351.30" x2="97.50" y2="351.30" stroke="#a8a8a8" stroke-width="0.9"/>
<line x1="104.00" y1="351.30" x2="161.90" y2="351.30" stroke="#a8a8a8" stroke-width="0.9"/>
<text x="68.30" y="361.10" font-size="7.2" text-anchor="middle" stroke="#000" stroke-width="0.15">CGI</text>
<text x="133.00" y="361.10" font-size="7.2" text-anchor="middle" stroke="#000" stroke-width="0.15">NoCGI</text>
<rect x="356.60" y="202.60" width="190.00" height="12.80" fill="#fff" stroke="#222" stroke-width="1.0"/>
<circle cx="368.6" cy="209.8" r="3.20" fill="#f5ee00"/>
<text x="376.00" y="211.20" font-size="4.0" fill="#333">DM-DE-TF</text>
<circle cx="401.9" cy="209.8" r="1.40" fill="#fff" stroke="#888" stroke-width="0.4"/>
<text x="408.00" y="211.20" font-size="4.0" fill="#333">FL-DE-TF</text>
<circle cx="436.0" cy="209.8" r="0.50" fill="#555"/>
<text x="440.70" y="211.20" font-size="4.0" fill="#333">FL-DE-TG</text>
<rect x="465.20" y="206.70" width="5.40" height="5.10" fill="#ee1111"/>
<text x="473.70" y="211.20" font-size="4.1" fill="#333" letter-spacing="-0.22">Over-expressed</text>
<rect x="504.30" y="206.70" width="5.40" height="5.10" fill="#44dd33"/>
<text x="513.90" y="211.20" font-size="4.1" fill="#333" letter-spacing="-0.22">Under-expressed</text>
<line x1="324.40" y1="233.70" x2="302.60" y2="229.40" stroke="#d8d8d8" stroke-width="0.3"/>
<line x1="324.40" y1="233.70" x2="304.20" y2="227.60" stroke="#d8d8d8" stroke-width="0.3"/>
<line x1="324.40" y1="233.70" x2="309.80" y2="226.60" stroke="#d8d8d8" stroke-width="0.3"/>
<line x1="324.40" y1="233.70" x2="310.80" y2="229.20" stroke="#d8d8d8" stroke-width="0.3"/>
<line x1="324.40" y1="233.70" x2="314.40" y2="225.60" stroke="#d8d8d8" stroke-width="0.3"/>
<line x1="324.40" y1="233.70" x2="319.50" y2="227.30" stroke="#d8d8d8" stroke-width="0.3"/>
<line x1="324.40" y1="233.70" x2="319.80" y2="228.90" stroke="#d8d8d8" stroke-width="0.3"/>
<line x1="324.40" y1="233.70" x2="327.50" y2="225.00" stroke="#d8d8d8" stroke-width="0.3"/>
<line x1="324.40" y1="233.70" x2="327.30" y2="227.80" stroke="#d8d8d8" stroke-width="0.3"/>
<line x1="324.40" y1="233.70" x2="332.50" y2="227.00" stroke="#d8d8d8" stroke-width="0.3"/>
<line x1="324.40" y1="233.70" x2="335.00" y2="225.60" stroke="#d8d8d8" stroke-width="0.3"/>
<line x1="324.40" y1="233.70" x2="335.30" y2="229.30" stroke="#d8d8d8" stroke-width="0.3"/>
<line x1="324.40" y1="233.70" x2="340.30" y2="226.20" stroke="#d8d8d8" stroke-width="0.3"/>
<line x1="324.40" y1="233.70" x2="341.90" y2="227.60" stroke="#d8d8d8" stroke-width="0.3"/>
<line x1="324.40" y1="233.70" x2="344.00" y2="230.30" stroke="#d8d8d8" stroke-width="0.3"/>
<line x1="324.40" y1="233.70" x2="347.50" y2="227.80" stroke="#d8d8d8" stroke-width="0.3"/>
<line x1="324.40" y1="233.70" x2="350.50" y2="229.50" stroke="#d8d8d8" stroke-width="0.3"/>
<line x1="324.40" y1="233.70" x2="312.40" y2="245.50" stroke="#d8d8d8" stroke-width="0.4"/>
<line x1="312.40" y1="245.50" x2="301.80" y2="259.90" stroke="#d8d8d8" stroke-width="0.4"/>
<line x1="324.40" y1="233.70" x2="318.20" y2="258.40" stroke="#d8d8d8" stroke-width="0.4"/>
<line x1="318.20" y1="258.40" x2="310.00" y2="285.30" stroke="#d8d8d8" stroke-width="0.4"/>
<line x1="301.80" y1="259.90" x2="310.00" y2="285.30" stroke="#d8d8d8" stroke-width="0.4"/>
<line x1="310.00" y1="285.30" x2="353.30" y2="303.10" stroke="#d8d8d8" stroke-width="0.4"/>
<line x1="310.00" y1="285.30" x2="302.60" y2="307.80" stroke="#d8d8d8" stroke-width="0.4"/>
<line x1="302.60" y1="307.80" x2="296.10" y2="328.20" stroke="#d8d8d8" stroke-width="0.4"/>
<line x1="296.10" y1="328.20" x2="291.00" y2="345.00" stroke="#d8d8d8" stroke-width="0.4"/>
<line x1="301.80" y1="259.90" x2="283.80" y2="252.40" stroke="#d8d8d8" stroke-width="0.3"/>
<line x1="301.80" y1="259.90" x2="287.80" y2="251.50" stroke="#d8d8d8" stroke-width="0.3"/>
<line x1="301.80" y1="259.90" x2="292.30" y2="251.20" stroke="#d8d8d8" stroke-width="0.3"/>
<line x1="301.80" y1="259.90" x2="296.80" y2="251.60" stroke="#d8d8d8" stroke-width="0.3"/>
<line x1="301.80" y1="259.90" x2="305.50" y2="251.80" stroke="#d8d8d8" stroke-width="0.3"/>
<ellipse cx="312.0" cy="285.3" rx="55" ry="5.5" fill="url(#gell)"/>
<line x1="310.0" y1="285.3" x2="295.9" y2="286.2" stroke="#e2e2e2" stroke-width="0.22"/>
<line x1="310.0" y1="285.3" x2="296.5" y2="285.0" stroke="#e2e2e2" stroke-width="0.22"/>
<line x1="310.0" y1="285.3" x2="297.9" y2="283.9" stroke="#e2e2e2" stroke-width="0.22"/>
<line x1="310.0" y1="285.3" x2="301.6" y2="283.2" stroke="#e2e2e2" stroke-width="0.22"/>
<line x1="310.0" y1="285.3" x2="306.3" y2="282.3" stroke="#e2e2e2" stroke-width="0.22"/>
<line x1="310.0" y1="285.3" x2="312.1" y2="282.0" stroke="#e2e2e2" stroke-width="0.22"/>
<line x1="310.0" y1="285.3" x2="315.7" y2="283.0" stroke="#e2e2e2" stroke-width="0.22"/>
<line x1="310.0" y1="285.3" x2="319.0" y2="283.7" stroke="#e2e2e2" stroke-width="0.22"/>
<line x1="310.0" y1="285.3" x2="320.9" y2="284.5" stroke="#e2e2e2" stroke-width="0.22"/>
<line x1="310.0" y1="285.3" x2="324.4" y2="285.6" stroke="#e2e2e2" stroke-width="0.22"/>
<line x1="310.0" y1="285.3" x2="321.6" y2="286.7" stroke="#e2e2e2" stroke-width="0.22"/>
<line x1="310.0" y1="285.3" x2="318.0" y2="287.4" stroke="#e2e2e2" stroke-width="0.22"/>
<line x1="310.0" y1="285.3" x2="313.6" y2="288.4" stroke="#e2e2e2" stroke-width="0.22"/>
<line x1="310.0" y1="285.3" x2="309.1" y2="288.0" stroke="#e2e2e2" stroke-width="0.22"/>
<line x1="310.0" y1="285.3" x2="303.9" y2="288.1" stroke="#e2e2e2" stroke-width="0.22"/>
<line x1="310.0" y1="285.3" x2="299.9" y2="287.0" stroke="#e2e2e2" stroke-width="0.22"/>
<line x1="310.0" y1="285.3" x2="319.7" y2="281.9" stroke="#e2e2e2" stroke-width="0.22"/>
<line x1="310.0" y1="285.3" x2="326.5" y2="282.4" stroke="#e2e2e2" stroke-width="0.22"/>
<line x1="310.0" y1="285.3" x2="328.1" y2="283.6" stroke="#e2e2e2" stroke-width="0.22"/>
<line x1="310.0" y1="285.3" x2="327.7" y2="285.0" stroke="#e2e2e2" stroke-width="0.22"/>
<line x1="310.0" y1="285.3" x2="329.3" y2="286.5" stroke="#e2e2e2" stroke-width="0.22"/>
<line x1="310.0" y1="285.3" x2="325.5" y2="287.2" stroke="#e2e2e2" stroke-width="0.22"/>
<line x1="310.0" y1="285.3" x2="321.7" y2="288.3" stroke="#e2e2e2" stroke-width="0.22"/>
<line x1="310.0" y1="285.3" x2="317.7" y2="288.9" stroke="#e2e2e2" stroke-width="0.22"/>
<line x1="310.0" y1="285.3" x2="313.4" y2="289.6" stroke="#e2e2e2" stroke-width="0.22"/>
<line x1="310.0" y1="285.3" x2="307.2" y2="289.3" stroke="#e2e2e2" stroke-width="0.22"/>
<line x1="310.0" y1="285.3" x2="300.1" y2="289.2" stroke="#e2e2e2" stroke-width="0.22"/>
<line x1="310.0" y1="285.3" x2="297.0" y2="288.1" stroke="#e2e2e2" stroke-width="0.22"/>
<line x1="310.0" y1="285.3" x2="292.5" y2="287.3" stroke="#e2e2e2" stroke-width="0.22"/>
<line x1="310.0" y1="285.3" x2="292.1" y2="286.0" stroke="#e2e2e2" stroke-width="0.22"/>
<line x1="310.0" y1="285.3" x2="291.5" y2="284.8" stroke="#e2e2e2" stroke-width="0.22"/>
<line x1="310.0" y1="285.3" x2="293.3" y2="284.0" stroke="#e2e2e2" stroke-width="0.22"/>
<line x1="310.0" y1="285.3" x2="294.6" y2="282.6" stroke="#e2e2e2" stroke-width="0.22"/>
<line x1="310.0" y1="285.3" x2="298.4" y2="281.5" stroke="#e2e2e2" stroke-width="0.22"/>
<line x1="310.0" y1="285.3" x2="304.4" y2="280.9" stroke="#e2e2e2" stroke-width="0.22"/>
<line x1="310.0" y1="285.3" x2="309.6" y2="280.7" stroke="#e2e2e2" stroke-width="0.22"/>
<line x1="310.0" y1="285.3" x2="315.1" y2="281.5" stroke="#e2e2e2" stroke-width="0.22"/>
<line x1="310.0" y1="285.3" x2="334.7" y2="283.0" stroke="#e2e2e2" stroke-width="0.22"/>
<line x1="310.0" y1="285.3" x2="334.7" y2="284.6" stroke="#e2e2e2" stroke-width="0.22"/>
<line x1="310.0" y1="285.3" x2="336.8" y2="285.7" stroke="#e2e2e2" stroke-width="0.22"/>
<line x1="310.0" y1="285.3" x2="332.7" y2="287.3" stroke="#e2e2e2" stroke-width="0.22"/>
<line x1="310.0" y1="285.3" x2="330.2" y2="288.4" stroke="#e2e2e2" stroke-width="0.22"/>
<line x1="310.0" y1="285.3" x2="325.5" y2="289.3" stroke="#e2e2e2" stroke-width="0.22"/>
<line x1="310.0" y1="285.3" x2="322.4" y2="290.5" stroke="#e2e2e2" stroke-width="0.22"/>
<line x1="310.0" y1="285.3" x2="317.3" y2="291.0" stroke="#e2e2e2" stroke-width="0.22"/>
<line x1="310.0" y1="285.3" x2="311.5" y2="290.7" stroke="#e2e2e2" stroke-width="0.22"/>
<line x1="310.0" y1="285.3" x2="305.6" y2="290.5" stroke="#e2e2e2" stroke-width="0.22"/>
<line x1="310.0" y1="285.3" x2="299.0" y2="290.0" stroke="#e2e2e2" stroke-width="0.22"/>
<line x1="310.0" y1="285.3" x2="291.6" y2="289.7" stroke="#e2e2e2" stroke-width="0.22"/>
<line x1="310.0" y1="285.3" x2="288.9" y2="288.5" stroke="#e2e2e2" stroke-width="0.22"/>
<line x1="310.0" y1="285.3" x2="288.6" y2="287.4" stroke="#e2e2e2" stroke-width="0.22"/>
<line x1="310.0" y1="285.3" x2="283.3" y2="286.0" stroke="#e2e2e2" stroke-width="0.22"/>
<line x1="310.0" y1="285.3" x2="285.1" y2="284.6" stroke="#e2e2e2" stroke-width="0.22"/>
<line x1="310.0" y1="285.3" x2="284.5" y2="283.3" stroke="#e2e2e2" stroke-width="0.22"/>
<line x1="310.0" y1="285.3" x2="288.5" y2="282.1" stroke="#e2e2e2" stroke-width="0.22"/>
<line x1="310.0" y1="285.3" x2="293.0" y2="281.0" stroke="#e2e2e2" stroke-width="0.22"/>
<line x1="310.0" y1="285.3" x2="299.2" y2="280.4" stroke="#e2e2e2" stroke-width="0.22"/>
<line x1="310.0" y1="285.3" x2="304.4" y2="279.6" stroke="#e2e2e2" stroke-width="0.22"/>
<line x1="310.0" y1="285.3" x2="310.5" y2="279.4" stroke="#e2e2e2" stroke-width="0.22"/>
<line x1="310.0" y1="285.3" x2="315.9" y2="280.0" stroke="#e2e2e2" stroke-width="0.22"/>
<line x1="310.0" y1="285.3" x2="321.0" y2="280.6" stroke="#e2e2e2" stroke-width="0.22"/>
<line x1="310.0" y1="285.3" x2="328.3" y2="281.0" stroke="#e2e2e2" stroke-width="0.22"/>
<line x1="310.0" y1="285.3" x2="331.1" y2="281.9" stroke="#e2e2e2" stroke-width="0.22"/>
<line x1="310.0" y1="285.3" x2="282.0" y2="287.5" stroke="#e2e2e2" stroke-width="0.22"/>
<line x1="310.0" y1="285.3" x2="279.2" y2="286.8" stroke="#e2e2e2" stroke-width="0.22"/>
<line x1="310.0" y1="285.3" x2="278.1" y2="285.3" stroke="#e2e2e2" stroke-width="0.22"/>
<line x1="310.0" y1="285.3" x2="278.3" y2="283.5" stroke="#e2e2e2" stroke-width="0.22"/>
<line x1="310.0" y1="285.3" x2="281.8" y2="282.7" stroke="#e2e2e2" stroke-width="0.22"/>
<line x1="310.0" y1="285.3" x2="285.4" y2="281.5" stroke="#e2e2e2" stroke-width="0.22"/>
<line x1="310.0" y1="285.3" x2="289.7" y2="280.1" stroke="#e2e2e2" stroke-width="0.22"/>
<line x1="310.0" y1="285.3" x2="293.6" y2="279.3" stroke="#e2e2e2" stroke-width="0.22"/>
<line x1="310.0" y1="285.3" x2="299.5" y2="278.5" stroke="#e2e2e2" stroke-width="0.22"/>
<line x1="310.0" y1="285.3" x2="307.5" y2="278.5" stroke="#e2e2e2" stroke-width="0.22"/>
<line x1="310.0" y1="285.3" x2="311.9" y2="278.7" stroke="#e2e2e2" stroke-width="0.22"/>
<line x1="310.0" y1="285.3" x2="320.2" y2="278.5" stroke="#e2e2e2" stroke-width="0.22"/>
<line x1="310.0" y1="285.3" x2="325.4" y2="279.5" stroke="#e2e2e2" stroke-width="0.22"/>
<line x1="310.0" y1="285.3" x2="329.2" y2="280.1" stroke="#e2e2e2" stroke-width="0.22"/>
<line x1="310.0" y1="285.3" x2="334.5" y2="280.9" stroke="#e2e2e2" stroke-width="0.22"/>
<line x1="310.0" y1="285.3" x2="338.6" y2="281.9" stroke="#e2e2e2" stroke-width="0.22"/>
<line x1="310.0" y1="285.3" x2="338.5" y2="283.5" stroke="#e2e2e2" stroke-width="0.22"/>
<line x1="310.0" y1="285.3" x2="339.5" y2="285.1" stroke="#e2e2e2" stroke-width="0.22"/>
<line x1="310.0" y1="285.3" x2="340.2" y2="286.2" stroke="#e2e2e2" stroke-width="0.22"/>
<line x1="310.0" y1="285.3" x2="338.7" y2="287.2" stroke="#e2e2e2" stroke-width="0.22"/>
<line x1="310.0" y1="285.3" x2="338.6" y2="288.7" stroke="#e2e2e2" stroke-width="0.22"/>
<line x1="310.0" y1="285.3" x2="332.5" y2="289.5" stroke="#e2e2e2" stroke-width="0.22"/>
<line x1="310.0" y1="285.3" x2="328.7" y2="291.0" stroke="#e2e2e2" stroke-width="0.22"/>
<line x1="310.0" y1="285.3" x2="322.6" y2="292.0" stroke="#e2e2e2" stroke-width="0.22"/>
<line x1="310.0" y1="285.3" x2="317.7" y2="292.0" stroke="#e2e2e2" stroke-width="0.22"/>
<line x1="310.0" y1="285.3" x2="312.1" y2="292.2" stroke="#e2e2e2" stroke-width="0.22"/>
<line x1="310.0" y1="285.3" x2="305.4" y2="292.0" stroke="#e2e2e2" stroke-width="0.22"/>
<line x1="310.0" y1="285.3" x2="297.6" y2="291.7" stroke="#e2e2e2" stroke-width="0.22"/>
<line x1="310.0" y1="285.3" x2="292.2" y2="290.9" stroke="#e2e2e2" stroke-width="0.22"/>
<line x1="310.0" y1="285.3" x2="288.0" y2="289.7" stroke="#e2e2e2" stroke-width="0.22"/>
<line x1="310.0" y1="285.3" x2="284.6" y2="288.8" stroke="#e2e2e2" stroke-width="0.22"/>
<line x1="310.0" y1="285.3" x2="285.6" y2="279.4" stroke="#e2e2e2" stroke-width="0.22"/>
<line x1="310.0" y1="285.3" x2="289.8" y2="278.2" stroke="#e2e2e2" stroke-width="0.22"/>
<line x1="310.0" y1="285.3" x2="294.6" y2="277.8" stroke="#e2e2e2" stroke-width="0.22"/>
<line x1="310.0" y1="285.3" x2="301.7" y2="277.1" stroke="#e2e2e2" stroke-width="0.22"/>
<line x1="310.0" y1="285.3" x2="308.5" y2="277.4" stroke="#e2e2e2" stroke-width="0.22"/>
<line x1="310.0" y1="285.3" x2="316.2" y2="276.9" stroke="#e2e2e2" stroke-width="0.22"/>
<line x1="310.0" y1="285.3" x2="321.5" y2="277.7" stroke="#e2e2e2" stroke-width="0.22"/>
<line x1="310.0" y1="285.3" x2="327.6" y2="278.3" stroke="#e2e2e2" stroke-width="0.22"/>
<line x1="310.0" y1="285.3" x2="332.2" y2="278.8" stroke="#e2e2e2" stroke-width="0.22"/>
<line x1="310.0" y1="285.3" x2="335.8" y2="280.1" stroke="#e2e2e2" stroke-width="0.22"/>
<line x1="310.0" y1="285.3" x2="341.1" y2="280.6" stroke="#e2e2e2" stroke-width="0.22"/>
<line x1="310.0" y1="285.3" x2="344.7" y2="282.1" stroke="#e2e2e2" stroke-width="0.22"/>
<line x1="310.0" y1="285.3" x2="345.7" y2="283.4" stroke="#e2e2e2" stroke-width="0.22"/>
<line x1="310.0" y1="285.3" x2="347.3" y2="285.4" stroke="#e2e2e2" stroke-width="0.22"/>
<line x1="310.0" y1="285.3" x2="347.7" y2="286.6" stroke="#e2e2e2" stroke-width="0.22"/>
<line x1="310.0" y1="285.3" x2="344.9" y2="287.8" stroke="#e2e2e2" stroke-width="0.22"/>
<line x1="310.0" y1="285.3" x2="341.8" y2="289.5" stroke="#e2e2e2" stroke-width="0.22"/>
<line x1="310.0" y1="285.3" x2="337.3" y2="290.8" stroke="#e2e2e2" stroke-width="0.22"/>
<line x1="310.0" y1="285.3" x2="334.5" y2="291.7" stroke="#e2e2e2" stroke-width="0.22"/>
<line x1="310.0" y1="285.3" x2="329.5" y2="292.5" stroke="#e2e2e2" stroke-width="0.22"/>
<line x1="310.0" y1="285.3" x2="322.0" y2="293.0" stroke="#e2e2e2" stroke-width="0.22"/>
<line x1="310.0" y1="285.3" x2="315.5" y2="293.3" stroke="#e2e2e2" stroke-width="0.22"/>
<line x1="310.0" y1="285.3" x2="310.8" y2="293.8" stroke="#e2e2e2" stroke-width="0.22"/>
<line x1="310.0" y1="285.3" x2="302.7" y2="293.5" stroke="#e2e2e2" stroke-width="0.22"/>
<line x1="310.0" y1="285.3" x2="296.0" y2="293.0" stroke="#e2e2e2" stroke-width="0.22"/>
<line x1="310.0" y1="285.3" x2="290.5" y2="292.1" stroke="#e2e2e2" stroke-width="0.22"/>
<line x1="310.0" y1="285.3" x2="284.7" y2="290.9" stroke="#e2e2e2" stroke-width="0.22"/>
<line x1="310.0" y1="285.3" x2="281.8" y2="290.4" stroke="#e2e2e2" stroke-width="0.22"/>
<line x1="310.0" y1="285.3" x2="276.8" y2="288.7" stroke="#e2e2e2" stroke-width="0.22"/>
<line x1="310.0" y1="285.3" x2="274.8" y2="287.9" stroke="#e2e2e2" stroke-width="0.22"/>
<line x1="310.0" y1="285.3" x2="272.8" y2="286.5" stroke="#e2e2e2" stroke-width="0.22"/>
<line x1="310.0" y1="285.3" x2="274.4" y2="285.0" stroke="#e2e2e2" stroke-width="0.22"/>
<line x1="310.0" y1="285.3" x2="274.9" y2="283.5" stroke="#e2e2e2" stroke-width="0.22"/>
<line x1="310.0" y1="285.3" x2="275.4" y2="282.1" stroke="#e2e2e2" stroke-width="0.22"/>
<line x1="310.0" y1="285.3" x2="280.7" y2="280.8" stroke="#e2e2e2" stroke-width="0.22"/>
<line x1="310.0" y1="285.3" x2="269.2" y2="283.6" stroke="#e2e2e2" stroke-width="0.22"/>
<line x1="310.0" y1="285.3" x2="271.7" y2="282.2" stroke="#e2e2e2" stroke-width="0.22"/>
<line x1="310.0" y1="285.3" x2="273.1" y2="280.6" stroke="#e2e2e2" stroke-width="0.22"/>
<line x1="310.0" y1="285.3" x2="277.5" y2="279.3" stroke="#e2e2e2" stroke-width="0.22"/>
<line x1="310.0" y1="285.3" x2="279.9" y2="278.5" stroke="#e2e2e2" stroke-width="0.22"/>
<line x1="310.0" y1="285.3" x2="288.2" y2="277.5" stroke="#e2e2e2" stroke-width="0.22"/>
<line x1="310.0" y1="285.3" x2="294.2" y2="276.9" stroke="#e2e2e2" stroke-width="0.22"/>
<line x1="310.0" y1="285.3" x2="300.3" y2="276.5" stroke="#e2e2e2" stroke-width="0.22"/>
<line x1="310.0" y1="285.3" x2="305.9" y2="276.2" stroke="#e2e2e2" stroke-width="0.22"/>
<line x1="310.0" y1="285.3" x2="312.8" y2="276.1" stroke="#e2e2e2" stroke-width="0.22"/>
<line x1="310.0" y1="285.3" x2="316.4" y2="276.2" stroke="#e2e2e2" stroke-width="0.22"/>
<line x1="310.0" y1="285.3" x2="322.1" y2="276.6" stroke="#e2e2e2" stroke-width="0.22"/>
<line x1="310.0" y1="285.3" x2="332.7" y2="277.0" stroke="#e2e2e2" stroke-width="0.22"/>
<line x1="310.0" y1="285.3" x2="336.4" y2="277.8" stroke="#e2e2e2" stroke-width="0.22"/>
<line x1="310.0" y1="285.3" x2="340.4" y2="279.2" stroke="#e2e2e2" stroke-width="0.22"/>
<line x1="310.0" y1="285.3" x2="342.5" y2="280.0" stroke="#e2e2e2" stroke-width="0.22"/>
<line x1="310.0" y1="285.3" x2="348.3" y2="281.3" stroke="#e2e2e2" stroke-width="0.22"/>
<line x1="310.0" y1="285.3" x2="349.0" y2="282.5" stroke="#e2e2e2" stroke-width="0.22"/>
<line x1="310.0" y1="285.3" x2="353.4" y2="284.6" stroke="#e2e2e2" stroke-width="0.22"/>
<line x1="310.0" y1="285.3" x2="353.6" y2="285.2" stroke="#e2e2e2" stroke-width="0.22"/>
<line x1="310.0" y1="285.3" x2="350.4" y2="287.3" stroke="#e2e2e2" stroke-width="0.22"/>
<line x1="310.0" y1="285.3" x2="349.2" y2="288.5" stroke="#e2e2e2" stroke-width="0.22"/>
<line x1="310.0" y1="285.3" x2="348.4" y2="289.5" stroke="#e2e2e2" stroke-width="0.22"/>
<line x1="310.0" y1="285.3" x2="343.8" y2="290.8" stroke="#e2e2e2" stroke-width="0.22"/>
<line x1="310.0" y1="285.3" x2="338.2" y2="291.9" stroke="#e2e2e2" stroke-width="0.22"/>
<line x1="310.0" y1="285.3" x2="332.5" y2="292.7" stroke="#e2e2e2" stroke-width="0.22"/>
<line x1="310.0" y1="285.3" x2="326.9" y2="294.0" stroke="#e2e2e2" stroke-width="0.22"/>
<line x1="310.0" y1="285.3" x2="321.0" y2="294.2" stroke="#e2e2e2" stroke-width="0.22"/>
<line x1="310.0" y1="285.3" x2="315.4" y2="294.9" stroke="#e2e2e2" stroke-width="0.22"/>
<line x1="310.0" y1="285.3" x2="309.6" y2="294.9" stroke="#e2e2e2" stroke-width="0.22"/>
<line x1="310.0" y1="285.3" x2="300.7" y2="294.6" stroke="#e2e2e2" stroke-width="0.22"/>
<line x1="310.0" y1="285.3" x2="293.6" y2="294.2" stroke="#e2e2e2" stroke-width="0.22"/>
<line x1="310.0" y1="285.3" x2="288.2" y2="293.5" stroke="#e2e2e2" stroke-width="0.22"/>
<line x1="310.0" y1="285.3" x2="284.4" y2="292.2" stroke="#e2e2e2" stroke-width="0.22"/>
<line x1="310.0" y1="285.3" x2="280.7" y2="291.4" stroke="#e2e2e2" stroke-width="0.22"/>
<line x1="310.0" y1="285.3" x2="274.5" y2="290.5" stroke="#e2e2e2" stroke-width="0.22"/>
<line x1="310.0" y1="285.3" x2="270.7" y2="288.9" stroke="#e2e2e2" stroke-width="0.22"/>
<line x1="310.0" y1="285.3" x2="269.2" y2="287.7" stroke="#e2e2e2" stroke-width="0.22"/>
<line x1="310.0" y1="285.3" x2="266.6" y2="286.6" stroke="#e2e2e2" stroke-width="0.22"/>
<line x1="310.0" y1="285.3" x2="267.1" y2="284.8" stroke="#e2e2e2" stroke-width="0.22"/>
<line x1="310.0" y1="285.3" x2="357.7" y2="287.0" stroke="#e2e2e2" stroke-width="0.22"/>
<line x1="310.0" y1="285.3" x2="354.0" y2="288.1" stroke="#e2e2e2" stroke-width="0.22"/>
<line x1="310.0" y1="285.3" x2="352.0" y2="289.4" stroke="#e2e2e2" stroke-width="0.22"/>
<line x1="310.0" y1="285.3" x2="348.9" y2="291.4" stroke="#e2e2e2" stroke-width="0.22"/>
<line x1="310.0" y1="285.3" x2="344.5" y2="292.6" stroke="#e2e2e2" stroke-width="0.22"/>
<line x1="310.0" y1="285.3" x2="341.2" y2="293.5" stroke="#e2e2e2" stroke-width="0.22"/>
<line x1="310.0" y1="285.3" x2="335.7" y2="294.4" stroke="#e2e2e2" stroke-width="0.22"/>
<line x1="310.0" y1="285.3" x2="327.3" y2="294.8" stroke="#e2e2e2" stroke-width="0.22"/>
<line x1="310.0" y1="285.3" x2="324.8" y2="295.3" stroke="#e2e2e2" stroke-width="0.22"/>
<line x1="310.0" y1="285.3" x2="319.1" y2="296.0" stroke="#e2e2e2" stroke-width="0.22"/>
<line x1="310.0" y1="285.3" x2="309.8" y2="295.9" stroke="#e2e2e2" stroke-width="0.22"/>
<line x1="310.0" y1="285.3" x2="304.2" y2="295.9" stroke="#e2e2e2" stroke-width="0.22"/>
<line x1="310.0" y1="285.3" x2="297.4" y2="295.6" stroke="#e2e2e2" stroke-width="0.22"/>
<line x1="310.0" y1="285.3" x2="292.7" y2="294.9" stroke="#e2e2e2" stroke-width="0.22"/>
<line x1="310.0" y1="285.3" x2="285.3" y2="294.5" stroke="#e2e2e2" stroke-width="0.22"/>
<line x1="310.0" y1="285.3" x2="276.9" y2="293.1" stroke="#e2e2e2" stroke-width="0.22"/>
<line x1="310.0" y1="285.3" x2="271.4" y2="292.0" stroke="#e2e2e2" stroke-width="0.22"/>
<line x1="310.0" y1="285.3" x2="269.3" y2="290.6" stroke="#e2e2e2" stroke-width="0.22"/>
<line x1="310.0" y1="285.3" x2="266.8" y2="289.1" stroke="#e2e2e2" stroke-width="0.22"/>
<line x1="310.0" y1="285.3" x2="263.2" y2="287.9" stroke="#e2e2e2" stroke-width="0.22"/>
<line x1="310.0" y1="285.3" x2="261.7" y2="286.3" stroke="#e2e2e2" stroke-width="0.22"/>
<line x1="310.0" y1="285.3" x2="262.2" y2="285.7" stroke="#e2e2e2" stroke-width="0.22"/>
<line x1="310.0" y1="285.3" x2="264.5" y2="284.1" stroke="#e2e2e2" stroke-width="0.22"/>
<line x1="310.0" y1="285.3" x2="264.3" y2="282.7" stroke="#e2e2e2" stroke-width="0.22"/>
<line x1="310.0" y1="285.3" x2="267.6" y2="281.1" stroke="#e2e2e2" stroke-width="0.22"/>
<line x1="310.0" y1="285.3" x2="269.1" y2="279.6" stroke="#e2e2e2" stroke-width="0.22"/>
<line x1="310.0" y1="285.3" x2="274.6" y2="277.8" stroke="#e2e2e2" stroke-width="0.22"/>
<line x1="310.0" y1="285.3" x2="279.0" y2="277.8" stroke="#e2e2e2" stroke-width="0.22"/>
<line x1="310.0" y1="285.3" x2="285.3" y2="276.2" stroke="#e2e2e2" stroke-width="0.22"/>
<line x1="310.0" y1="285.3" x2="289.1" y2="275.7" stroke="#e2e2e2" stroke-width="0.22"/>
<line x1="310.0" y1="285.3" x2="297.0" y2="275.1" stroke="#e2e2e2" stroke-width="0.22"/>
<line x1="310.0" y1="285.3" x2="302.0" y2="275.1" stroke="#e2e2e2" stroke-width="0.22"/>
<line x1="310.0" y1="285.3" x2="312.1" y2="274.5" stroke="#e2e2e2" stroke-width="0.22"/>
<line x1="310.0" y1="285.3" x2="314.6" y2="275.0" stroke="#e2e2e2" stroke-width="0.22"/>
<line x1="310.0" y1="285.3" x2="323.5" y2="275.6" stroke="#e2e2e2" stroke-width="0.22"/>
<line x1="310.0" y1="285.3" x2="327.3" y2="275.9" stroke="#e2e2e2" stroke-width="0.22"/>
<line x1="310.0" y1="285.3" x2="336.1" y2="276.4" stroke="#e2e2e2" stroke-width="0.22"/>
<line x1="310.0" y1="285.3" x2="340.3" y2="277.5" stroke="#e2e2e2" stroke-width="0.22"/>
<line x1="310.0" y1="285.3" x2="347.5" y2="278.4" stroke="#e2e2e2" stroke-width="0.22"/>
<line x1="310.0" y1="285.3" x2="349.8" y2="279.2" stroke="#e2e2e2" stroke-width="0.22"/>
<line x1="310.0" y1="285.3" x2="352.7" y2="281.3" stroke="#e2e2e2" stroke-width="0.22"/>
<line x1="310.0" y1="285.3" x2="356.2" y2="282.0" stroke="#e2e2e2" stroke-width="0.22"/>
<line x1="310.0" y1="285.3" x2="358.8" y2="283.9" stroke="#e2e2e2" stroke-width="0.22"/>
<line x1="310.0" y1="285.3" x2="358.3" y2="285.4" stroke="#e2e2e2" stroke-width="0.22"/>
<line x1="310.0" y1="285.3" x2="264.2" y2="290.4" stroke="#e2e2e2" stroke-width="0.22"/>
<line x1="310.0" y1="285.3" x2="262.1" y2="289.4" stroke="#e2e2e2" stroke-width="0.22"/>
<line x1="310.0" y1="285.3" x2="257.6" y2="287.7" stroke="#e2e2e2" stroke-width="0.22"/>
<line x1="310.0" y1="285.3" x2="258.8" y2="285.8" stroke="#e2e2e2" stroke-width="0.22"/>
<line x1="310.0" y1="285.3" x2="258.8" y2="284.5" stroke="#e2e2e2" stroke-width="0.22"/>
<line x1="310.0" y1="285.3" x2="257.7" y2="282.8" stroke="#e2e2e2" stroke-width="0.22"/>
<line x1="310.0" y1="285.3" x2="259.7" y2="282.1" stroke="#e2e2e2" stroke-width="0.22"/>
<line x1="310.0" y1="285.3" x2="263.3" y2="280.6" stroke="#e2e2e2" stroke-width="0.22"/>
<line x1="310.0" y1="285.3" x2="264.5" y2="278.7" stroke="#e2e2e2" stroke-width="0.22"/>
<line x1="310.0" y1="285.3" x2="271.2" y2="277.4" stroke="#e2e2e2" stroke-width="0.22"/>
<line x1="310.0" y1="285.3" x2="274.0" y2="276.9" stroke="#e2e2e2" stroke-width="0.22"/>
<line x1="310.0" y1="285.3" x2="280.7" y2="275.2" stroke="#e2e2e2" stroke-width="0.22"/>
<line x1="310.0" y1="285.3" x2="284.9" y2="275.1" stroke="#e2e2e2" stroke-width="0.22"/>
<line x1="310.0" y1="285.3" x2="291.1" y2="274.5" stroke="#e2e2e2" stroke-width="0.22"/>
<line x1="310.0" y1="285.3" x2="298.0" y2="273.7" stroke="#e2e2e2" stroke-width="0.22"/>
<line x1="310.0" y1="285.3" x2="306.4" y2="273.6" stroke="#e2e2e2" stroke-width="0.22"/>
<line x1="310.0" y1="285.3" x2="312.8" y2="273.3" stroke="#e2e2e2" stroke-width="0.22"/>
<line x1="310.0" y1="285.3" x2="315.6" y2="273.7" stroke="#e2e2e2" stroke-width="0.22"/>
<line x1="310.0" y1="285.3" x2="325.6" y2="273.7" stroke="#e2e2e2" stroke-width="0.22"/>
<line x1="310.0" y1="285.3" x2="331.9" y2="275.0" stroke="#e2e2e2" stroke-width="0.22"/>
<line x1="310.0" y1="285.3" x2="337.6" y2="275.7" stroke="#e2e2e2" stroke-width="0.22"/>
<line x1="310.0" y1="285.3" x2="344.6" y2="276.0" stroke="#e2e2e2" stroke-width="0.22"/>
<line x1="310.0" y1="285.3" x2="347.3" y2="277.4" stroke="#e2e2e2" stroke-width="0.22"/>
<line x1="310.0" y1="285.3" x2="351.9" y2="278.5" stroke="#e2e2e2" stroke-width="0.22"/>
<line x1="310.0" y1="285.3" x2="356.6" y2="279.8" stroke="#e2e2e2" stroke-width="0.22"/>
<line x1="310.0" y1="285.3" x2="358.1" y2="280.8" stroke="#e2e2e2" stroke-width="0.22"/>
<line x1="310.0" y1="285.3" x2="361.2" y2="282.5" stroke="#e2e2e2" stroke-width="0.22"/>
<line x1="310.0" y1="285.3" x2="363.2" y2="284.0" stroke="#e2e2e2" stroke-width="0.22"/>
<line x1="310.0" y1="285.3" x2="364.0" y2="285.1" stroke="#e2e2e2" stroke-width="0.22"/>
<line x1="310.0" y1="285.3" x2="363.2" y2="287.2" stroke="#e2e2e2" stroke-width="0.22"/>
<line x1="310.0" y1="285.3" x2="362.2" y2="288.7" stroke="#e2e2e2" stroke-width="0.22"/>
<line x1="310.0" y1="285.3" x2="359.7" y2="289.7" stroke="#e2e2e2" stroke-width="0.22"/>
<line x1="310.0" y1="285.3" x2="356.1" y2="290.9" stroke="#e2e2e2" stroke-width="0.22"/>
<line x1="310.0" y1="285.3" x2="353.1" y2="292.7" stroke="#e2e2e2" stroke-width="0.22"/>
<line x1="310.0" y1="285.3" x2="348.5" y2="293.0" stroke="#e2e2e2" stroke-width="0.22"/>
<line x1="310.0" y1="285.3" x2="345.1" y2="294.5" stroke="#e2e2e2" stroke-width="0.22"/>
<line x1="310.0" y1="285.3" x2="337.7" y2="294.9" stroke="#e2e2e2" stroke-width="0.22"/>
<line x1="310.0" y1="285.3" x2="329.9" y2="295.9" stroke="#e2e2e2" stroke-width="0.22"/>
<line x1="310.0" y1="285.3" x2="325.6" y2="296.6" stroke="#e2e2e2" stroke-width="0.22"/>
<line x1="310.0" y1="285.3" x2="320.8" y2="296.4" stroke="#e2e2e2" stroke-width="0.22"/>
<line x1="310.0" y1="285.3" x2="313.4" y2="296.8" stroke="#e2e2e2" stroke-width="0.22"/>
<line x1="310.0" y1="285.3" x2="304.8" y2="296.7" stroke="#e2e2e2" stroke-width="0.22"/>
<line x1="310.0" y1="285.3" x2="299.9" y2="296.5" stroke="#e2e2e2" stroke-width="0.22"/>
<line x1="310.0" y1="285.3" x2="292.9" y2="296.4" stroke="#e2e2e2" stroke-width="0.22"/>
<line x1="310.0" y1="285.3" x2="286.3" y2="295.5" stroke="#e2e2e2" stroke-width="0.22"/>
<line x1="310.0" y1="285.3" x2="278.6" y2="294.6" stroke="#e2e2e2" stroke-width="0.22"/>
<line x1="310.0" y1="285.3" x2="273.0" y2="293.6" stroke="#e2e2e2" stroke-width="0.22"/>
<line x1="310.0" y1="285.3" x2="270.4" y2="293.6" stroke="#e2e2e2" stroke-width="0.22"/>
<line x1="310.0" y1="285.3" x2="266.2" y2="291.9" stroke="#e2e2e2" stroke-width="0.22"/>
<line x1="310.0" y1="285.3" x2="298.1" y2="298.1" stroke="#e2e2e2" stroke-width="0.22"/>
<line x1="310.0" y1="285.3" x2="297.1" y2="297.9" stroke="#e2e2e2" stroke-width="0.22"/>
<line x1="310.0" y1="285.3" x2="285.9" y2="297.2" stroke="#e2e2e2" stroke-width="0.22"/>
<line x1="310.0" y1="285.3" x2="283.9" y2="296.5" stroke="#e2e2e2" stroke-width="0.22"/>
<line x1="310.0" y1="285.3" x2="276.2" y2="296.2" stroke="#e2e2e2" stroke-width="0.22"/>
<line x1="310.0" y1="285.3" x2="268.7" y2="294.9" stroke="#e2e2e2" stroke-width="0.22"/>
<line x1="310.0" y1="285.3" x2="266.5" y2="293.4" stroke="#e2e2e2" stroke-width="0.22"/>
<line x1="310.0" y1="285.3" x2="262.3" y2="293.1" stroke="#e2e2e2" stroke-width="0.22"/>
<line x1="310.0" y1="285.3" x2="258.6" y2="290.6" stroke="#e2e2e2" stroke-width="0.22"/>
<line x1="310.0" y1="285.3" x2="256.3" y2="289.4" stroke="#e2e2e2" stroke-width="0.22"/>
<line x1="310.0" y1="285.3" x2="251.8" y2="288.4" stroke="#e2e2e2" stroke-width="0.22"/>
<line x1="310.0" y1="285.3" x2="252.7" y2="286.3" stroke="#e2e2e2" stroke-width="0.22"/>
<line x1="310.0" y1="285.3" x2="250.3" y2="285.3" stroke="#e2e2e2" stroke-width="0.22"/>
<line x1="310.0" y1="285.3" x2="253.6" y2="283.3" stroke="#e2e2e2" stroke-width="0.22"/>
<line x1="310.0" y1="285.3" x2="254.7" y2="282.2" stroke="#e2e2e2" stroke-width="0.22"/>
<line x1="310.0" y1="285.3" x2="255.8" y2="281.0" stroke="#e2e2e2" stroke-width="0.22"/>
<line x1="310.0" y1="285.3" x2="258.0" y2="279.6" stroke="#e2e2e2" stroke-width="0.22"/>
<line x1="310.0" y1="285.3" x2="260.9" y2="278.1" stroke="#e2e2e2" stroke-width="0.22"/>
<line x1="310.0" y1="285.3" x2="265.8" y2="276.9" stroke="#e2e2e2" stroke-width="0.22"/>
<line x1="310.0" y1="285.3" x2="272.1" y2="275.4" stroke="#e2e2e2" stroke-width="0.22"/>
<line x1="310.0" y1="285.3" x2="275.3" y2="274.7" stroke="#e2e2e2" stroke-width="0.22"/>
<line x1="310.0" y1="285.3" x2="282.6" y2="274.0" stroke="#e2e2e2" stroke-width="0.22"/>
<line x1="310.0" y1="285.3" x2="290.8" y2="272.9" stroke="#e2e2e2" stroke-width="0.22"/>
<line x1="310.0" y1="285.3" x2="295.8" y2="273.0" stroke="#e2e2e2" stroke-width="0.22"/>
<line x1="310.0" y1="285.3" x2="302.1" y2="272.7" stroke="#e2e2e2" stroke-width="0.22"/>
<line x1="310.0" y1="285.3" x2="308.0" y2="272.3" stroke="#e2e2e2" stroke-width="0.22"/>
<line x1="310.0" y1="285.3" x2="313.8" y2="272.2" stroke="#e2e2e2" stroke-width="0.22"/>
<line x1="310.0" y1="285.3" x2="324.9" y2="272.8" stroke="#e2e2e2" stroke-width="0.22"/>
<line x1="310.0" y1="285.3" x2="328.4" y2="272.8" stroke="#e2e2e2" stroke-width="0.22"/>
<line x1="310.0" y1="285.3" x2="332.9" y2="273.8" stroke="#e2e2e2" stroke-width="0.22"/>
<line x1="310.0" y1="285.3" x2="341.7" y2="274.8" stroke="#e2e2e2" stroke-width="0.22"/>
<line x1="310.0" y1="285.3" x2="348.7" y2="275.6" stroke="#e2e2e2" stroke-width="0.22"/>
<line x1="310.0" y1="285.3" x2="350.0" y2="276.3" stroke="#e2e2e2" stroke-width="0.22"/>
<line x1="310.0" y1="285.3" x2="354.9" y2="277.6" stroke="#e2e2e2" stroke-width="0.22"/>
<line x1="310.0" y1="285.3" x2="360.1" y2="278.7" stroke="#e2e2e2" stroke-width="0.22"/>
<line x1="310.0" y1="285.3" x2="365.1" y2="280.4" stroke="#e2e2e2" stroke-width="0.22"/>
<line x1="310.0" y1="285.3" x2="365.2" y2="281.4" stroke="#e2e2e2" stroke-width="0.22"/>
<line x1="310.0" y1="285.3" x2="367.9" y2="282.9" stroke="#e2e2e2" stroke-width="0.22"/>
<line x1="310.0" y1="285.3" x2="368.8" y2="285.0" stroke="#e2e2e2" stroke-width="0.22"/>
<line x1="310.0" y1="285.3" x2="367.6" y2="285.5" stroke="#e2e2e2" stroke-width="0.22"/>
<line x1="310.0" y1="285.3" x2="365.7" y2="287.8" stroke="#e2e2e2" stroke-width="0.22"/>
<line x1="310.0" y1="285.3" x2="366.5" y2="289.2" stroke="#e2e2e2" stroke-width="0.22"/>
<line x1="310.0" y1="285.3" x2="361.7" y2="290.6" stroke="#e2e2e2" stroke-width="0.22"/>
<line x1="310.0" y1="285.3" x2="358.8" y2="292.4" stroke="#e2e2e2" stroke-width="0.22"/>
<line x1="310.0" y1="285.3" x2="355.0" y2="293.0" stroke="#e2e2e2" stroke-width="0.22"/>
<line x1="310.0" y1="285.3" x2="349.5" y2="294.8" stroke="#e2e2e2" stroke-width="0.22"/>
<line x1="310.0" y1="285.3" x2="344.2" y2="295.4" stroke="#e2e2e2" stroke-width="0.22"/>
<line x1="310.0" y1="285.3" x2="339.6" y2="296.1" stroke="#e2e2e2" stroke-width="0.22"/>
<line x1="310.0" y1="285.3" x2="336.2" y2="296.9" stroke="#e2e2e2" stroke-width="0.22"/>
<line x1="310.0" y1="285.3" x2="329.8" y2="297.8" stroke="#e2e2e2" stroke-width="0.22"/>
<line x1="310.0" y1="285.3" x2="321.6" y2="297.6" stroke="#e2e2e2" stroke-width="0.22"/>
<line x1="310.0" y1="285.3" x2="317.1" y2="298.4" stroke="#e2e2e2" stroke-width="0.22"/>
<line x1="310.0" y1="285.3" x2="307.6" y2="298.2" stroke="#e2e2e2" stroke-width="0.22"/>
<circle cx="295.9" cy="286.2" r="0.62" fill="#ee0000"/>
<circle cx="296.5" cy="285.0" r="0.62" fill="#ee0000"/>
<circle cx="297.9" cy="283.9" r="0.62" fill="#22dd22"/>
<circle cx="301.6" cy="283.2" r="0.62" fill="#ee0000"/>
<circle cx="306.3" cy="282.3" r="0.62" fill="#ee0000"/>
<circle cx="312.1" cy="282.0" r="0.62" fill="#22dd22"/>
<circle cx="315.7" cy="283.0" r="0.62" fill="#ee0000"/>
<circle cx="319.0" cy="283.7" r="0.62" fill="#ee0000"/>
<circle cx="320.9" cy="284.5" r="0.62" fill="#ee0000"/>
<circle cx="324.4" cy="285.6" r="0.62" fill="#ee0000"/>
<circle cx="321.6" cy="286.7" r="0.62" fill="#22dd22"/>
<circle cx="318.0" cy="287.4" r="0.62" fill="#22dd22"/>
<circle cx="313.6" cy="288.4" r="0.62" fill="#22dd22"/>
<circle cx="309.1" cy="288.0" r="0.62" fill="#ee0000"/>
<circle cx="303.9" cy="288.1" r="0.62" fill="#ee0000"/>
<circle cx="299.9" cy="287.0" r="0.62" fill="#22dd22"/>
<circle cx="319.7" cy="281.9" r="0.62" fill="#22dd22"/>
<circle cx="326.5" cy="282.4" r="0.62" fill="#ee0000"/>
<circle cx="328.1" cy="283.6" r="0.62" fill="#22dd22"/>
<circle cx="327.7" cy="285.0" r="0.62" fill="#ee0000"/>
<circle cx="329.3" cy="286.5" r="0.62" fill="#ee0000"/>
<circle cx="325.5" cy="287.2" r="0.62" fill="#ee0000"/>
<circle cx="321.7" cy="288.3" r="0.62" fill="#22dd22"/>
<circle cx="317.7" cy="288.9" r="0.62" fill="#22dd22"/>
<circle cx="313.4" cy="289.6" r="0.62" fill="#ee0000"/>
<circle cx="307.2" cy="289.3" r="0.62" fill="#ee0000"/>
<circle cx="300.1" cy="289.2" r="0.62" fill="#ee0000"/>
<circle cx="297.0" cy="288.1" r="0.62" fill="#ee0000"/>
<circle cx="292.5" cy="287.3" r="0.62" fill="#ee0000"/>
<circle cx="292.1" cy="286.0" r="0.62" fill="#ee0000"/>
<circle cx="291.5" cy="284.8" r="0.62" fill="#ee0000"/>
<circle cx="293.3" cy="284.0" r="0.62" fill="#22dd22"/>
<circle cx="294.6" cy="282.6" r="0.62" fill="#ee0000"/>
<circle cx="298.4" cy="281.5" r="0.62" fill="#ee0000"/>
<circle cx="304.4" cy="280.9" r="0.62" fill="#ee0000"/>
<circle cx="309.6" cy="280.7" r="0.62" fill="#22dd22"/>
<circle cx="315.1" cy="281.5" r="0.62" fill="#22dd22"/>
<circle cx="334.7" cy="283.0" r="0.62" fill="#22dd22"/>
<circle cx="334.7" cy="284.6" r="0.62" fill="#ee0000"/>
<circle cx="336.8" cy="285.7" r="0.62" fill="#ee0000"/>
<circle cx="332.7" cy="287.3" r="0.62" fill="#22dd22"/>
<circle cx="330.2" cy="288.4" r="0.62" fill="#ee0000"/>
<circle cx="325.5" cy="289.3" r="0.62" fill="#ee0000"/>
<circle cx="322.4" cy="290.5" r="0.62" fill="#22dd22"/>
<circle cx="317.3" cy="291.0" r="0.62" fill="#ee0000"/>
<circle cx="311.5" cy="290.7" r="0.62" fill="#ee0000"/>
<circle cx="305.6" cy="290.5" r="0.62" fill="#ee0000"/>
<circle cx="299.0" cy="290.0" r="0.62" fill="#ee0000"/>
<circle cx="291.6" cy="289.7" r="0.62" fill="#22dd22"/>
<circle cx="288.9" cy="288.5" r="0.62" fill="#ee0000"/>
<circle cx="288.6" cy="287.4" r="0.62" fill="#22dd22"/>
<circle cx="283.3" cy="286.0" r="0.62" fill="#ee0000"/>
<circle cx="285.1" cy="284.6" r="0.62" fill="#22dd22"/>
<circle cx="284.5" cy="283.3" r="0.62" fill="#ee0000"/>
<circle cx="288.5" cy="282.1" r="0.62" fill="#22dd22"/>
<circle cx="293.0" cy="281.0" r="0.62" fill="#22dd22"/>
<circle cx="299.2" cy="280.4" r="0.62" fill="#22dd22"/>
<circle cx="304.4" cy="279.6" r="0.62" fill="#ee0000"/>
<circle cx="310.5" cy="279.4" r="0.62" fill="#22dd22"/>
<circle cx="315.9" cy="280.0" r="0.62" fill="#22dd22"/>
<circle cx="321.0" cy="280.6" r="0.62" fill="#22dd22"/>
<circle cx="328.3" cy="281.0" r="0.62" fill="#22dd22"/>
<circle cx="331.1" cy="281.9" r="0.62" fill="#22dd22"/>
<circle cx="282.0" cy="287.5" r="0.62" fill="#22dd22"/>
<circle cx="279.2" cy="286.8" r="0.62" fill="#ee0000"/>
<circle cx="278.1" cy="285.3" r="0.62" fill="#ee0000"/>
<circle cx="278.3" cy="283.5" r="0.62" fill="#ee0000"/>
<circle cx="281.8" cy="282.7" r="0.62" fill="#22dd22"/>
<circle cx="285.4" cy="281.5" r="0.62" fill="#22dd22"/>
<circle cx="289.7" cy="280.1" r="0.62" fill="#22dd22"/>
<circle cx="293.6" cy="279.3" r="0.62" fill="#ee0000"/>
<circle cx="299.5" cy="278.5" r="0.62" fill="#22dd22"/>
<circle cx="307.5" cy="278.5" r="0.62" fill="#22dd22"/>
<circle cx="311.9" cy="278.7" r="0.62" fill="#ee0000"/>
<circle cx="320.2" cy="278.5" r="0.62" fill="#22dd22"/>
<circle cx="325.4" cy="279.5" r="0.62" fill="#ee0000"/>
<circle cx="329.2" cy="280.1" r="0.62" fill="#ee0000"/>
<circle cx="334.5" cy="280.9" r="0.62" fill="#ee0000"/>
<circle cx="338.6" cy="281.9" r="0.62" fill="#22dd22"/>
<circle cx="338.5" cy="283.5" r="0.62" fill="#ee0000"/>
<circle cx="339.5" cy="285.1" r="0.62" fill="#22dd22"/>
<circle cx="340.2" cy="286.2" r="0.62" fill="#22dd22"/>
<circle cx="338.7" cy="287.2" r="0.62" fill="#ee0000"/>
<circle cx="338.6" cy="288.7" r="0.62" fill="#ee0000"/>
<circle cx="332.5" cy="289.5" r="0.62" fill="#22dd22"/>
<circle cx="328.7" cy="291.0" r="0.62" fill="#22dd22"/>
<circle cx="322.6" cy="292.0" r="0.62" fill="#22dd22"/>
<circle cx="317.7" cy="292.0" r="0.62" fill="#ee0000"/>
<circle cx="312.1" cy="292.2" r="0.62" fill="#22dd22"/>
<circle cx="305.4" cy="292.0" r="0.62" fill="#ee0000"/>
<circle cx="297.6" cy="291.7" r="0.62" fill="#22dd22"/>
<circle cx="292.2" cy="290.9" r="0.62" fill="#22dd22"/>
<circle cx="288.0" cy="289.7" r="0.62" fill="#22dd22"/>
<circle cx="284.6" cy="288.8" r="0.62" fill="#ee0000"/>
<circle cx="285.6" cy="279.4" r="0.62" fill="#22dd22"/>
<circle cx="289.8" cy="278.2" r="0.62" fill="#22dd22"/>
<circle cx="294.6" cy="277.8" r="0.62" fill="#ee0000"/>
<circle cx="301.7" cy="277.1" r="0.62" fill="#22dd22"/>
<circle cx="308.5" cy="277.4" r="0.62" fill="#22dd22"/>
<circle cx="316.2" cy="276.9" r="0.62" fill="#22dd22"/>
<circle cx="321.5" cy="277.7" r="0.62" fill="#22dd22"/>
<circle cx="327.6" cy="278.3" r="0.62" fill="#ee0000"/>
<circle cx="332.2" cy="278.8" r="0.62" fill="#22dd22"/>
<circle cx="335.8" cy="280.1" r="0.62" fill="#22dd22"/>
<circle cx="341.1" cy="280.6" r="0.62" fill="#ee0000"/>
<circle cx="344.7" cy="282.1" r="0.62" fill="#ee0000"/>
<circle cx="345.7" cy="283.4" r="0.62" fill="#22dd22"/>
<circle cx="347.3" cy="285.4" r="0.62" fill="#22dd22"/>
<circle cx="347.7" cy="286.6" r="0.62" fill="#ee0000"/>
<circle cx="344.9" cy="287.8" r="0.62" fill="#ee0000"/>
<circle cx="341.8" cy="289.5" r="0.62" fill="#22dd22"/>
<circle cx="337.3" cy="290.8" r="0.62" fill="#ee0000"/>
<circle cx="334.5" cy="291.7" r="0.62" fill="#22dd22"/>
<circle cx="329.5" cy="292.5" r="0.62" fill="#22dd22"/>
<circle cx="322.0" cy="293.0" r="0.62" fill="#ee0000"/>
<circle cx="315.5" cy="293.3" r="0.62" fill="#22dd22"/>
<circle cx="310.8" cy="293.8" r="0.62" fill="#ee0000"/>
<circle cx="302.7" cy="293.5" r="0.62" fill="#22dd22"/>
<circle cx="296.0" cy="293.0" r="0.62" fill="#ee0000"/>
<circle cx="290.5" cy="292.1" r="0.62" fill="#22dd22"/>
<circle cx="284.7" cy="290.9" r="0.62" fill="#ee0000"/>
<circle cx="281.8" cy="290.4" r="0.62" fill="#22dd22"/>
<circle cx="276.8" cy="288.7" r="0.62" fill="#ee0000"/>
<circle cx="274.8" cy="287.9" r="0.62" fill="#22dd22"/>
<circle cx="272.8" cy="286.5" r="0.62" fill="#ee0000"/>
<circle cx="274.4" cy="285.0" r="0.62" fill="#22dd22"/>
<circle cx="274.9" cy="283.5" r="0.62" fill="#22dd22"/>
<circle cx="275.4" cy="282.1" r="0.62" fill="#ee0000"/>
<circle cx="280.7" cy="280.8" r="0.62" fill="#ee0000"/>
<circle cx="269.2" cy="283.6" r="0.62" fill="#ee0000"/>
<circle cx="271.7" cy="282.2" r="0.62" fill="#ee0000"/>
<circle cx="273.1" cy="280.6" r="0.62" fill="#22dd22"/>
<circle cx="277.5" cy="279.3" r="0.62" fill="#22dd22"/>
<circle cx="279.9" cy="278.5" r="0.62" fill="#22dd22"/>
<circle cx="288.2" cy="277.5" r="0.62" fill="#ee0000"/>
<circle cx="294.2" cy="276.9" r="0.62" fill="#22dd22"/>
<circle cx="300.3" cy="276.5" r="0.62" fill="#ee0000"/>
<circle cx="305.9" cy="276.2" r="0.62" fill="#ee0000"/>
<circle cx="312.8" cy="276.1" r="0.62" fill="#22dd22"/>
<circle cx="316.4" cy="276.2" r="0.62" fill="#22dd22"/>
<circle cx="322.1" cy="276.6" r="0.62" fill="#22dd22"/>
<circle cx="332.7" cy="277.0" r="0.62" fill="#ee0000"/>
<circle cx="336.4" cy="277.8" r="0.62" fill="#ee0000"/>
<circle cx="340.4" cy="279.2" r="0.62" fill="#ee0000"/>
<circle cx="342.5" cy="280.0" r="0.62" fill="#22dd22"/>
<circle cx="348.3" cy="281.3" r="0.62" fill="#ee0000"/>
<circle cx="349.0" cy="282.5" r="0.62" fill="#22dd22"/>
<circle cx="353.4" cy="284.6" r="0.62" fill="#ee0000"/>
<circle cx="353.6" cy="285.2" r="0.62" fill="#ee0000"/>
<circle cx="350.4" cy="287.3" r="0.62" fill="#ee0000"/>
<circle cx="349.2" cy="288.5" r="0.62" fill="#22dd22"/>
<circle cx="348.4" cy="289.5" r="0.62" fill="#22dd22"/>
<circle cx="343.8" cy="290.8" r="0.62" fill="#22dd22"/>
<circle cx="338.2" cy="291.9" r="0.62" fill="#ee0000"/>
<circle cx="332.5" cy="292.7" r="0.62" fill="#22dd22"/>
<circle cx="326.9" cy="294.0" r="0.62" fill="#22dd22"/>
<circle cx="321.0" cy="294.2" r="0.62" fill="#22dd22"/>
<circle cx="315.4" cy="294.9" r="0.62" fill="#22dd22"/>
<circle cx="309.6" cy="294.9" r="0.62" fill="#22dd22"/>
<circle cx="300.7" cy="294.6" r="0.62" fill="#ee0000"/>
<circle cx="293.6" cy="294.2" r="0.62" fill="#22dd22"/>
<circle cx="288.2" cy="293.5" r="0.62" fill="#ee0000"/>
<circle cx="284.4" cy="292.2" r="0.62" fill="#ee0000"/>
<circle cx="280.7" cy="291.4" r="0.62" fill="#ee0000"/>
<circle cx="274.5" cy="290.5" r="0.62" fill="#ee0000"/>
<circle cx="270.7" cy="288.9" r="0.62" fill="#ee0000"/>
<circle cx="269.2" cy="287.7" r="0.62" fill="#22dd22"/>
<circle cx="266.6" cy="286.6" r="0.62" fill="#22dd22"/>
<circle cx="267.1" cy="284.8" r="0.62" fill="#22dd22"/>
<circle cx="357.7" cy="287.0" r="0.62" fill="#ee0000"/>
<circle cx="354.0" cy="288.1" r="0.62" fill="#ee0000"/>
<circle cx="352.0" cy="289.4" r="0.62" fill="#ee0000"/>
<circle cx="348.9" cy="291.4" r="0.62" fill="#ee0000"/>
<circle cx="344.5" cy="292.6" r="0.62" fill="#22dd22"/>
<circle cx="341.2" cy="293.5" r="0.62" fill="#ee0000"/>
<circle cx="335.7" cy="294.4" r="0.62" fill="#ee0000"/>
<circle cx="327.3" cy="294.8" r="0.62" fill="#ee0000"/>
<circle cx="324.8" cy="295.3" r="0.62" fill="#22dd22"/>
<circle cx="319.1" cy="296.0" r="0.62" fill="#ee0000"/>
<circle cx="309.8" cy="295.9" r="0.62" fill="#ee0000"/>
<circle cx="304.2" cy="295.9" r="0.62" fill="#22dd22"/>
<circle cx="297.4" cy="295.6" r="0.62" fill="#ee0000"/>
<circle cx="292.7" cy="294.9" r="0.62" fill="#ee0000"/>
<circle cx="285.3" cy="294.5" r="0.62" fill="#ee0000"/>
<circle cx="276.9" cy="293.1" r="0.62" fill="#ee0000"/>
<circle cx="271.4" cy="292.0" r="0.62" fill="#ee0000"/>
<circle cx="269.3" cy="290.6" r="0.62" fill="#ee0000"/>
<circle cx="266.8" cy="289.1" r="0.62" fill="#22dd22"/>
<circle cx="263.2" cy="287.9" r="0.62" fill="#ee0000"/>
<circle cx="261.7" cy="286.3" r="0.62" fill="#22dd22"/>
<circle cx="262.2" cy="285.7" r="0.62" fill="#ee0000"/>
<circle cx="264.5" cy="284.1" r="0.62" fill="#22dd22"/>
<circle cx="264.3" cy="282.7" r="0.62" fill="#22dd22"/>
<circle cx="267.6" cy="281.1" r="0.62" fill="#22dd22"/>
<circle cx="269.1" cy="279.6" r="0.62" fill="#22dd22"/>
<circle cx="274.6" cy="277.8" r="0.62" fill="#22dd22"/>
<circle cx="279.0" cy="277.8" r="0.62" fill="#22dd22"/>
<circle cx="285.3" cy="276.2" r="0.62" fill="#ee0000"/>
<circle cx="289.1" cy="275.7" r="0.62" fill="#22dd22"/>
<circle cx="297.0" cy="275.1" r="0.62" fill="#22dd22"/>
<circle cx="302.0" cy="275.1" r="0.62" fill="#22dd22"/>
<circle cx="312.1" cy="274.5" r="0.62" fill="#ee0000"/>
<circle cx="314.6" cy="275.0" r="0.62" fill="#ee0000"/>
<circle cx="323.5" cy="275.6" r="0.62" fill="#22dd22"/>
<circle cx="327.3" cy="275.9" r="0.62" fill="#22dd22"/>
<circle cx="336.1" cy="276.4" r="0.62" fill="#ee0000"/>
<circle cx="340.3" cy="277.5" r="0.62" fill="#ee0000"/>
<circle cx="347.5" cy="278.4" r="0.62" fill="#ee0000"/>
<circle cx="349.8" cy="279.2" r="0.62" fill="#22dd22"/>
<circle cx="352.7" cy="281.3" r="0.62" fill="#ee0000"/>
<circle cx="356.2" cy="282.0" r="0.62" fill="#ee0000"/>
<circle cx="358.8" cy="283.9" r="0.62" fill="#ee0000"/>
<circle cx="358.3" cy="285.4" r="0.62" fill="#22dd22"/>
<circle cx="264.2" cy="290.4" r="0.62" fill="#22dd22"/>
<circle cx="262.1" cy="289.4" r="0.62" fill="#22dd22"/>
<circle cx="257.6" cy="287.7" r="0.62" fill="#ee0000"/>
<circle cx="258.8" cy="285.8" r="0.62" fill="#ee0000"/>
<circle cx="258.8" cy="284.5" r="0.62" fill="#ee0000"/>
<circle cx="257.7" cy="282.8" r="0.62" fill="#ee0000"/>
<circle cx="259.7" cy="282.1" r="0.62" fill="#22dd22"/>
<circle cx="263.3" cy="280.6" r="0.62" fill="#22dd22"/>
<circle cx="264.5" cy="278.7" r="0.62" fill="#22dd22"/>
<circle cx="271.2" cy="277.4" r="0.62" fill="#22dd22"/>
<circle cx="274.0" cy="276.9" r="0.62" fill="#ee0000"/>
<circle cx="280.7" cy="275.2" r="0.62" fill="#ee0000"/>
<circle cx="284.9" cy="275.1" r="0.62" fill="#ee0000"/>
<circle cx="291.1" cy="274.5" r="0.62" fill="#ee0000"/>
<circle cx="298.0" cy="273.7" r="0.62" fill="#22dd22"/>
<circle cx="306.4" cy="273.6" r="0.62" fill="#ee0000"/>
<circle cx="312.8" cy="273.3" r="0.62" fill="#ee0000"/>
<circle cx="315.6" cy="273.7" r="0.62" fill="#22dd22"/>
<circle cx="325.6" cy="273.7" r="0.62" fill="#22dd22"/>
<circle cx="331.9" cy="275.0" r="0.62" fill="#22dd22"/>
<circle cx="337.6" cy="275.7" r="0.62" fill="#ee0000"/>
<circle cx="344.6" cy="276.0" r="0.62" fill="#ee0000"/>
<circle cx="347.3" cy="277.4" r="0.62" fill="#22dd22"/>
<circle cx="351.9" cy="278.5" r="0.62" fill="#ee0000"/>
<circle cx="356.6" cy="279.8" r="0.62" fill="#22dd22"/>
<circle cx="358.1" cy="280.8" r="0.62" fill="#22dd22"/>
<circle cx="361.2" cy="282.5" r="0.62" fill="#22dd22"/>
<circle cx="363.2" cy="284.0" r="0.62" fill="#22dd22"/>
<circle cx="364.0" cy="285.1" r="0.62" fill="#22dd22"/>
<circle cx="363.2" cy="287.2" r="0.62" fill="#22dd22"/>
<circle cx="362.2" cy="288.7" r="0.62" fill="#22dd22"/>
<circle cx="359.7" cy="289.7" r="0.62" fill="#22dd22"/>
<circle cx="356.1" cy="290.9" r="0.62" fill="#ee0000"/>
<circle cx="353.1" cy="292.7" r="0.62" fill="#ee0000"/>
<circle cx="348.5" cy="293.0" r="0.62" fill="#ee0000"/>
<circle cx="345.1" cy="294.5" r="0.62" fill="#ee0000"/>
<circle cx="337.7" cy="294.9" r="0.62" fill="#22dd22"/>
<circle cx="329.9" cy="295.9" r="0.62" fill="#ee0000"/>
<circle cx="325.6" cy="296.6" r="0.62" fill="#22dd22"/>
<circle cx="320.8" cy="296.4" r="0.62" fill="#ee0000"/>
<circle cx="313.4" cy="296.8" r="0.62" fill="#22dd22"/>
<circle cx="304.8" cy="296.7" r="0.62" fill="#ee0000"/>
<circle cx="299.9" cy="296.5" r="0.62" fill="#22dd22"/>
<circle cx="292.9" cy="296.4" r="0.62" fill="#22dd22"/>
<circle cx="286.3" cy="295.5" r="0.62" fill="#22dd22"/>
<circle cx="278.6" cy="294.6" r="0.62" fill="#22dd22"/>
<circle cx="273.0" cy="293.6" r="0.62" fill="#ee0000"/>
<circle cx="270.4" cy="293.6" r="0.62" fill="#22dd22"/>
<circle cx="266.2" cy="291.9" r="0.62" fill="#ee0000"/>
<circle cx="298.1" cy="298.1" r="0.62" fill="#ee0000"/>
<circle cx="297.1" cy="297.9" r="0.62" fill="#ee0000"/>
<circle cx="285.9" cy="297.2" r="0.62" fill="#22dd22"/>
<circle cx="283.9" cy="296.5" r="0.62" fill="#ee0000"/>
<circle cx="276.2" cy="296.2" r="0.62" fill="#ee0000"/>
<circle cx="268.7" cy="294.9" r="0.62" fill="#ee0000"/>
<circle cx="266.5" cy="293.4" r="0.62" fill="#22dd22"/>
<circle cx="262.3" cy="293.1" r="0.62" fill="#22dd22"/>
<circle cx="258.6" cy="290.6" r="0.62" fill="#ee0000"/>
<circle cx="256.3" cy="289.4" r="0.62" fill="#ee0000"/>
<circle cx="251.8" cy="288.4" r="0.62" fill="#22dd22"/>
<circle cx="252.7" cy="286.3" r="0.62" fill="#22dd22"/>
<circle cx="250.3" cy="285.3" r="0.62" fill="#ee0000"/>
<circle cx="253.6" cy="283.3" r="0.62" fill="#22dd22"/>
<circle cx="254.7" cy="282.2" r="0.62" fill="#22dd22"/>
<circle cx="255.8" cy="281.0" r="0.62" fill="#ee0000"/>
<circle cx="258.0" cy="279.6" r="0.62" fill="#22dd22"/>
<circle cx="260.9" cy="278.1" r="0.62" fill="#ee0000"/>
<circle cx="265.8" cy="276.9" r="0.62" fill="#22dd22"/>
<circle cx="272.1" cy="275.4" r="0.62" fill="#ee0000"/>
<circle cx="275.3" cy="274.7" r="0.62" fill="#ee0000"/>
<circle cx="282.6" cy="274.0" r="0.62" fill="#ee0000"/>
<circle cx="290.8" cy="272.9" r="0.62" fill="#ee0000"/>
<circle cx="295.8" cy="273.0" r="0.62" fill="#ee0000"/>
<circle cx="302.1" cy="272.7" r="0.62" fill="#ee0000"/>
<circle cx="308.0" cy="272.3" r="0.62" fill="#ee0000"/>
<circle cx="313.8" cy="272.2" r="0.62" fill="#ee0000"/>
<circle cx="324.9" cy="272.8" r="0.62" fill="#22dd22"/>
<circle cx="328.4" cy="272.8" r="0.62" fill="#ee0000"/>
<circle cx="332.9" cy="273.8" r="0.62" fill="#22dd22"/>
<circle cx="341.7" cy="274.8" r="0.62" fill="#ee0000"/>
<circle cx="348.7" cy="275.6" r="0.62" fill="#ee0000"/>
<circle cx="350.0" cy="276.3" r="0.62" fill="#ee0000"/>
<circle cx="354.9" cy="277.6" r="0.62" fill="#22dd22"/>
<circle cx="360.1" cy="278.7" r="0.62" fill="#22dd22"/>
<circle cx="365.1" cy="280.4" r="0.62" fill="#ee0000"/>
<circle cx="365.2" cy="281.4" r="0.62" fill="#ee0000"/>
<circle cx="367.9" cy="282.9" r="0.62" fill="#22dd22"/>
<circle cx="368.8" cy="285.0" r="0.62" fill="#22dd22"/>
<circle cx="367.6" cy="285.5" r="0.62" fill="#ee0000"/>
<circle cx="365.7" cy="287.8" r="0.62" fill="#ee0000"/>
<circle cx="366.5" cy="289.2" r="0.62" fill="#22dd22"/>
<circle cx="361.7" cy="290.6" r="0.62" fill="#22dd22"/>
<circle cx="358.8" cy="292.4" r="0.62" fill="#ee0000"/>
<circle cx="355.0" cy="293.0" r="0.62" fill="#22dd22"/>
<circle cx="349.5" cy="294.8" r="0.62" fill="#22dd22"/>
<circle cx="344.2" cy="295.4" r="0.62" fill="#22dd22"/>
<circle cx="339.6" cy="296.1" r="0.62" fill="#ee0000"/>
<circle cx="336.2" cy="296.9" r="0.62" fill="#22dd22"/>
<circle cx="329.8" cy="297.8" r="0.62" fill="#ee0000"/>
<circle cx="321.6" cy="297.6" r="0.62" fill="#22dd22"/>
<circle cx="317.1" cy="298.4" r="0.62" fill="#22dd22"/>
<circle cx="307.6" cy="298.2" r="0.62" fill="#ee0000"/>
<circle cx="266.4" cy="276.9" r="1.50" fill="#ee0000"/>
<circle cx="265.4" cy="279.3" r="1.50" fill="#22dd22"/>
<circle cx="256.5" cy="284.5" r="1.50" fill="#22dd22"/>
<circle cx="263.5" cy="284.0" r="1.50" fill="#ee0000"/>
<circle cx="273.0" cy="281.2" r="1.50" fill="#22dd22"/>
<circle cx="257.4" cy="290.1" r="1.50" fill="#22dd22"/>
<circle cx="266.4" cy="290.4" r="1.50" fill="#22dd22"/>
<circle cx="269.5" cy="294.2" r="1.50" fill="#22dd22"/>
<circle cx="274.5" cy="294.2" r="1.50" fill="#ee0000"/>
<circle cx="289.4" cy="275.3" r="1.50" fill="#ee0000"/>
<circle cx="279.1" cy="287.3" r="1.50" fill="#ee0000"/>
<circle cx="288.0" cy="288.0" r="1.50" fill="#ee0000"/>
<circle cx="297.4" cy="294.6" r="1.50" fill="#22dd22"/>
<circle cx="307.1" cy="292.7" r="1.50" fill="#ee0000"/>
<circle cx="327.3" cy="277.2" r="1.50" fill="#22dd22"/>
<circle cx="329.2" cy="279.3" r="1.50" fill="#ee0000"/>
<circle cx="322.1" cy="280.2" r="1.50" fill="#ee0000"/>
<circle cx="334.8" cy="283.1" r="1.50" fill="#ee0000"/>
<circle cx="327.3" cy="293.4" r="1.50" fill="#ee0000"/>
<circle cx="339.8" cy="297.9" r="1.50" fill="#ee0000"/>
<circle cx="346.1" cy="276.7" r="1.50" fill="#22dd22"/>
<circle cx="348.0" cy="280.2" r="1.50" fill="#22dd22"/>
<circle cx="354.1" cy="281.2" r="1.50" fill="#22dd22"/>
<circle cx="357.0" cy="279.1" r="1.50" fill="#22dd22"/>
<circle cx="351.3" cy="285.4" r="1.50" fill="#ee0000"/>
<circle cx="359.8" cy="281.9" r="1.50" fill="#ee0000"/>
<circle cx="364.3" cy="282.9" r="1.50" fill="#ee0000"/>
<circle cx="369.0" cy="287.1" r="1.50" fill="#22dd22"/>
<circle cx="350.2" cy="292.5" r="1.50" fill="#22dd22"/>
<circle cx="302.6" cy="229.4" r="1.45" fill="#ee0000"/>
<circle cx="304.2" cy="227.6" r="1.45" fill="#22dd22"/>
<circle cx="309.8" cy="226.6" r="1.45" fill="#ee0000"/>
<circle cx="310.8" cy="229.2" r="1.45" fill="#22dd22"/>
<circle cx="314.4" cy="225.6" r="1.45" fill="#22dd22"/>
<circle cx="319.5" cy="227.3" r="1.45" fill="#22dd22"/>
<circle cx="319.8" cy="228.9" r="1.45" fill="#22dd22"/>
<circle cx="327.5" cy="225.0" r="1.45" fill="#ee0000"/>
<circle cx="327.3" cy="227.8" r="1.45" fill="#ee0000"/>
<circle cx="332.5" cy="227.0" r="1.45" fill="#22dd22"/>
<circle cx="335.0" cy="225.6" r="1.45" fill="#22dd22"/>
<circle cx="335.3" cy="229.3" r="1.45" fill="#22dd22"/>
<circle cx="340.3" cy="226.2" r="1.45" fill="#22dd22"/>
<circle cx="341.9" cy="227.6" r="1.45" fill="#22dd22"/>
<circle cx="344.0" cy="230.3" r="1.45" fill="#22dd22"/>
<circle cx="347.5" cy="227.8" r="1.45" fill="#22dd22"/>
<circle cx="350.5" cy="229.5" r="1.45" fill="#ee0000"/>
<circle cx="283.8" cy="252.4" r="0.70" fill="#22dd22"/>
<circle cx="287.8" cy="251.5" r="0.70" fill="#ee0000"/>
<circle cx="292.3" cy="251.2" r="0.70" fill="#22dd22"/>
<circle cx="296.8" cy="251.6" r="0.70" fill="#22dd22"/>
<circle cx="305.5" cy="251.8" r="0.70" fill="#ee0000"/>
<circle cx="312.4" cy="245.5" r="1.40" fill="#22dd22"/>
<circle cx="318.2" cy="258.4" r="1.40" fill="#22dd22"/>
<circle cx="302.6" cy="307.8" r="1.40" fill="#ee0000"/>
<path d="M353.3 303.1 C 365 296, 378 298, 375 304 C 372 309, 362 306, 353.3 303.1" fill="none" stroke="#d6d6d6" stroke-width="0.4"/>
<line x1="353.30" y1="303.10" x2="364.60" y2="312.00" stroke="#d8d8d8" stroke-width="0.3"/>
<circle cx="364.6" cy="312.0" r="0.70" fill="#22dd22"/>
<line x1="353.30" y1="303.10" x2="370.70" y2="312.00" stroke="#d8d8d8" stroke-width="0.3"/>
<circle cx="370.7" cy="312.0" r="1.40" fill="#ee0000"/>
<line x1="353.30" y1="303.10" x2="377.40" y2="311.20" stroke="#d8d8d8" stroke-width="0.3"/>
<circle cx="377.4" cy="311.2" r="1.40" fill="#22dd22"/>
<line x1="353.30" y1="303.10" x2="376.50" y2="310.00" stroke="#d8d8d8" stroke-width="0.3"/>
<circle cx="376.5" cy="310.0" r="1.00" fill="#22dd22"/>
<line x1="296.10" y1="328.20" x2="284.90" y2="335.20" stroke="#d8d8d8" stroke-width="0.3"/>
<circle cx="284.9" cy="335.2" r="1.40" fill="#ee0000"/>
<line x1="296.10" y1="328.20" x2="293.00" y2="335.20" stroke="#d8d8d8" stroke-width="0.3"/>
<circle cx="293.0" cy="335.2" r="1.40" fill="#22dd22"/>
<line x1="296.10" y1="328.20" x2="301.20" y2="335.20" stroke="#d8d8d8" stroke-width="0.3"/>
<circle cx="301.2" cy="335.2" r="1.40" fill="#ee0000"/>
<line x1="296.10" y1="328.20" x2="290.40" y2="338.40" stroke="#d8d8d8" stroke-width="0.3"/>
<circle cx="290.4" cy="338.4" r="1.40" fill="#22dd22"/>
<line x1="296.10" y1="328.20" x2="295.70" y2="338.40" stroke="#d8d8d8" stroke-width="0.3"/>
<circle cx="295.7" cy="338.4" r="1.40" fill="#ee0000"/>
<circle cx="289.6" cy="352.0" r="0.50" fill="#ee0000"/>
<circle cx="324.4" cy="233.7" r="3.10" fill="#ffff00" stroke="#d8d000" stroke-width="0.3"/>
<line x1="322.07" y1="233.70" x2="326.72" y2="233.70" stroke="#555" stroke-width="0.7"/>
<circle cx="301.8" cy="259.9" r="3.10" fill="#ffff00" stroke="#d8d000" stroke-width="0.3"/>
<line x1="299.48" y1="259.90" x2="304.12" y2="259.90" stroke="#555" stroke-width="0.7"/>
<circle cx="310.0" cy="285.3" r="3.10" fill="#ffff00" stroke="#d8d000" stroke-width="0.3"/>
<line x1="307.68" y1="285.30" x2="312.32" y2="285.30" stroke="#555" stroke-width="0.7"/>
<circle cx="353.3" cy="303.1" r="3.10" fill="#ffff00" stroke="#d8d000" stroke-width="0.3"/>
<line x1="350.98" y1="303.10" x2="355.62" y2="303.10" stroke="#555" stroke-width="0.7"/>
<circle cx="296.1" cy="328.2" r="3.10" fill="#ffff00" stroke="#d8d000" stroke-width="0.3"/>
<line x1="293.78" y1="328.20" x2="298.43" y2="328.20" stroke="#555" stroke-width="0.7"/>
<circle cx="291.0" cy="345.0" r="3.10" fill="#ffff00" stroke="#d8d000" stroke-width="0.3"/>
<line x1="288.68" y1="345.00" x2="293.32" y2="345.00" stroke="#555" stroke-width="0.7"/>
<line x1="428.20" y1="298.40" x2="403.50" y2="281.10" stroke="#d4d4d4" stroke-width="0.3"/>
<line x1="428.20" y1="298.40" x2="433.40" y2="281.00" stroke="#d4d4d4" stroke-width="0.3"/>
<line x1="428.20" y1="298.40" x2="451.50" y2="281.00" stroke="#d4d4d4" stroke-width="0.3"/>
<line x1="428.20" y1="298.40" x2="463.40" y2="281.60" stroke="#d4d4d4" stroke-width="0.3"/>
<line x1="428.20" y1="298.40" x2="396.30" y2="291.90" stroke="#d4d4d4" stroke-width="0.3"/>
<line x1="428.20" y1="298.40" x2="415.00" y2="297.00" stroke="#d4d4d4" stroke-width="0.3"/>
<line x1="428.20" y1="298.40" x2="390.50" y2="301.50" stroke="#d4d4d4" stroke-width="0.3"/>
<line x1="428.20" y1="298.40" x2="458.50" y2="293.50" stroke="#d4d4d4" stroke-width="0.3"/>
<line x1="428.20" y1="298.40" x2="440.30" y2="302.40" stroke="#d4d4d4" stroke-width="0.3"/>
<line x1="428.20" y1="298.40" x2="466.00" y2="302.20" stroke="#d4d4d4" stroke-width="0.3"/>
<line x1="428.20" y1="298.40" x2="453.30" y2="307.00" stroke="#d4d4d4" stroke-width="0.3"/>
<line x1="428.20" y1="298.40" x2="402.60" y2="306.70" stroke="#d4d4d4" stroke-width="0.3"/>
<line x1="428.20" y1="298.40" x2="393.40" y2="316.40" stroke="#d4d4d4" stroke-width="0.3"/>
<line x1="428.20" y1="298.40" x2="425.50" y2="316.30" stroke="#d4d4d4" stroke-width="0.3"/>
<line x1="428.20" y1="298.40" x2="453.80" y2="322.20" stroke="#d4d4d4" stroke-width="0.3"/>
<line x1="428.20" y1="298.40" x2="464.10" y2="317.30" stroke="#d4d4d4" stroke-width="0.3"/>
<line x1="428.20" y1="298.40" x2="411.00" y2="322.60" stroke="#d4d4d4" stroke-width="0.3"/>
<line x1="428.20" y1="298.40" x2="400.00" y2="325.50" stroke="#d4d4d4" stroke-width="0.3"/>
<line x1="428.20" y1="298.40" x2="439.60" y2="326.90" stroke="#d4d4d4" stroke-width="0.3"/>
<line x1="428.20" y1="298.40" x2="448.40" y2="335.40" stroke="#d4d4d4" stroke-width="0.3"/>
<line x1="428.20" y1="298.40" x2="459.60" y2="333.40" stroke="#d4d4d4" stroke-width="0.3"/>
<line x1="428.20" y1="298.40" x2="420.60" y2="335.20" stroke="#d4d4d4" stroke-width="0.3"/>
<line x1="428.20" y1="298.40" x2="432.50" y2="339.60" stroke="#d4d4d4" stroke-width="0.3"/>
<line x1="428.20" y1="298.40" x2="403.00" y2="337.40" stroke="#d4d4d4" stroke-width="0.3"/>
<line x1="428.20" y1="298.40" x2="411.00" y2="344.00" stroke="#d4d4d4" stroke-width="0.3"/>
<line x1="428.20" y1="298.40" x2="449.30" y2="347.30" stroke="#d4d4d4" stroke-width="0.3"/>
<line x1="428.20" y1="298.40" x2="419.40" y2="350.60" stroke="#d4d4d4" stroke-width="0.3"/>
<line x1="428.20" y1="298.40" x2="439.40" y2="351.00" stroke="#d4d4d4" stroke-width="0.3"/>
<line x1="428.20" y1="298.40" x2="429.00" y2="353.00" stroke="#d4d4d4" stroke-width="0.3"/>
<line x1="428.20" y1="298.40" x2="415.50" y2="244.40" stroke="#d4d4d4" stroke-width="0.3"/>
<line x1="428.20" y1="298.40" x2="425.70" y2="244.00" stroke="#d4d4d4" stroke-width="0.3"/>
<line x1="428.20" y1="298.40" x2="435.00" y2="242.50" stroke="#d4d4d4" stroke-width="0.3"/>
<line x1="428.20" y1="298.40" x2="405.70" y2="251.30" stroke="#d4d4d4" stroke-width="0.3"/>
<line x1="428.20" y1="298.40" x2="441.70" y2="250.70" stroke="#d4d4d4" stroke-width="0.3"/>
<line x1="428.20" y1="298.40" x2="420.00" y2="258.00" stroke="#d4d4d4" stroke-width="0.3"/>
<line x1="428.20" y1="298.40" x2="450.60" y2="254.40" stroke="#d4d4d4" stroke-width="0.3"/>
<line x1="428.20" y1="298.40" x2="431.30" y2="260.60" stroke="#d4d4d4" stroke-width="0.3"/>
<line x1="428.20" y1="298.40" x2="407.80" y2="264.20" stroke="#d4d4d4" stroke-width="0.3"/>
<line x1="428.20" y1="298.40" x2="398.00" y2="265.90" stroke="#d4d4d4" stroke-width="0.3"/>
<line x1="428.20" y1="298.40" x2="444.30" y2="267.70" stroke="#d4d4d4" stroke-width="0.3"/>
<line x1="428.20" y1="298.40" x2="457.40" y2="266.30" stroke="#d4d4d4" stroke-width="0.3"/>
<line x1="428.20" y1="298.40" x2="416.30" y2="274.20" stroke="#d4d4d4" stroke-width="0.3"/>
<line x1="428.20" y1="298.40" x2="392.30" y2="278.60" stroke="#d4d4d4" stroke-width="0.3"/>
<path d="M428.2 298.4 C 440 292, 452 294, 449 299 C 446 303, 436 301, 428.2 298.4" fill="none" stroke="#d6d6d6" stroke-width="0.4"/>
<circle cx="403.5" cy="281.1" r="1.40" fill="#22dd22"/>
<circle cx="433.4" cy="281.0" r="1.40" fill="#22dd22"/>
<circle cx="451.5" cy="281.0" r="1.40" fill="#22dd22"/>
<circle cx="463.4" cy="281.6" r="0.50" fill="#ee0000"/>
<circle cx="396.3" cy="291.9" r="0.60" fill="#22dd22"/>
<circle cx="415.0" cy="297.0" r="1.40" fill="#22dd22"/>
<circle cx="390.5" cy="301.5" r="0.50" fill="#ee0000"/>
<circle cx="458.5" cy="293.5" r="0.50" fill="#ee0000"/>
<circle cx="440.3" cy="302.4" r="1.40" fill="#22dd22"/>
<circle cx="466.0" cy="302.2" r="0.60" fill="#22dd22"/>
<circle cx="453.3" cy="307.0" r="0.60" fill="#22dd22"/>
<circle cx="402.6" cy="306.7" r="0.50" fill="#ee0000"/>
<circle cx="393.4" cy="316.4" r="0.60" fill="#22dd22"/>
<circle cx="425.5" cy="316.3" r="1.40" fill="#22dd22"/>
<circle cx="453.8" cy="322.2" r="1.40" fill="#ee0000"/>
<circle cx="464.1" cy="317.3" r="1.40" fill="#22dd22"/>
<circle cx="411.0" cy="322.6" r="0.50" fill="#ee0000"/>
<circle cx="400.0" cy="325.5" r="0.50" fill="#ee0000"/>
<circle cx="439.6" cy="326.9" r="1.40" fill="#22dd22"/>
<circle cx="448.4" cy="335.4" r="1.40" fill="#22dd22"/>
<circle cx="459.6" cy="333.4" r="1.40" fill="#22dd22"/>
<circle cx="420.6" cy="335.2" r="1.40" fill="#ee0000"/>
<circle cx="432.5" cy="339.6" r="1.40" fill="#22dd22"/>
<circle cx="403.0" cy="337.4" r="0.50" fill="#ee0000"/>
<circle cx="411.0" cy="344.0" r="0.60" fill="#22dd22"/>
<circle cx="449.3" cy="347.3" r="1.40" fill="#22dd22"/>
<circle cx="419.4" cy="350.6" r="0.60" fill="#22dd22"/>
<circle cx="439.4" cy="351.0" r="1.40" fill="#22dd22"/>
<circle cx="429.0" cy="353.0" r="1.40" fill="#ee0000"/>
<circle cx="415.5" cy="244.4" r="1.40" fill="#ee0000"/>
<circle cx="425.7" cy="244.0" r="0.50" fill="#ee0000"/>
<circle cx="435.0" cy="242.5" r="1.40" fill="#ee0000"/>
<circle cx="405.7" cy="251.3" r="1.40" fill="#22dd22"/>
<circle cx="441.7" cy="250.7" r="0.50" fill="#ee0000"/>
<circle cx="420.0" cy="258.0" r="0.60" fill="#22dd22"/>
<circle cx="450.6" cy="254.4" r="1.40" fill="#ee0000"/>
<circle cx="431.3" cy="260.6" r="1.40" fill="#22dd22"/>
<circle cx="407.8" cy="264.2" r="1.40" fill="#ee0000"/>
<circle cx="398.0" cy="265.9" r="0.50" fill="#ee0000"/>
<circle cx="444.3" cy="267.7" r="1.40" fill="#22dd22"/>
<circle cx="457.4" cy="266.3" r="1.40" fill="#22dd22"/>
<circle cx="416.3" cy="274.2" r="0.50" fill="#ee0000"/>
<circle cx="392.3" cy="278.6" r="0.50" fill="#ee0000"/>
<line x1="506.00" y1="249.00" x2="494.20" y2="226.60" stroke="#d8d8d8" stroke-width="0.3"/>
<circle cx="494.2" cy="226.6" r="1.40" fill="#ee0000"/>
<line x1="506.00" y1="249.00" x2="504.90" y2="226.20" stroke="#d8d8d8" stroke-width="0.3"/>
<circle cx="504.9" cy="226.2" r="1.40" fill="#ee0000"/>
<line x1="506.00" y1="249.00" x2="517.30" y2="246.80" stroke="#d8d8d8" stroke-width="0.3"/>
<circle cx="517.3" cy="246.8" r="1.40" fill="#ee0000"/>
<line x1="506.00" y1="249.00" x2="517.60" y2="270.70" stroke="#d8d8d8" stroke-width="0.3"/>
<circle cx="517.6" cy="270.7" r="1.40" fill="#ee0000"/>
<line x1="506.00" y1="249.00" x2="507.50" y2="274.30" stroke="#d8d8d8" stroke-width="0.3"/>
<circle cx="507.5" cy="274.3" r="0.50" fill="#ee0000"/>
<circle cx="428.2" cy="298.4" r="3.40" fill="#ffff00" stroke="#d8d000" stroke-width="0.3"/>
<line x1="425.65" y1="298.40" x2="430.75" y2="298.40" stroke="#555" stroke-width="0.7"/>
<circle cx="506.0" cy="249.0" r="3.10" fill="#ffff00" stroke="#d8d000" stroke-width="0.3"/>
<line x1="503.68" y1="249.00" x2="508.32" y2="249.00" stroke="#555" stroke-width="0.7"/>
<line x1="551.70" y1="241.80" x2="632.60" y2="253.20" stroke="#cccccc" stroke-width="0.5"/>
<line x1="551.70" y1="241.80" x2="591.60" y2="247.60" stroke="#cccccc" stroke-width="0.4"/>
<line x1="591.60" y1="247.60" x2="632.60" y2="253.20" stroke="#cccccc" stroke-width="0.4"/>
<line x1="551.70" y1="241.80" x2="552.50" y2="267.00" stroke="#d8d8d8" stroke-width="0.4"/>
<line x1="552.50" y1="267.00" x2="557.70" y2="289.50" stroke="#d8d8d8" stroke-width="0.4"/>
<line x1="551.70" y1="241.80" x2="556.90" y2="275.00" stroke="#d8d8d8" stroke-width="0.4"/>
<line x1="556.90" y1="275.00" x2="557.70" y2="289.50" stroke="#d8d8d8" stroke-width="0.4"/>
<line x1="632.60" y1="253.20" x2="594.60" y2="272.30" stroke="#d8d8d8" stroke-width="0.4"/>
<line x1="594.60" y1="272.30" x2="557.70" y2="289.50" stroke="#d8d8d8" stroke-width="0.4"/>
<line x1="632.60" y1="253.20" x2="598.80" y2="279.30" stroke="#d8d8d8" stroke-width="0.4"/>
<line x1="598.80" y1="279.30" x2="565.50" y2="302.10" stroke="#d8d8d8" stroke-width="0.4"/>
<line x1="565.50" y1="302.10" x2="552.00" y2="323.50" stroke="#d8d8d8" stroke-width="0.4"/>
<line x1="552.00" y1="323.50" x2="540.60" y2="341.20" stroke="#d8d8d8" stroke-width="0.4"/>
<path d="M557.7 289.5 C 568 284, 580 286, 578 290 C 575 295, 565 293, 557.7 289.5" fill="none" stroke="#d6d6d6" stroke-width="0.4"/>
<path d="M540.6 341.2 C 552 336, 563 337, 561 341 C 559 346, 548 345, 540.6 341.2" fill="none" stroke="#d6d6d6" stroke-width="0.4"/>
<line x1="551.70" y1="241.80" x2="543.89" y2="245.38" stroke="#d6d6d6" stroke-width="0.25"/>
<line x1="551.70" y1="241.80" x2="540.33" y2="243.93" stroke="#d6d6d6" stroke-width="0.25"/>
<line x1="551.70" y1="241.80" x2="538.78" y2="240.67" stroke="#d6d6d6" stroke-width="0.25"/>
<line x1="551.70" y1="241.80" x2="540.12" y2="237.20" stroke="#d6d6d6" stroke-width="0.25"/>
<line x1="551.70" y1="241.80" x2="543.12" y2="235.62" stroke="#d6d6d6" stroke-width="0.25"/>
<line x1="551.70" y1="241.80" x2="546.88" y2="237.01" stroke="#d6d6d6" stroke-width="0.25"/>
<line x1="551.70" y1="241.80" x2="546.93" y2="243.98" stroke="#d6d6d6" stroke-width="0.25"/>
<line x1="551.70" y1="241.80" x2="540.39" y2="248.84" stroke="#d6d6d6" stroke-width="0.25"/>
<line x1="551.70" y1="241.80" x2="537.72" y2="246.87" stroke="#d6d6d6" stroke-width="0.25"/>
<line x1="551.70" y1="241.80" x2="535.84" y2="243.30" stroke="#d6d6d6" stroke-width="0.25"/>
<line x1="551.70" y1="241.80" x2="535.00" y2="239.98" stroke="#d6d6d6" stroke-width="0.25"/>
<line x1="551.70" y1="241.80" x2="535.94" y2="235.75" stroke="#d6d6d6" stroke-width="0.25"/>
<line x1="551.70" y1="241.80" x2="539.28" y2="233.29" stroke="#d6d6d6" stroke-width="0.25"/>
<line x1="551.70" y1="241.80" x2="542.31" y2="232.07" stroke="#d6d6d6" stroke-width="0.25"/>
<line x1="551.70" y1="241.80" x2="546.11" y2="232.52" stroke="#d6d6d6" stroke-width="0.25"/>
<line x1="551.70" y1="241.80" x2="549.78" y2="234.58" stroke="#d6d6d6" stroke-width="0.25"/>
<line x1="551.70" y1="241.80" x2="548.41" y2="247.71" stroke="#d6d6d6" stroke-width="0.25"/>
<line x1="551.70" y1="241.80" x2="544.30" y2="249.20" stroke="#d6d6d6" stroke-width="0.25"/>
<line x1="551.70" y1="241.80" x2="540.48" y2="252.48" stroke="#d6d6d6" stroke-width="0.25"/>
<line x1="551.70" y1="241.80" x2="537.02" y2="251.04" stroke="#d6d6d6" stroke-width="0.25"/>
<line x1="551.70" y1="241.80" x2="534.18" y2="248.23" stroke="#d6d6d6" stroke-width="0.25"/>
<line x1="551.70" y1="241.80" x2="532.76" y2="244.85" stroke="#d6d6d6" stroke-width="0.25"/>
<line x1="551.70" y1="241.80" x2="531.18" y2="241.75" stroke="#d6d6d6" stroke-width="0.25"/>
<line x1="551.70" y1="241.80" x2="532.11" y2="238.21" stroke="#d6d6d6" stroke-width="0.25"/>
<line x1="551.70" y1="241.80" x2="533.60" y2="234.19" stroke="#d6d6d6" stroke-width="0.25"/>
<line x1="551.70" y1="241.80" x2="535.68" y2="231.09" stroke="#d6d6d6" stroke-width="0.25"/>
<line x1="551.70" y1="241.80" x2="538.71" y2="229.55" stroke="#d6d6d6" stroke-width="0.25"/>
<line x1="551.70" y1="241.80" x2="542.06" y2="228.84" stroke="#d6d6d6" stroke-width="0.25"/>
<line x1="551.70" y1="241.80" x2="546.54" y2="229.12" stroke="#d6d6d6" stroke-width="0.25"/>
<line x1="551.70" y1="241.80" x2="549.62" y2="230.21" stroke="#d6d6d6" stroke-width="0.25"/>
<line x1="551.70" y1="241.80" x2="552.61" y2="232.65" stroke="#d6d6d6" stroke-width="0.25"/>
<line x1="551.70" y1="241.80" x2="554.89" y2="235.79" stroke="#d6d6d6" stroke-width="0.25"/>
<line x1="551.70" y1="241.80" x2="555.63" y2="239.21" stroke="#d6d6d6" stroke-width="0.25"/>
<line x1="551.70" y1="241.80" x2="555.58" y2="243.19" stroke="#d6d6d6" stroke-width="0.25"/>
<line x1="551.70" y1="241.80" x2="553.41" y2="246.59" stroke="#d6d6d6" stroke-width="0.25"/>
<line x1="551.70" y1="241.80" x2="551.01" y2="249.63" stroke="#d6d6d6" stroke-width="0.25"/>
<line x1="551.70" y1="241.80" x2="547.86" y2="251.64" stroke="#d6d6d6" stroke-width="0.25"/>
<line x1="551.70" y1="241.80" x2="544.72" y2="252.33" stroke="#d6d6d6" stroke-width="0.25"/>
<line x1="551.70" y1="241.80" x2="542.18" y2="225.18" stroke="#d6d6d6" stroke-width="0.25"/>
<line x1="551.70" y1="241.80" x2="546.54" y2="225.54" stroke="#d6d6d6" stroke-width="0.25"/>
<line x1="551.70" y1="241.80" x2="549.70" y2="226.66" stroke="#d6d6d6" stroke-width="0.25"/>
<line x1="551.70" y1="241.80" x2="552.57" y2="228.57" stroke="#d6d6d6" stroke-width="0.25"/>
<line x1="551.70" y1="241.80" x2="555.13" y2="231.12" stroke="#d6d6d6" stroke-width="0.25"/>
<line x1="551.70" y1="241.80" x2="556.79" y2="234.37" stroke="#d6d6d6" stroke-width="0.25"/>
<line x1="551.70" y1="241.80" x2="558.10" y2="237.54" stroke="#d6d6d6" stroke-width="0.25"/>
<line x1="551.70" y1="241.80" x2="558.27" y2="241.12" stroke="#d6d6d6" stroke-width="0.25"/>
<line x1="551.70" y1="241.80" x2="557.99" y2="244.61" stroke="#d6d6d6" stroke-width="0.25"/>
<line x1="551.70" y1="241.80" x2="556.22" y2="248.50" stroke="#d6d6d6" stroke-width="0.25"/>
<line x1="551.70" y1="241.80" x2="554.42" y2="250.82" stroke="#d6d6d6" stroke-width="0.25"/>
<line x1="551.70" y1="241.80" x2="551.41" y2="253.63" stroke="#d6d6d6" stroke-width="0.25"/>
<line x1="551.70" y1="241.80" x2="547.78" y2="254.51" stroke="#d6d6d6" stroke-width="0.25"/>
<line x1="551.70" y1="241.80" x2="544.19" y2="255.72" stroke="#d6d6d6" stroke-width="0.25"/>
<line x1="551.70" y1="241.80" x2="540.58" y2="255.08" stroke="#d6d6d6" stroke-width="0.25"/>
<line x1="551.70" y1="241.80" x2="537.49" y2="254.44" stroke="#d6d6d6" stroke-width="0.25"/>
<line x1="551.70" y1="241.80" x2="533.98" y2="252.16" stroke="#d6d6d6" stroke-width="0.25"/>
<line x1="551.70" y1="241.80" x2="531.53" y2="249.66" stroke="#d6d6d6" stroke-width="0.25"/>
<line x1="551.70" y1="241.80" x2="529.77" y2="246.62" stroke="#d6d6d6" stroke-width="0.25"/>
<line x1="551.70" y1="241.80" x2="528.48" y2="242.84" stroke="#d6d6d6" stroke-width="0.25"/>
<line x1="551.70" y1="241.80" x2="528.83" y2="240.02" stroke="#d6d6d6" stroke-width="0.25"/>
<line x1="551.70" y1="241.80" x2="529.53" y2="236.41" stroke="#d6d6d6" stroke-width="0.25"/>
<line x1="551.70" y1="241.80" x2="530.84" y2="233.04" stroke="#d6d6d6" stroke-width="0.25"/>
<line x1="551.70" y1="241.80" x2="532.88" y2="229.75" stroke="#d6d6d6" stroke-width="0.25"/>
<line x1="551.70" y1="241.80" x2="535.49" y2="227.34" stroke="#d6d6d6" stroke-width="0.25"/>
<line x1="551.70" y1="241.80" x2="538.83" y2="226.44" stroke="#d6d6d6" stroke-width="0.25"/>
<line x1="632.60" y1="253.20" x2="629.52" y2="247.59" stroke="#d6d6d6" stroke-width="0.25"/>
<line x1="632.60" y1="253.20" x2="632.53" y2="245.79" stroke="#d6d6d6" stroke-width="0.25"/>
<line x1="632.60" y1="253.20" x2="635.85" y2="245.40" stroke="#d6d6d6" stroke-width="0.25"/>
<line x1="632.60" y1="253.20" x2="639.56" y2="245.91" stroke="#d6d6d6" stroke-width="0.25"/>
<line x1="632.60" y1="253.20" x2="641.56" y2="248.76" stroke="#d6d6d6" stroke-width="0.25"/>
<line x1="632.60" y1="253.20" x2="642.56" y2="251.86" stroke="#d6d6d6" stroke-width="0.25"/>
<line x1="632.60" y1="253.20" x2="642.89" y2="255.83" stroke="#d6d6d6" stroke-width="0.25"/>
<line x1="632.60" y1="253.20" x2="640.91" y2="258.35" stroke="#d6d6d6" stroke-width="0.25"/>
<line x1="632.60" y1="253.20" x2="637.36" y2="260.15" stroke="#d6d6d6" stroke-width="0.25"/>
<line x1="632.60" y1="253.20" x2="633.89" y2="260.72" stroke="#d6d6d6" stroke-width="0.25"/>
<line x1="632.60" y1="253.20" x2="631.06" y2="259.62" stroke="#d6d6d6" stroke-width="0.25"/>
<line x1="632.60" y1="253.20" x2="628.27" y2="257.42" stroke="#d6d6d6" stroke-width="0.25"/>
<line x1="632.60" y1="253.20" x2="627.41" y2="254.07" stroke="#d6d6d6" stroke-width="0.25"/>
<line x1="632.60" y1="253.20" x2="627.76" y2="250.22" stroke="#d6d6d6" stroke-width="0.25"/>
<line x1="632.60" y1="253.20" x2="640.43" y2="262.52" stroke="#d6d6d6" stroke-width="0.25"/>
<line x1="632.60" y1="253.20" x2="637.47" y2="263.75" stroke="#d6d6d6" stroke-width="0.25"/>
<line x1="632.60" y1="253.20" x2="633.70" y2="264.19" stroke="#d6d6d6" stroke-width="0.25"/>
<line x1="632.60" y1="253.20" x2="630.37" y2="263.27" stroke="#d6d6d6" stroke-width="0.25"/>
<line x1="632.60" y1="253.20" x2="627.55" y2="261.13" stroke="#d6d6d6" stroke-width="0.25"/>
<line x1="632.60" y1="253.20" x2="624.76" y2="258.92" stroke="#d6d6d6" stroke-width="0.25"/>
<line x1="632.60" y1="253.20" x2="623.47" y2="255.62" stroke="#d6d6d6" stroke-width="0.25"/>
<line x1="632.60" y1="253.20" x2="623.72" y2="251.43" stroke="#d6d6d6" stroke-width="0.25"/>
<line x1="632.60" y1="253.20" x2="624.32" y2="248.74" stroke="#d6d6d6" stroke-width="0.25"/>
<line x1="632.60" y1="253.20" x2="626.72" y2="245.73" stroke="#d6d6d6" stroke-width="0.25"/>
<line x1="632.60" y1="253.20" x2="629.16" y2="243.02" stroke="#d6d6d6" stroke-width="0.25"/>
<line x1="632.60" y1="253.20" x2="632.83" y2="241.54" stroke="#d6d6d6" stroke-width="0.25"/>
<line x1="632.60" y1="253.20" x2="636.41" y2="241.95" stroke="#d6d6d6" stroke-width="0.25"/>
<line x1="632.60" y1="253.20" x2="639.98" y2="242.25" stroke="#d6d6d6" stroke-width="0.25"/>
<line x1="632.60" y1="253.20" x2="642.70" y2="244.85" stroke="#d6d6d6" stroke-width="0.25"/>
<line x1="632.60" y1="253.20" x2="645.20" y2="247.32" stroke="#d6d6d6" stroke-width="0.25"/>
<line x1="632.60" y1="253.20" x2="646.00" y2="250.35" stroke="#d6d6d6" stroke-width="0.25"/>
<line x1="632.60" y1="253.20" x2="646.06" y2="254.32" stroke="#d6d6d6" stroke-width="0.25"/>
<line x1="632.60" y1="253.20" x2="645.15" y2="257.26" stroke="#d6d6d6" stroke-width="0.25"/>
<line x1="632.60" y1="253.20" x2="643.51" y2="260.54" stroke="#d6d6d6" stroke-width="0.25"/>
<line x1="632.60" y1="253.20" x2="623.05" y2="244.60" stroke="#d6d6d6" stroke-width="0.25"/>
<line x1="632.60" y1="253.20" x2="624.79" y2="242.29" stroke="#d6d6d6" stroke-width="0.25"/>
<line x1="632.60" y1="253.20" x2="628.07" y2="240.19" stroke="#d6d6d6" stroke-width="0.25"/>
<line x1="632.60" y1="253.20" x2="631.59" y2="239.00" stroke="#d6d6d6" stroke-width="0.25"/>
<line x1="632.60" y1="253.20" x2="635.17" y2="237.89" stroke="#d6d6d6" stroke-width="0.25"/>
<line x1="632.60" y1="253.20" x2="638.21" y2="238.89" stroke="#d6d6d6" stroke-width="0.25"/>
<line x1="632.60" y1="253.20" x2="641.79" y2="240.27" stroke="#d6d6d6" stroke-width="0.25"/>
<line x1="632.60" y1="253.20" x2="645.15" y2="241.85" stroke="#d6d6d6" stroke-width="0.25"/>
<line x1="632.60" y1="253.20" x2="647.33" y2="244.53" stroke="#d6d6d6" stroke-width="0.25"/>
<line x1="632.60" y1="253.20" x2="648.74" y2="247.42" stroke="#d6d6d6" stroke-width="0.25"/>
<line x1="632.60" y1="253.20" x2="650.08" y2="251.53" stroke="#d6d6d6" stroke-width="0.25"/>
<line x1="632.60" y1="253.20" x2="649.70" y2="254.60" stroke="#d6d6d6" stroke-width="0.25"/>
<line x1="632.60" y1="253.20" x2="648.68" y2="258.42" stroke="#d6d6d6" stroke-width="0.25"/>
<line x1="632.60" y1="253.20" x2="647.10" y2="261.59" stroke="#d6d6d6" stroke-width="0.25"/>
<line x1="632.60" y1="253.20" x2="645.01" y2="264.17" stroke="#d6d6d6" stroke-width="0.25"/>
<line x1="632.60" y1="253.20" x2="641.82" y2="266.24" stroke="#d6d6d6" stroke-width="0.25"/>
<line x1="632.60" y1="253.20" x2="638.58" y2="267.57" stroke="#d6d6d6" stroke-width="0.25"/>
<line x1="632.60" y1="253.20" x2="634.89" y2="268.16" stroke="#d6d6d6" stroke-width="0.25"/>
<line x1="632.60" y1="253.20" x2="631.58" y2="266.99" stroke="#d6d6d6" stroke-width="0.25"/>
<line x1="632.60" y1="253.20" x2="627.97" y2="266.27" stroke="#d6d6d6" stroke-width="0.25"/>
<line x1="632.60" y1="253.20" x2="625.48" y2="264.23" stroke="#d6d6d6" stroke-width="0.25"/>
<line x1="632.60" y1="253.20" x2="622.73" y2="261.57" stroke="#d6d6d6" stroke-width="0.25"/>
<line x1="632.60" y1="253.20" x2="621.44" y2="258.18" stroke="#d6d6d6" stroke-width="0.25"/>
<line x1="632.60" y1="253.20" x2="620.61" y2="254.99" stroke="#d6d6d6" stroke-width="0.25"/>
<line x1="632.60" y1="253.20" x2="620.67" y2="251.29" stroke="#d6d6d6" stroke-width="0.25"/>
<line x1="632.60" y1="253.20" x2="620.87" y2="248.07" stroke="#d6d6d6" stroke-width="0.25"/>
<line x1="632.60" y1="253.20" x2="617.32" y2="255.60" stroke="#d6d6d6" stroke-width="0.25"/>
<line x1="632.60" y1="253.20" x2="616.77" y2="252.12" stroke="#d6d6d6" stroke-width="0.25"/>
<line x1="632.60" y1="253.20" x2="617.73" y2="248.35" stroke="#d6d6d6" stroke-width="0.25"/>
<line x1="632.60" y1="253.20" x2="619.04" y2="245.21" stroke="#d6d6d6" stroke-width="0.25"/>
<line x1="632.60" y1="253.20" x2="620.30" y2="241.83" stroke="#d6d6d6" stroke-width="0.25"/>
<line x1="632.60" y1="253.20" x2="623.20" y2="239.29" stroke="#d6d6d6" stroke-width="0.25"/>
<line x1="632.60" y1="253.20" x2="626.04" y2="237.08" stroke="#d6d6d6" stroke-width="0.25"/>
<line x1="632.60" y1="253.20" x2="628.93" y2="235.62" stroke="#d6d6d6" stroke-width="0.25"/>
<line x1="632.60" y1="253.20" x2="632.43" y2="234.91" stroke="#d6d6d6" stroke-width="0.25"/>
<line x1="632.60" y1="253.20" x2="635.73" y2="235.01" stroke="#d6d6d6" stroke-width="0.25"/>
<line x1="632.60" y1="253.20" x2="639.68" y2="235.67" stroke="#d6d6d6" stroke-width="0.25"/>
<line x1="632.60" y1="253.20" x2="643.22" y2="236.42" stroke="#d6d6d6" stroke-width="0.25"/>
<line x1="632.60" y1="253.20" x2="645.72" y2="238.60" stroke="#d6d6d6" stroke-width="0.25"/>
<line x1="632.60" y1="253.20" x2="648.75" y2="240.98" stroke="#d6d6d6" stroke-width="0.25"/>
<line x1="632.60" y1="253.20" x2="650.64" y2="243.61" stroke="#d6d6d6" stroke-width="0.25"/>
<line x1="632.60" y1="253.20" x2="651.89" y2="247.21" stroke="#d6d6d6" stroke-width="0.25"/>
<line x1="632.60" y1="253.20" x2="653.09" y2="250.51" stroke="#d6d6d6" stroke-width="0.25"/>
<line x1="632.60" y1="253.20" x2="653.08" y2="254.00" stroke="#d6d6d6" stroke-width="0.25"/>
<line x1="632.60" y1="253.20" x2="652.48" y2="257.64" stroke="#d6d6d6" stroke-width="0.25"/>
<line x1="632.60" y1="253.20" x2="651.55" y2="260.98" stroke="#d6d6d6" stroke-width="0.25"/>
<line x1="632.60" y1="253.20" x2="649.64" y2="263.50" stroke="#d6d6d6" stroke-width="0.25"/>
<line x1="632.60" y1="253.20" x2="646.98" y2="266.58" stroke="#d6d6d6" stroke-width="0.25"/>
<line x1="632.60" y1="253.20" x2="644.17" y2="268.86" stroke="#d6d6d6" stroke-width="0.25"/>
<line x1="632.60" y1="253.20" x2="640.80" y2="269.80" stroke="#d6d6d6" stroke-width="0.25"/>
<line x1="632.60" y1="253.20" x2="637.80" y2="270.74" stroke="#d6d6d6" stroke-width="0.25"/>
<line x1="632.60" y1="253.20" x2="634.23" y2="271.04" stroke="#d6d6d6" stroke-width="0.25"/>
<line x1="632.60" y1="253.20" x2="630.80" y2="270.40" stroke="#d6d6d6" stroke-width="0.25"/>
<line x1="632.60" y1="253.20" x2="626.96" y2="269.56" stroke="#d6d6d6" stroke-width="0.25"/>
<line x1="632.60" y1="253.20" x2="623.93" y2="267.31" stroke="#d6d6d6" stroke-width="0.25"/>
<line x1="632.60" y1="253.20" x2="621.61" y2="264.88" stroke="#d6d6d6" stroke-width="0.25"/>
<line x1="632.60" y1="253.20" x2="619.67" y2="262.33" stroke="#d6d6d6" stroke-width="0.25"/>
<line x1="632.60" y1="253.20" x2="618.01" y2="258.67" stroke="#d6d6d6" stroke-width="0.25"/>
<line x1="632.60" y1="253.20" x2="639.25" y2="232.29" stroke="#d6d6d6" stroke-width="0.25"/>
<line x1="632.60" y1="253.20" x2="643.25" y2="233.36" stroke="#d6d6d6" stroke-width="0.25"/>
<line x1="632.60" y1="253.20" x2="646.01" y2="235.25" stroke="#d6d6d6" stroke-width="0.25"/>
<line x1="632.60" y1="253.20" x2="649.09" y2="236.95" stroke="#d6d6d6" stroke-width="0.25"/>
<line x1="632.60" y1="253.20" x2="651.20" y2="239.86" stroke="#d6d6d6" stroke-width="0.25"/>
<line x1="632.60" y1="253.20" x2="653.18" y2="242.81" stroke="#d6d6d6" stroke-width="0.25"/>
<line x1="632.60" y1="253.20" x2="654.70" y2="246.23" stroke="#d6d6d6" stroke-width="0.25"/>
<line x1="632.60" y1="253.20" x2="655.33" y2="249.28" stroke="#d6d6d6" stroke-width="0.25"/>
<line x1="632.60" y1="253.20" x2="656.33" y2="253.34" stroke="#d6d6d6" stroke-width="0.25"/>
<line x1="632.60" y1="253.20" x2="655.30" y2="256.80" stroke="#d6d6d6" stroke-width="0.25"/>
<line x1="632.60" y1="253.20" x2="654.85" y2="260.19" stroke="#d6d6d6" stroke-width="0.25"/>
<line x1="632.60" y1="253.20" x2="653.30" y2="263.60" stroke="#d6d6d6" stroke-width="0.25"/>
<line x1="632.60" y1="253.20" x2="651.23" y2="266.50" stroke="#d6d6d6" stroke-width="0.25"/>
<line x1="632.60" y1="253.20" x2="648.69" y2="269.05" stroke="#d6d6d6" stroke-width="0.25"/>
<line x1="632.60" y1="253.20" x2="646.26" y2="271.05" stroke="#d6d6d6" stroke-width="0.25"/>
<line x1="632.60" y1="253.20" x2="642.63" y2="272.72" stroke="#d6d6d6" stroke-width="0.25"/>
<line x1="632.60" y1="253.20" x2="639.11" y2="273.52" stroke="#d6d6d6" stroke-width="0.25"/>
<line x1="632.60" y1="253.20" x2="635.86" y2="273.85" stroke="#d6d6d6" stroke-width="0.25"/>
<line x1="632.60" y1="253.20" x2="632.37" y2="274.08" stroke="#d6d6d6" stroke-width="0.25"/>
<line x1="632.60" y1="253.20" x2="628.61" y2="273.33" stroke="#d6d6d6" stroke-width="0.25"/>
<line x1="632.60" y1="253.20" x2="625.65" y2="271.36" stroke="#d6d6d6" stroke-width="0.25"/>
<line x1="632.60" y1="253.20" x2="622.87" y2="270.27" stroke="#d6d6d6" stroke-width="0.25"/>
<line x1="632.60" y1="253.20" x2="619.46" y2="267.78" stroke="#d6d6d6" stroke-width="0.25"/>
<line x1="632.60" y1="253.20" x2="617.70" y2="265.10" stroke="#d6d6d6" stroke-width="0.25"/>
<line x1="632.60" y1="253.20" x2="615.56" y2="261.46" stroke="#d6d6d6" stroke-width="0.25"/>
<line x1="632.60" y1="253.20" x2="614.39" y2="258.35" stroke="#d6d6d6" stroke-width="0.25"/>
<line x1="632.60" y1="253.20" x2="613.80" y2="254.85" stroke="#d6d6d6" stroke-width="0.25"/>
<line x1="632.60" y1="253.20" x2="613.76" y2="251.09" stroke="#d6d6d6" stroke-width="0.25"/>
<line x1="632.60" y1="253.20" x2="614.33" y2="247.74" stroke="#d6d6d6" stroke-width="0.25"/>
<line x1="632.60" y1="253.20" x2="616.18" y2="244.03" stroke="#d6d6d6" stroke-width="0.25"/>
<line x1="632.60" y1="253.20" x2="617.47" y2="241.30" stroke="#d6d6d6" stroke-width="0.25"/>
<line x1="632.60" y1="253.20" x2="620.21" y2="238.35" stroke="#d6d6d6" stroke-width="0.25"/>
<line x1="632.60" y1="253.20" x2="622.69" y2="235.82" stroke="#d6d6d6" stroke-width="0.25"/>
<line x1="632.60" y1="253.20" x2="625.58" y2="234.56" stroke="#d6d6d6" stroke-width="0.25"/>
<line x1="632.60" y1="253.20" x2="628.97" y2="232.72" stroke="#d6d6d6" stroke-width="0.25"/>
<line x1="632.60" y1="253.20" x2="632.16" y2="232.37" stroke="#d6d6d6" stroke-width="0.25"/>
<line x1="632.60" y1="253.20" x2="635.63" y2="231.81" stroke="#d6d6d6" stroke-width="0.25"/>
<circle cx="543.9" cy="245.4" r="0.60" fill="#22dd22"/>
<circle cx="540.3" cy="243.9" r="0.60" fill="#ee0000"/>
<circle cx="538.8" cy="240.7" r="0.60" fill="#ee0000"/>
<circle cx="540.1" cy="237.2" r="0.60" fill="#22dd22"/>
<circle cx="543.1" cy="235.6" r="0.60" fill="#ee0000"/>
<circle cx="546.9" cy="237.0" r="0.60" fill="#22dd22"/>
<circle cx="546.9" cy="244.0" r="0.60" fill="#22dd22"/>
<circle cx="540.4" cy="248.8" r="0.60" fill="#22dd22"/>
<circle cx="537.7" cy="246.9" r="0.60" fill="#22dd22"/>
<circle cx="535.8" cy="243.3" r="0.60" fill="#22dd22"/>
<circle cx="535.0" cy="240.0" r="0.60" fill="#22dd22"/>
<circle cx="535.9" cy="235.8" r="0.60" fill="#ee0000"/>
<circle cx="539.3" cy="233.3" r="0.60" fill="#22dd22"/>
<circle cx="542.3" cy="232.1" r="0.60" fill="#22dd22"/>
<circle cx="546.1" cy="232.5" r="0.60" fill="#22dd22"/>
<circle cx="549.8" cy="234.6" r="0.60" fill="#22dd22"/>
<circle cx="548.4" cy="247.7" r="0.60" fill="#22dd22"/>
<circle cx="544.3" cy="249.2" r="0.60" fill="#22dd22"/>
<circle cx="540.5" cy="252.5" r="0.60" fill="#22dd22"/>
<circle cx="537.0" cy="251.0" r="0.60" fill="#22dd22"/>
<circle cx="534.2" cy="248.2" r="0.60" fill="#22dd22"/>
<circle cx="532.8" cy="244.9" r="0.60" fill="#22dd22"/>
<circle cx="531.2" cy="241.7" r="0.60" fill="#ee0000"/>
<circle cx="532.1" cy="238.2" r="0.60" fill="#22dd22"/>
<circle cx="533.6" cy="234.2" r="0.60" fill="#ee0000"/>
<circle cx="535.7" cy="231.1" r="0.60" fill="#ee0000"/>
<circle cx="538.7" cy="229.6" r="0.60" fill="#ee0000"/>
<circle cx="542.1" cy="228.8" r="0.60" fill="#ee0000"/>
<circle cx="546.5" cy="229.1" r="0.60" fill="#22dd22"/>
<circle cx="549.6" cy="230.2" r="0.60" fill="#22dd22"/>
<circle cx="552.6" cy="232.7" r="0.60" fill="#22dd22"/>
<circle cx="554.9" cy="235.8" r="0.60" fill="#22dd22"/>
<circle cx="555.6" cy="239.2" r="0.60" fill="#ee0000"/>
<circle cx="555.6" cy="243.2" r="0.60" fill="#22dd22"/>
<circle cx="553.4" cy="246.6" r="0.60" fill="#22dd22"/>
<circle cx="551.0" cy="249.6" r="0.60" fill="#22dd22"/>
<circle cx="547.9" cy="251.6" r="0.60" fill="#22dd22"/>
<circle cx="544.7" cy="252.3" r="0.60" fill="#22dd22"/>
<circle cx="542.2" cy="225.2" r="0.60" fill="#22dd22"/>
<circle cx="546.5" cy="225.5" r="0.60" fill="#22dd22"/>
<circle cx="549.7" cy="226.7" r="0.60" fill="#22dd22"/>
<circle cx="552.6" cy="228.6" r="0.60" fill="#22dd22"/>
<circle cx="555.1" cy="231.1" r="0.60" fill="#22dd22"/>
<circle cx="556.8" cy="234.4" r="0.60" fill="#22dd22"/>
<circle cx="558.1" cy="237.5" r="0.60" fill="#22dd22"/>
<circle cx="558.3" cy="241.1" r="0.60" fill="#22dd22"/>
<circle cx="558.0" cy="244.6" r="0.60" fill="#ee0000"/>
<circle cx="556.2" cy="248.5" r="0.60" fill="#22dd22"/>
<circle cx="554.4" cy="250.8" r="0.60" fill="#ee0000"/>
<circle cx="551.4" cy="253.6" r="0.60" fill="#22dd22"/>
<circle cx="547.8" cy="254.5" r="0.60" fill="#22dd22"/>
<circle cx="544.2" cy="255.7" r="0.60" fill="#22dd22"/>
<circle cx="540.6" cy="255.1" r="0.60" fill="#22dd22"/>
<circle cx="537.5" cy="254.4" r="0.60" fill="#ee0000"/>
<circle cx="534.0" cy="252.2" r="0.60" fill="#22dd22"/>
<circle cx="531.5" cy="249.7" r="0.60" fill="#22dd22"/>
<circle cx="529.8" cy="246.6" r="0.60" fill="#22dd22"/>
<circle cx="528.5" cy="242.8" r="0.60" fill="#22dd22"/>
<circle cx="528.8" cy="240.0" r="0.60" fill="#22dd22"/>
<circle cx="529.5" cy="236.4" r="0.60" fill="#ee0000"/>
<circle cx="530.8" cy="233.0" r="0.60" fill="#22dd22"/>
<circle cx="532.9" cy="229.7" r="0.60" fill="#ee0000"/>
<circle cx="535.5" cy="227.3" r="0.60" fill="#22dd22"/>
<circle cx="538.8" cy="226.4" r="0.60" fill="#ee0000"/>
<circle cx="629.5" cy="247.6" r="0.60" fill="#22dd22"/>
<circle cx="632.5" cy="245.8" r="0.60" fill="#ee0000"/>
<circle cx="635.8" cy="245.4" r="0.60" fill="#22dd22"/>
<circle cx="639.6" cy="245.9" r="0.60" fill="#22dd22"/>
<circle cx="641.6" cy="248.8" r="0.60" fill="#22dd22"/>
<circle cx="642.6" cy="251.9" r="0.60" fill="#22dd22"/>
<circle cx="642.9" cy="255.8" r="0.60" fill="#ee0000"/>
<circle cx="640.9" cy="258.4" r="0.60" fill="#22dd22"/>
<circle cx="637.4" cy="260.1" r="0.60" fill="#22dd22"/>
<circle cx="633.9" cy="260.7" r="0.60" fill="#22dd22"/>
<circle cx="631.1" cy="259.6" r="0.60" fill="#22dd22"/>
<circle cx="628.3" cy="257.4" r="0.60" fill="#ee0000"/>
<circle cx="627.4" cy="254.1" r="0.60" fill="#22dd22"/>
<circle cx="627.8" cy="250.2" r="0.60" fill="#22dd22"/>
<circle cx="640.4" cy="262.5" r="0.60" fill="#22dd22"/>
<circle cx="637.5" cy="263.7" r="0.60" fill="#22dd22"/>
<circle cx="633.7" cy="264.2" r="0.60" fill="#22dd22"/>
<circle cx="630.4" cy="263.3" r="0.60" fill="#22dd22"/>
<circle cx="627.5" cy="261.1" r="0.60" fill="#22dd22"/>
<circle cx="624.8" cy="258.9" r="0.60" fill="#22dd22"/>
<circle cx="623.5" cy="255.6" r="0.60" fill="#22dd22"/>
<circle cx="623.7" cy="251.4" r="0.60" fill="#ee0000"/>
<circle cx="624.3" cy="248.7" r="0.60" fill="#ee0000"/>
<circle cx="626.7" cy="245.7" r="0.60" fill="#22dd22"/>
<circle cx="629.2" cy="243.0" r="0.60" fill="#22dd22"/>
<circle cx="632.8" cy="241.5" r="0.60" fill="#22dd22"/>
<circle cx="636.4" cy="241.9" r="0.60" fill="#ee0000"/>
<circle cx="640.0" cy="242.3" r="0.60" fill="#22dd22"/>
<circle cx="642.7" cy="244.8" r="0.60" fill="#22dd22"/>
<circle cx="645.2" cy="247.3" r="0.60" fill="#22dd22"/>
<circle cx="646.0" cy="250.4" r="0.60" fill="#ee0000"/>
<circle cx="646.1" cy="254.3" r="0.60" fill="#22dd22"/>
<circle cx="645.2" cy="257.3" r="0.60" fill="#22dd22"/>
<circle cx="643.5" cy="260.5" r="0.60" fill="#ee0000"/>
<circle cx="623.0" cy="244.6" r="0.60" fill="#22dd22"/>
<circle cx="624.8" cy="242.3" r="0.60" fill="#ee0000"/>
<circle cx="628.1" cy="240.2" r="0.60" fill="#ee0000"/>
<circle cx="631.6" cy="239.0" r="0.60" fill="#22dd22"/>
<circle cx="635.2" cy="237.9" r="0.60" fill="#22dd22"/>
<circle cx="638.2" cy="238.9" r="0.60" fill="#22dd22"/>
<circle cx="641.8" cy="240.3" r="0.60" fill="#22dd22"/>
<circle cx="645.2" cy="241.8" r="0.60" fill="#22dd22"/>
<circle cx="647.3" cy="244.5" r="0.60" fill="#22dd22"/>
<circle cx="648.7" cy="247.4" r="0.60" fill="#22dd22"/>
<circle cx="650.1" cy="251.5" r="0.60" fill="#22dd22"/>
<circle cx="649.7" cy="254.6" r="0.60" fill="#ee0000"/>
<circle cx="648.7" cy="258.4" r="0.60" fill="#22dd22"/>
<circle cx="647.1" cy="261.6" r="0.60" fill="#22dd22"/>
<circle cx="645.0" cy="264.2" r="0.60" fill="#22dd22"/>
<circle cx="641.8" cy="266.2" r="0.60" fill="#22dd22"/>
<circle cx="638.6" cy="267.6" r="0.60" fill="#22dd22"/>
<circle cx="634.9" cy="268.2" r="0.60" fill="#22dd22"/>
<circle cx="631.6" cy="267.0" r="0.60" fill="#22dd22"/>
<circle cx="628.0" cy="266.3" r="0.60" fill="#22dd22"/>
<circle cx="625.5" cy="264.2" r="0.60" fill="#22dd22"/>
<circle cx="622.7" cy="261.6" r="0.60" fill="#22dd22"/>
<circle cx="621.4" cy="258.2" r="0.60" fill="#22dd22"/>
<circle cx="620.6" cy="255.0" r="0.60" fill="#22dd22"/>
<circle cx="620.7" cy="251.3" r="0.60" fill="#22dd22"/>
<circle cx="620.9" cy="248.1" r="0.60" fill="#22dd22"/>
<circle cx="617.3" cy="255.6" r="0.60" fill="#22dd22"/>
<circle cx="616.8" cy="252.1" r="0.60" fill="#22dd22"/>
<circle cx="617.7" cy="248.3" r="0.60" fill="#22dd22"/>
<circle cx="619.0" cy="245.2" r="0.60" fill="#22dd22"/>
<circle cx="620.3" cy="241.8" r="0.60" fill="#22dd22"/>
<circle cx="623.2" cy="239.3" r="0.60" fill="#22dd22"/>
<circle cx="626.0" cy="237.1" r="0.60" fill="#22dd22"/>
<circle cx="628.9" cy="235.6" r="0.60" fill="#ee0000"/>
<circle cx="632.4" cy="234.9" r="0.60" fill="#ee0000"/>
<circle cx="635.7" cy="235.0" r="0.60" fill="#22dd22"/>
<circle cx="639.7" cy="235.7" r="0.60" fill="#ee0000"/>
<circle cx="643.2" cy="236.4" r="0.60" fill="#22dd22"/>
<circle cx="645.7" cy="238.6" r="0.60" fill="#ee0000"/>
<circle cx="648.7" cy="241.0" r="0.60" fill="#ee0000"/>
<circle cx="650.6" cy="243.6" r="0.60" fill="#22dd22"/>
<circle cx="651.9" cy="247.2" r="0.60" fill="#22dd22"/>
<circle cx="653.1" cy="250.5" r="0.60" fill="#22dd22"/>
<circle cx="653.1" cy="254.0" r="0.60" fill="#ee0000"/>
<circle cx="652.5" cy="257.6" r="0.60" fill="#22dd22"/>
<circle cx="651.6" cy="261.0" r="0.60" fill="#22dd22"/>
<circle cx="649.6" cy="263.5" r="0.60" fill="#ee0000"/>
<circle cx="647.0" cy="266.6" r="0.60" fill="#ee0000"/>
<circle cx="644.2" cy="268.9" r="0.60" fill="#22dd22"/>
<circle cx="640.8" cy="269.8" r="0.60" fill="#22dd22"/>
<circle cx="637.8" cy="270.7" r="0.60" fill="#22dd22"/>
<circle cx="634.2" cy="271.0" r="0.60" fill="#ee0000"/>
<circle cx="630.8" cy="270.4" r="0.60" fill="#22dd22"/>
<circle cx="627.0" cy="269.6" r="0.60" fill="#22dd22"/>
<circle cx="623.9" cy="267.3" r="0.60" fill="#ee0000"/>
<circle cx="621.6" cy="264.9" r="0.60" fill="#22dd22"/>
<circle cx="619.7" cy="262.3" r="0.60" fill="#ee0000"/>
<circle cx="618.0" cy="258.7" r="0.60" fill="#22dd22"/>
<circle cx="639.2" cy="232.3" r="0.60" fill="#ee0000"/>
<circle cx="643.2" cy="233.4" r="0.60" fill="#22dd22"/>
<circle cx="646.0" cy="235.2" r="0.60" fill="#22dd22"/>
<circle cx="649.1" cy="236.9" r="0.60" fill="#22dd22"/>
<circle cx="651.2" cy="239.9" r="0.60" fill="#22dd22"/>
<circle cx="653.2" cy="242.8" r="0.60" fill="#22dd22"/>
<circle cx="654.7" cy="246.2" r="0.60" fill="#22dd22"/>
<circle cx="655.3" cy="249.3" r="0.60" fill="#22dd22"/>
<circle cx="656.3" cy="253.3" r="0.60" fill="#22dd22"/>
<circle cx="655.3" cy="256.8" r="0.60" fill="#22dd22"/>
<circle cx="654.9" cy="260.2" r="0.60" fill="#22dd22"/>
<circle cx="653.3" cy="263.6" r="0.60" fill="#22dd22"/>
<circle cx="651.2" cy="266.5" r="0.60" fill="#ee0000"/>
<circle cx="648.7" cy="269.0" r="0.60" fill="#ee0000"/>
<circle cx="646.3" cy="271.1" r="0.60" fill="#22dd22"/>
<circle cx="642.6" cy="272.7" r="0.60" fill="#22dd22"/>
<circle cx="639.1" cy="273.5" r="0.60" fill="#22dd22"/>
<circle cx="635.9" cy="273.8" r="0.60" fill="#ee0000"/>
<circle cx="632.4" cy="274.1" r="0.60" fill="#ee0000"/>
<circle cx="628.6" cy="273.3" r="0.60" fill="#22dd22"/>
<circle cx="625.7" cy="271.4" r="0.60" fill="#22dd22"/>
<circle cx="622.9" cy="270.3" r="0.60" fill="#22dd22"/>
<circle cx="619.5" cy="267.8" r="0.60" fill="#ee0000"/>
<circle cx="617.7" cy="265.1" r="0.60" fill="#22dd22"/>
<circle cx="615.6" cy="261.5" r="0.60" fill="#22dd22"/>
<circle cx="614.4" cy="258.4" r="0.60" fill="#22dd22"/>
<circle cx="613.8" cy="254.9" r="0.60" fill="#ee0000"/>
<circle cx="613.8" cy="251.1" r="0.60" fill="#ee0000"/>
<circle cx="614.3" cy="247.7" r="0.60" fill="#22dd22"/>
<circle cx="616.2" cy="244.0" r="0.60" fill="#22dd22"/>
<circle cx="617.5" cy="241.3" r="0.60" fill="#22dd22"/>
<circle cx="620.2" cy="238.3" r="0.60" fill="#ee0000"/>
<circle cx="622.7" cy="235.8" r="0.60" fill="#22dd22"/>
<circle cx="625.6" cy="234.6" r="0.60" fill="#22dd22"/>
<circle cx="629.0" cy="232.7" r="0.60" fill="#22dd22"/>
<circle cx="632.2" cy="232.4" r="0.60" fill="#22dd22"/>
<circle cx="635.6" cy="231.8" r="0.60" fill="#22dd22"/>
<circle cx="538.9" cy="228.3" r="1.45" fill="#ee0000"/>
<circle cx="547.6" cy="226.9" r="1.45" fill="#22dd22"/>
<circle cx="538.5" cy="232.6" r="1.45" fill="#22dd22"/>
<circle cx="532.0" cy="235.3" r="1.45" fill="#22dd22"/>
<circle cx="533.5" cy="246.3" r="1.45" fill="#ee0000"/>
<circle cx="547.2" cy="248.5" r="1.45" fill="#22dd22"/>
<circle cx="542.0" cy="254.2" r="1.45" fill="#22dd22"/>
<circle cx="622.4" cy="236.4" r="1.45" fill="#22dd22"/>
<circle cx="627.4" cy="239.0" r="1.45" fill="#ee0000"/>
<circle cx="631.4" cy="239.6" r="1.45" fill="#22dd22"/>
<circle cx="635.0" cy="237.3" r="1.45" fill="#22dd22"/>
<circle cx="645.5" cy="247.0" r="1.45" fill="#ee0000"/>
<circle cx="651.5" cy="243.0" r="1.45" fill="#ee0000"/>
<circle cx="654.6" cy="251.5" r="1.45" fill="#22dd22"/>
<circle cx="614.3" cy="254.6" r="1.45" fill="#22dd22"/>
<circle cx="648.0" cy="265.8" r="1.45" fill="#22dd22"/>
<circle cx="591.2" cy="247.0" r="1.20" fill="#22dd22"/>
<circle cx="592.0" cy="248.4" r="1.00" fill="#ee0000"/>
<circle cx="552.5" cy="267.0" r="1.40" fill="#22dd22"/>
<circle cx="556.9" cy="275.0" r="1.40" fill="#22dd22"/>
<circle cx="594.6" cy="272.3" r="1.40" fill="#22dd22"/>
<circle cx="598.8" cy="279.3" r="1.40" fill="#22dd22"/>
<circle cx="552.0" cy="323.5" r="1.40" fill="#ee0000"/>
<line x1="557.70" y1="289.50" x2="543.00" y2="290.00" stroke="#d8d8d8" stroke-width="0.3"/>
<circle cx="543.0" cy="290.0" r="1.40" fill="#22dd22"/>
<line x1="557.70" y1="289.50" x2="546.50" y2="291.70" stroke="#d8d8d8" stroke-width="0.3"/>
<circle cx="546.5" cy="291.7" r="1.40" fill="#ee0000"/>
<line x1="557.70" y1="289.50" x2="552.50" y2="297.00" stroke="#d8d8d8" stroke-width="0.3"/>
<circle cx="552.5" cy="297.0" r="1.40" fill="#22dd22"/>
<line x1="557.70" y1="289.50" x2="555.50" y2="300.20" stroke="#d8d8d8" stroke-width="0.3"/>
<circle cx="555.5" cy="300.2" r="1.40" fill="#22dd22"/>
<line x1="557.70" y1="289.50" x2="542.00" y2="293.30" stroke="#d8d8d8" stroke-width="0.3"/>
<circle cx="542.0" cy="293.3" r="0.50" fill="#ee0000"/>
<line x1="557.70" y1="289.50" x2="545.50" y2="297.00" stroke="#d8d8d8" stroke-width="0.3"/>
<circle cx="545.5" cy="297.0" r="0.50" fill="#22dd22"/>
<line x1="557.70" y1="289.50" x2="548.00" y2="300.50" stroke="#d8d8d8" stroke-width="0.3"/>
<circle cx="548.0" cy="300.5" r="0.50" fill="#22dd22"/>
<line x1="557.70" y1="289.50" x2="550.50" y2="301.00" stroke="#d8d8d8" stroke-width="0.3"/>
<circle cx="550.5" cy="301.0" r="0.50" fill="#ee0000"/>
<line x1="557.70" y1="289.50" x2="544.00" y2="294.50" stroke="#d8d8d8" stroke-width="0.3"/>
<circle cx="544.0" cy="294.5" r="0.50" fill="#22dd22"/>
<line x1="565.50" y1="302.10" x2="554.00" y2="313.00" stroke="#d8d8d8" stroke-width="0.3"/>
<circle cx="554.0" cy="313.0" r="1.40" fill="#22dd22"/>
<line x1="565.50" y1="302.10" x2="557.50" y2="310.50" stroke="#d8d8d8" stroke-width="0.3"/>
<circle cx="557.5" cy="310.5" r="1.40" fill="#22dd22"/>
<line x1="565.50" y1="302.10" x2="558.00" y2="314.50" stroke="#d8d8d8" stroke-width="0.3"/>
<circle cx="558.0" cy="314.5" r="1.40" fill="#22dd22"/>
<line x1="565.50" y1="302.10" x2="561.30" y2="315.00" stroke="#d8d8d8" stroke-width="0.3"/>
<circle cx="561.3" cy="315.0" r="1.40" fill="#ee0000"/>
<line x1="565.50" y1="302.10" x2="563.00" y2="317.60" stroke="#d8d8d8" stroke-width="0.3"/>
<circle cx="563.0" cy="317.6" r="1.40" fill="#22dd22"/>
<line x1="565.50" y1="302.10" x2="565.50" y2="313.50" stroke="#d8d8d8" stroke-width="0.3"/>
<circle cx="565.5" cy="313.5" r="1.40" fill="#22dd22"/>
<line x1="565.50" y1="302.10" x2="568.20" y2="316.40" stroke="#d8d8d8" stroke-width="0.3"/>
<circle cx="568.2" cy="316.4" r="1.40" fill="#22dd22"/>
<line x1="565.50" y1="302.10" x2="570.30" y2="313.30" stroke="#d8d8d8" stroke-width="0.3"/>
<circle cx="570.3" cy="313.3" r="1.40" fill="#22dd22"/>
<line x1="540.60" y1="341.20" x2="531.80" y2="349.80" stroke="#d8d8d8" stroke-width="0.3"/>
<circle cx="531.8" cy="349.8" r="1.40" fill="#22dd22"/>
<line x1="540.60" y1="341.20" x2="536.00" y2="352.00" stroke="#d8d8d8" stroke-width="0.3"/>
<circle cx="536.0" cy="352.0" r="1.40" fill="#22dd22"/>
<line x1="557.70" y1="289.50" x2="565.50" y2="302.10" stroke="#d8d8d8" stroke-width="0.4"/>
<circle cx="551.7" cy="241.8" r="3.10" fill="#ffff00" stroke="#d8d000" stroke-width="0.3"/>
<line x1="549.38" y1="241.80" x2="554.03" y2="241.80" stroke="#555" stroke-width="0.7"/>
<circle cx="632.6" cy="253.2" r="3.10" fill="#ffff00" stroke="#d8d000" stroke-width="0.3"/>
<line x1="630.27" y1="253.20" x2="634.93" y2="253.20" stroke="#555" stroke-width="0.7"/>
<circle cx="557.7" cy="289.5" r="3.10" fill="#ffff00" stroke="#d8d000" stroke-width="0.3"/>
<line x1="555.38" y1="289.50" x2="560.03" y2="289.50" stroke="#555" stroke-width="0.7"/>
<circle cx="565.5" cy="302.1" r="3.10" fill="#ffff00" stroke="#d8d000" stroke-width="0.3"/>
<line x1="563.17" y1="302.10" x2="567.83" y2="302.10" stroke="#555" stroke-width="0.7"/>
<circle cx="540.6" cy="341.2" r="3.10" fill="#ffff00" stroke="#d8d000" stroke-width="0.3"/>
<line x1="538.27" y1="341.20" x2="542.93" y2="341.20" stroke="#555" stroke-width="0.7"/>
<rect x="245.5" y="220.6" width="415.9" height="138.2" fill="none" stroke="#111" stroke-width="1.4"/>
<line x1="384.40" y1="220.60" x2="384.40" y2="358.80" stroke="#111" stroke-width="1.3"/>
<line x1="522.90" y1="220.60" x2="522.90" y2="358.80" stroke="#111" stroke-width="1.5"/>
<text x="249.20" y="233.30" font-size="13.2" stroke="#000" stroke-width="0.15">d</text>
<text x="386.60" y="234.00" font-size="14" stroke="#000" stroke-width="0.35">e</text>
<text x="529.60" y="232.80" font-size="12.5" stroke="#000" stroke-width="0.15">f</text>
</svg></body></html>
